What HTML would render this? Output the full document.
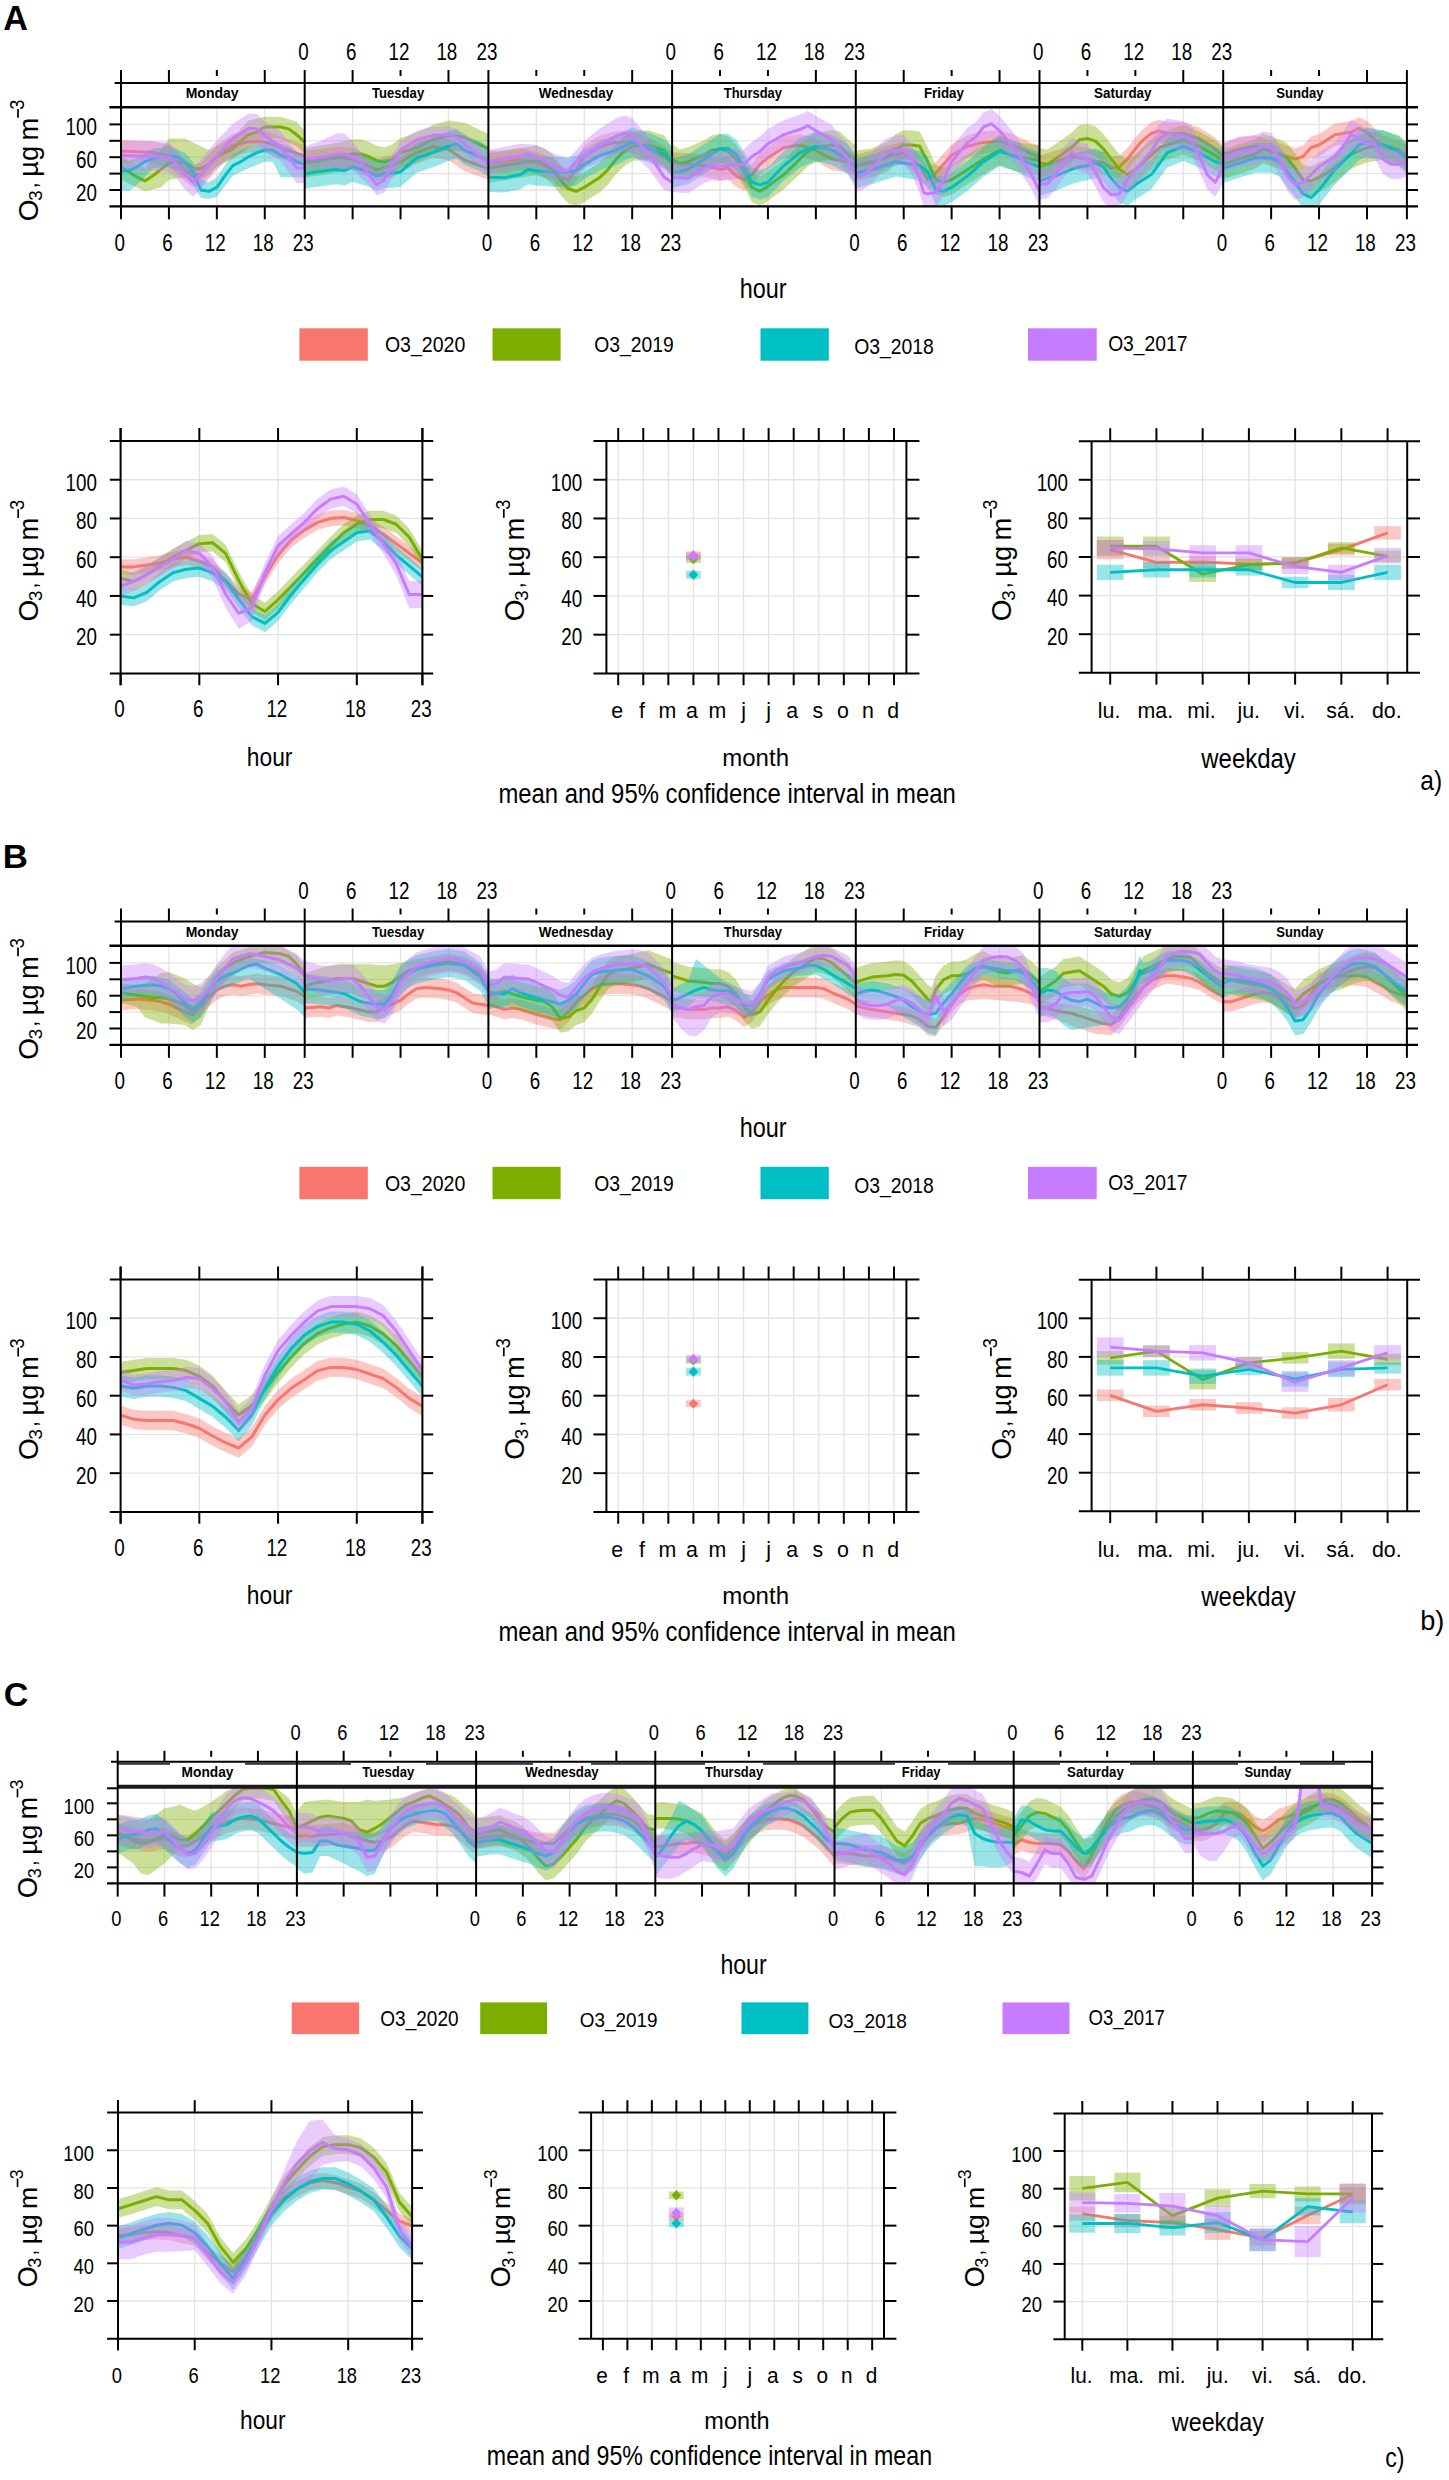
<!DOCTYPE html><html><head><meta charset="utf-8"><style>html,body{margin:0;padding:0;background:#fff;}svg{display:block;}text{font-family:"Liberation Sans",sans-serif;}</style></head><body>
<svg width="1449" height="2480" viewBox="0 0 1449 2480">
<rect width="1449" height="2480" fill="#fff"/>
<text transform="translate(3.15,30.00) scale(0.9786,1)" font-size="34.93" font-weight="bold" fill="#000" >A</text>
<text transform="translate(2.74,867.60) scale(1.0518,1)" font-size="33.04" font-weight="bold" fill="#000" >B</text>
<text transform="translate(3.64,1706.40) scale(1.0499,1)" font-size="32.43" font-weight="bold" fill="#000" >C</text>
<g transform="translate(0,0)"><line x1="168.92" y1="108.00" x2="168.92" y2="206.40" stroke="#e3e3e3" stroke-width="1.3"/><line x1="216.84" y1="108.00" x2="216.84" y2="206.40" stroke="#e3e3e3" stroke-width="1.3"/><line x1="264.77" y1="108.00" x2="264.77" y2="206.40" stroke="#e3e3e3" stroke-width="1.3"/><line x1="352.62" y1="108.00" x2="352.62" y2="206.40" stroke="#e3e3e3" stroke-width="1.3"/><line x1="400.54" y1="108.00" x2="400.54" y2="206.40" stroke="#e3e3e3" stroke-width="1.3"/><line x1="448.47" y1="108.00" x2="448.47" y2="206.40" stroke="#e3e3e3" stroke-width="1.3"/><line x1="536.32" y1="108.00" x2="536.32" y2="206.40" stroke="#e3e3e3" stroke-width="1.3"/><line x1="584.24" y1="108.00" x2="584.24" y2="206.40" stroke="#e3e3e3" stroke-width="1.3"/><line x1="632.17" y1="108.00" x2="632.17" y2="206.40" stroke="#e3e3e3" stroke-width="1.3"/><line x1="720.02" y1="108.00" x2="720.02" y2="206.40" stroke="#e3e3e3" stroke-width="1.3"/><line x1="767.94" y1="108.00" x2="767.94" y2="206.40" stroke="#e3e3e3" stroke-width="1.3"/><line x1="815.87" y1="108.00" x2="815.87" y2="206.40" stroke="#e3e3e3" stroke-width="1.3"/><line x1="903.72" y1="108.00" x2="903.72" y2="206.40" stroke="#e3e3e3" stroke-width="1.3"/><line x1="951.64" y1="108.00" x2="951.64" y2="206.40" stroke="#e3e3e3" stroke-width="1.3"/><line x1="999.57" y1="108.00" x2="999.57" y2="206.40" stroke="#e3e3e3" stroke-width="1.3"/><line x1="1087.42" y1="108.00" x2="1087.42" y2="206.40" stroke="#e3e3e3" stroke-width="1.3"/><line x1="1135.34" y1="108.00" x2="1135.34" y2="206.40" stroke="#e3e3e3" stroke-width="1.3"/><line x1="1183.27" y1="108.00" x2="1183.27" y2="206.40" stroke="#e3e3e3" stroke-width="1.3"/><line x1="1271.12" y1="108.00" x2="1271.12" y2="206.40" stroke="#e3e3e3" stroke-width="1.3"/><line x1="1319.04" y1="108.00" x2="1319.04" y2="206.40" stroke="#e3e3e3" stroke-width="1.3"/><line x1="1366.97" y1="108.00" x2="1366.97" y2="206.40" stroke="#e3e3e3" stroke-width="1.3"/><line x1="121.00" y1="190.00" x2="1406.90" y2="190.00" stroke="#e3e3e3" stroke-width="1.3"/><line x1="121.00" y1="173.60" x2="1406.90" y2="173.60" stroke="#e3e3e3" stroke-width="1.3"/><line x1="121.00" y1="157.20" x2="1406.90" y2="157.20" stroke="#e3e3e3" stroke-width="1.3"/><line x1="121.00" y1="140.80" x2="1406.90" y2="140.80" stroke="#e3e3e3" stroke-width="1.3"/><line x1="121.00" y1="124.40" x2="1406.90" y2="124.40" stroke="#e3e3e3" stroke-width="1.3"/><svg x="121.0" y="108.0" width="1285.8999999999999" height="98.4" viewBox="121.0 108.0 1285.8999999999999 98.4" overflow="hidden"><path d="M121.00,139.80 L136.97,140.57 L152.95,141.47 L168.92,144.81 L184.90,158.96 L192.88,164.75 L200.87,163.08 L208.86,154.72 L216.84,144.81 L232.82,134.01 L248.79,130.66 L264.77,130.66 L280.74,136.45 L296.71,142.24 L304.70,144.81 L304.70,167.00 L296.71,164.43 L280.74,158.64 L264.77,152.85 L248.79,152.85 L232.82,156.20 L216.84,167.00 L208.86,176.91 L200.87,185.27 L192.88,186.94 L184.90,181.15 L168.92,167.00 L152.95,163.66 L136.97,162.76 L121.00,161.98 Z" fill="#F8766D" fill-opacity="0.4" stroke="none"/><path d="M121.00,150.89 L136.97,151.66 L152.95,152.56 L168.92,155.91 L184.90,170.06 L192.88,175.84 L200.87,174.17 L208.86,165.81 L216.84,155.91 L232.82,145.10 L248.79,141.76 L264.77,141.76 L280.74,147.55 L296.71,153.33 L304.70,155.91" fill="none" stroke="#F8766D" stroke-width="3.0" stroke-linejoin="round"/><path d="M304.70,150.60 L320.67,148.93 L336.65,146.49 L352.62,148.03 L368.60,154.72 L376.58,158.96 L384.57,156.39 L392.56,154.72 L400.54,150.60 L416.52,141.47 L432.49,135.68 L448.47,138.12 L464.44,148.93 L480.41,154.72 L488.40,157.29 L488.40,179.48 L480.41,176.91 L464.44,171.12 L448.47,160.31 L432.49,157.87 L416.52,163.66 L400.54,172.79 L392.56,176.91 L384.57,178.58 L376.58,181.15 L368.60,176.91 L352.62,170.22 L336.65,168.67 L320.67,171.12 L304.70,172.79 Z" fill="#F8766D" fill-opacity="0.4" stroke="none"/><path d="M304.70,161.70 L320.67,160.02 L336.65,157.58 L352.62,159.12 L368.60,165.81 L376.58,170.06 L384.57,167.48 L392.56,165.81 L400.54,161.70 L416.52,152.56 L432.49,146.77 L448.47,149.22 L464.44,160.02 L480.41,165.81 L488.40,168.38" fill="none" stroke="#F8766D" stroke-width="3.0" stroke-linejoin="round"/><path d="M488.40,150.60 L504.37,150.60 L520.35,148.03 L536.32,151.89 L552.30,158.32 L560.28,166.04 L568.27,168.61 L576.26,158.32 L584.24,145.46 L600.22,135.17 L616.19,131.31 L632.17,130.66 L648.14,137.74 L664.11,145.46 L672.10,151.89 L672.10,174.08 L664.11,167.64 L648.14,159.93 L632.17,152.85 L616.19,153.50 L600.22,157.35 L584.24,167.64 L576.26,180.51 L568.27,190.80 L560.28,188.22 L552.30,180.51 L536.32,174.08 L520.35,170.22 L504.37,172.79 L488.40,172.79 Z" fill="#F8766D" fill-opacity="0.4" stroke="none"/><path d="M488.40,161.70 L504.37,161.70 L520.35,159.12 L536.32,162.98 L552.30,169.41 L560.28,177.13 L568.27,179.70 L576.26,169.41 L584.24,156.55 L600.22,146.26 L616.19,142.40 L632.17,141.76 L648.14,148.83 L664.11,156.55 L672.10,162.98" fill="none" stroke="#F8766D" stroke-width="3.0" stroke-linejoin="round"/><path d="M672.10,151.89 L688.07,153.17 L704.05,154.46 L720.02,158.32 L728.01,157.03 L736.00,164.75 L743.98,168.61 L751.97,163.46 L759.96,153.17 L767.94,146.74 L783.92,136.45 L799.89,133.88 L815.87,139.02 L831.84,148.03 L847.81,150.60 L855.80,154.46 L855.80,176.65 L847.81,172.79 L831.84,170.22 L815.87,161.21 L799.89,156.07 L783.92,158.64 L767.94,168.93 L759.96,175.36 L751.97,185.65 L743.98,190.80 L736.00,186.94 L728.01,179.22 L720.02,180.51 L704.05,176.65 L688.07,175.36 L672.10,174.08 Z" fill="#F8766D" fill-opacity="0.4" stroke="none"/><path d="M672.10,162.98 L688.07,164.27 L704.05,165.55 L720.02,169.41 L728.01,168.13 L736.00,175.84 L743.98,179.70 L751.97,174.56 L759.96,164.27 L767.94,157.84 L783.92,147.55 L799.89,144.97 L815.87,150.12 L831.84,159.12 L847.81,161.70 L855.80,165.55" fill="none" stroke="#F8766D" stroke-width="3.0" stroke-linejoin="round"/><path d="M855.80,154.46 L871.77,150.60 L887.75,145.46 L903.72,141.60 L919.70,154.46 L927.68,168.61 L935.67,162.18 L943.66,153.17 L951.64,144.17 L967.62,135.17 L983.59,131.31 L999.57,130.02 L1015.54,135.17 L1031.51,142.88 L1039.50,145.46 L1039.50,167.64 L1031.51,165.07 L1015.54,157.35 L999.57,152.21 L983.59,153.50 L967.62,157.35 L951.64,166.36 L943.66,175.36 L935.67,184.37 L927.68,190.80 L919.70,176.65 L903.72,163.79 L887.75,167.64 L871.77,172.79 L855.80,176.65 Z" fill="#F8766D" fill-opacity="0.4" stroke="none"/><path d="M855.80,165.55 L871.77,161.70 L887.75,156.55 L903.72,152.69 L919.70,165.55 L927.68,179.70 L935.67,173.27 L943.66,164.27 L951.64,155.26 L967.62,146.26 L983.59,142.40 L999.57,141.12 L1015.54,146.26 L1031.51,153.98 L1039.50,156.55" fill="none" stroke="#F8766D" stroke-width="3.0" stroke-linejoin="round"/><path d="M1039.50,155.75 L1055.47,150.60 L1071.45,145.46 L1087.42,148.03 L1103.40,151.89 L1111.38,157.03 L1119.37,155.75 L1127.36,148.03 L1135.34,137.74 L1143.33,128.73 L1151.32,122.30 L1159.30,119.73 L1167.29,122.30 L1183.27,122.30 L1199.24,127.45 L1215.21,137.74 L1223.20,145.46 L1223.20,167.64 L1215.21,159.93 L1199.24,149.64 L1183.27,144.49 L1167.29,144.49 L1159.30,141.92 L1151.32,144.49 L1143.33,150.92 L1135.34,159.93 L1127.36,170.22 L1119.37,177.93 L1111.38,179.22 L1103.40,174.08 L1087.42,170.22 L1071.45,167.64 L1055.47,172.79 L1039.50,177.93 Z" fill="#F8766D" fill-opacity="0.4" stroke="none"/><path d="M1039.50,166.84 L1055.47,161.70 L1071.45,156.55 L1087.42,159.12 L1103.40,162.98 L1111.38,168.13 L1119.37,166.84 L1127.36,159.12 L1135.34,148.83 L1143.33,139.83 L1151.32,133.40 L1159.30,130.82 L1167.29,133.40 L1183.27,133.40 L1199.24,138.54 L1215.21,148.83 L1223.20,156.55" fill="none" stroke="#F8766D" stroke-width="3.0" stroke-linejoin="round"/><path d="M1223.20,142.88 L1239.17,137.74 L1255.15,135.17 L1271.12,140.31 L1287.10,145.46 L1295.08,148.03 L1303.07,145.46 L1311.06,136.45 L1319.04,133.88 L1335.02,123.59 L1350.99,121.02 L1358.98,117.16 L1366.97,121.02 L1374.95,128.73 L1382.94,135.17 L1398.91,140.31 L1406.90,144.17 L1406.90,166.36 L1398.91,162.50 L1382.94,157.35 L1374.95,150.92 L1366.97,143.21 L1358.98,139.35 L1350.99,143.21 L1335.02,145.78 L1319.04,156.07 L1311.06,158.64 L1303.07,167.64 L1295.08,170.22 L1287.10,167.64 L1271.12,162.50 L1255.15,157.35 L1239.17,159.93 L1223.20,165.07 Z" fill="#F8766D" fill-opacity="0.4" stroke="none"/><path d="M1223.20,153.98 L1239.17,148.83 L1255.15,146.26 L1271.12,151.41 L1287.10,156.55 L1295.08,159.12 L1303.07,156.55 L1311.06,147.55 L1319.04,144.97 L1335.02,134.68 L1350.99,132.11 L1358.98,128.25 L1366.97,132.11 L1374.95,139.83 L1382.94,146.26 L1398.91,151.41 L1406.90,155.26" fill="none" stroke="#F8766D" stroke-width="3.0" stroke-linejoin="round"/><path d="M121.00,156.55 L128.99,160.41 L136.97,164.27 L144.96,168.13 L152.95,159.12 L160.93,150.12 L168.92,138.54 L176.91,138.54 L184.90,138.54 L192.88,142.40 L200.87,146.26 L208.86,150.12 L216.84,146.26 L232.82,137.26 L240.80,128.90 L248.79,120.53 L256.78,118.61 L264.77,116.68 L280.74,116.68 L288.73,119.25 L296.71,121.82 L304.70,130.82 L304.70,153.98 L296.71,146.26 L288.73,142.40 L280.74,138.54 L264.77,138.54 L256.78,143.04 L248.79,147.55 L240.80,153.33 L232.82,159.12 L216.84,166.84 L208.86,174.56 L200.87,179.70 L192.88,178.42 L184.90,177.13 L176.91,178.42 L168.92,179.70 L160.93,187.42 L152.95,189.35 L144.96,191.28 L136.97,187.42 L128.99,183.56 L121.00,179.70 Z" fill="#7CAE00" fill-opacity="0.4" stroke="none"/><path d="M121.00,166.84 L128.99,171.99 L136.97,177.13 L144.96,180.99 L152.95,175.84 L160.93,169.41 L168.92,162.98 L176.91,161.70 L184.90,162.98 L192.88,168.13 L200.87,168.77 L208.86,164.27 L216.84,156.55 L232.82,148.83 L240.80,141.12 L248.79,134.68 L256.78,132.11 L264.77,126.97 L280.74,126.97 L288.73,128.90 L296.71,134.68 L304.70,142.40" fill="none" stroke="#7CAE00" stroke-width="3.0" stroke-linejoin="round"/><path d="M304.70,148.19 L320.67,145.62 L336.65,143.04 L352.62,139.19 L360.61,139.19 L368.60,141.76 L376.58,145.62 L384.57,147.55 L392.56,144.33 L400.54,137.90 L416.52,132.75 L432.49,125.04 L448.47,120.53 L464.44,122.46 L480.41,130.18 L488.40,134.04 L488.40,163.62 L480.41,159.77 L464.44,152.05 L448.47,150.12 L432.49,154.62 L416.52,162.34 L400.54,167.48 L392.56,173.92 L384.57,177.13 L376.58,175.20 L368.60,171.34 L360.61,168.77 L352.62,168.77 L336.65,172.63 L320.67,175.20 L304.70,177.77 Z" fill="#7CAE00" fill-opacity="0.4" stroke="none"/><path d="M304.70,162.98 L320.67,160.41 L336.65,157.84 L352.62,153.98 L360.61,153.98 L368.60,156.55 L376.58,160.41 L384.57,162.34 L392.56,159.12 L400.54,152.69 L416.52,147.55 L432.49,139.83 L448.47,135.33 L464.44,137.26 L480.41,144.97 L488.40,148.83" fill="none" stroke="#7CAE00" stroke-width="3.0" stroke-linejoin="round"/><path d="M488.40,153.33 L504.37,150.76 L520.35,148.19 L536.32,145.62 L544.31,148.19 L552.30,154.62 L560.28,164.91 L568.27,173.92 L576.26,176.49 L584.24,172.63 L592.23,167.48 L600.22,162.34 L608.20,154.62 L616.19,144.33 L624.18,136.61 L632.17,131.47 L648.14,130.18 L664.11,135.33 L672.10,146.90 L672.10,176.49 L664.11,164.91 L648.14,159.77 L632.17,161.05 L624.18,166.20 L616.19,173.92 L608.20,184.21 L600.22,191.92 L592.23,197.07 L584.24,202.21 L576.26,206.07 L568.27,203.50 L560.28,194.50 L552.30,184.21 L544.31,177.77 L536.32,175.20 L520.35,177.77 L504.37,180.35 L488.40,182.92 Z" fill="#7CAE00" fill-opacity="0.4" stroke="none"/><path d="M488.40,168.13 L504.37,165.55 L520.35,162.98 L536.32,160.41 L544.31,162.98 L552.30,169.41 L560.28,179.70 L568.27,188.71 L576.26,191.28 L584.24,187.42 L592.23,182.28 L600.22,177.13 L608.20,169.41 L616.19,159.12 L624.18,151.41 L632.17,146.26 L648.14,144.97 L664.11,150.12 L672.10,161.70" fill="none" stroke="#7CAE00" stroke-width="3.0" stroke-linejoin="round"/><path d="M672.10,144.33 L680.09,149.48 L688.07,146.90 L704.05,140.47 L712.03,135.33 L720.02,134.04 L728.01,136.61 L736.00,144.33 L743.98,157.19 L751.97,172.63 L759.96,176.49 L767.94,171.34 L783.92,159.77 L799.89,144.33 L807.88,136.61 L815.87,132.75 L823.85,131.47 L831.84,130.18 L839.83,131.47 L847.81,139.19 L855.80,145.62 L855.80,175.20 L847.81,168.77 L839.83,161.05 L831.84,159.77 L823.85,161.05 L815.87,162.34 L807.88,166.20 L799.89,173.92 L783.92,189.35 L767.94,200.93 L759.96,206.07 L751.97,202.21 L743.98,186.78 L736.00,173.92 L728.01,166.20 L720.02,163.62 L712.03,164.91 L704.05,170.06 L688.07,176.49 L680.09,179.06 L672.10,173.92 Z" fill="#7CAE00" fill-opacity="0.4" stroke="none"/><path d="M672.10,159.12 L680.09,164.27 L688.07,161.70 L704.05,155.26 L712.03,150.12 L720.02,148.83 L728.01,151.41 L736.00,159.12 L743.98,171.99 L751.97,187.42 L759.96,191.28 L767.94,186.13 L783.92,174.56 L799.89,159.12 L807.88,151.41 L815.87,147.55 L823.85,146.26 L831.84,144.97 L839.83,146.26 L847.81,153.98 L855.80,160.41" fill="none" stroke="#7CAE00" stroke-width="3.0" stroke-linejoin="round"/><path d="M855.80,150.76 L871.77,148.19 L887.75,141.76 L895.73,134.04 L903.72,130.18 L911.71,130.18 L919.70,131.47 L927.68,146.90 L935.67,164.91 L943.66,167.48 L951.64,164.91 L967.62,154.62 L983.59,144.33 L999.57,135.33 L1015.54,141.76 L1031.51,144.33 L1039.50,145.62 L1039.50,175.20 L1031.51,173.92 L1015.54,171.34 L999.57,164.91 L983.59,173.92 L967.62,184.21 L951.64,194.50 L943.66,197.07 L935.67,194.50 L927.68,176.49 L919.70,161.05 L911.71,159.77 L903.72,159.77 L895.73,163.62 L887.75,171.34 L871.77,177.77 L855.80,180.35 Z" fill="#7CAE00" fill-opacity="0.4" stroke="none"/><path d="M855.80,165.55 L871.77,162.98 L887.75,156.55 L895.73,148.83 L903.72,144.97 L911.71,144.97 L919.70,146.26 L927.68,161.70 L935.67,179.70 L943.66,182.28 L951.64,179.70 L967.62,169.41 L983.59,159.12 L999.57,150.12 L1015.54,156.55 L1031.51,159.12 L1039.50,160.41" fill="none" stroke="#7CAE00" stroke-width="3.0" stroke-linejoin="round"/><path d="M1039.50,148.19 L1047.49,149.48 L1055.47,144.33 L1071.45,132.75 L1079.43,125.04 L1087.42,123.75 L1095.41,126.32 L1103.40,134.04 L1111.38,144.33 L1119.37,154.62 L1127.36,159.77 L1135.34,154.62 L1151.32,140.47 L1159.30,132.75 L1167.29,130.18 L1183.27,125.04 L1199.24,131.47 L1215.21,140.47 L1223.20,146.90 L1223.20,176.49 L1215.21,170.06 L1199.24,161.05 L1183.27,154.62 L1167.29,159.77 L1159.30,162.34 L1151.32,170.06 L1135.34,184.21 L1127.36,189.35 L1119.37,184.21 L1111.38,173.92 L1103.40,163.62 L1095.41,155.91 L1087.42,153.33 L1079.43,154.62 L1071.45,162.34 L1055.47,173.92 L1047.49,179.06 L1039.50,177.77 Z" fill="#7CAE00" fill-opacity="0.4" stroke="none"/><path d="M1039.50,162.98 L1047.49,164.27 L1055.47,159.12 L1071.45,147.55 L1079.43,139.83 L1087.42,138.54 L1095.41,141.12 L1103.40,148.83 L1111.38,159.12 L1119.37,169.41 L1127.36,174.56 L1135.34,169.41 L1151.32,155.26 L1159.30,147.55 L1167.29,144.97 L1183.27,139.83 L1199.24,146.26 L1215.21,155.26 L1223.20,161.70" fill="none" stroke="#7CAE00" stroke-width="3.0" stroke-linejoin="round"/><path d="M1223.20,149.48 L1239.17,144.33 L1255.15,139.19 L1263.13,134.04 L1271.12,136.61 L1279.11,139.19 L1287.10,143.04 L1295.08,153.33 L1303.07,164.91 L1311.06,166.20 L1319.04,162.34 L1327.03,158.48 L1335.02,152.05 L1350.99,139.19 L1366.97,132.75 L1382.94,130.18 L1398.91,135.33 L1406.90,141.76 L1406.90,171.34 L1398.91,164.91 L1382.94,159.77 L1366.97,162.34 L1350.99,168.77 L1335.02,181.63 L1327.03,188.06 L1319.04,191.92 L1311.06,195.78 L1303.07,194.50 L1295.08,182.92 L1287.10,172.63 L1279.11,168.77 L1271.12,166.20 L1263.13,163.62 L1255.15,168.77 L1239.17,173.92 L1223.20,179.06 Z" fill="#7CAE00" fill-opacity="0.4" stroke="none"/><path d="M1223.20,164.27 L1239.17,159.12 L1255.15,153.98 L1263.13,148.83 L1271.12,151.41 L1279.11,153.98 L1287.10,157.84 L1295.08,168.13 L1303.07,179.70 L1311.06,180.99 L1319.04,177.13 L1327.03,173.27 L1335.02,166.84 L1350.99,153.98 L1366.97,147.55 L1382.94,144.97 L1398.91,150.12 L1406.90,156.55" fill="none" stroke="#7CAE00" stroke-width="3.0" stroke-linejoin="round"/><path d="M121.00,159.12 L128.99,161.70 L136.97,157.84 L144.96,153.33 L152.95,148.83 L160.93,147.55 L168.92,146.26 L176.91,149.48 L184.90,152.69 L192.88,161.70 L200.87,179.70 L208.86,182.28 L216.84,177.13 L224.83,165.55 L232.82,153.98 L240.80,150.12 L248.79,146.26 L256.78,143.69 L264.77,141.12 L272.75,141.12 L280.74,143.69 L288.73,146.26 L296.71,151.41 L304.70,155.26 L304.70,177.13 L296.71,177.13 L288.73,177.13 L280.74,177.13 L272.75,161.70 L264.77,161.70 L256.78,164.91 L248.79,168.13 L240.80,171.99 L232.82,175.84 L224.83,186.13 L216.84,196.42 L208.86,199.00 L200.87,197.71 L192.88,184.85 L184.90,174.56 L176.91,170.70 L168.92,166.84 L160.93,167.48 L152.95,168.13 L144.96,176.49 L136.97,184.85 L128.99,191.28 L121.00,189.99 Z" fill="#00BFC4" fill-opacity="0.4" stroke="none"/><path d="M121.00,170.70 L128.99,170.70 L136.97,166.84 L144.96,161.70 L152.95,158.48 L160.93,156.55 L168.92,156.55 L176.91,156.55 L184.90,162.98 L192.88,171.99 L200.87,189.99 L208.86,191.28 L216.84,187.42 L224.83,175.84 L232.82,165.55 L240.80,161.70 L248.79,156.55 L256.78,152.69 L264.77,150.12 L272.75,150.12 L280.74,155.26 L288.73,157.84 L296.71,161.70 L304.70,164.27" fill="none" stroke="#00BFC4" stroke-width="3.0" stroke-linejoin="round"/><path d="M304.70,159.12 L320.67,156.55 L336.65,154.62 L344.63,155.91 L352.62,152.05 L368.60,157.19 L376.58,161.05 L384.57,158.48 L392.56,158.48 L400.54,157.19 L416.52,143.04 L432.49,137.90 L448.47,131.47 L456.45,128.90 L464.44,135.33 L480.41,141.76 L488.40,146.90 L488.40,176.49 L480.41,171.34 L464.44,164.91 L456.45,158.48 L448.47,161.05 L432.49,167.48 L416.52,172.63 L400.54,186.78 L392.56,188.06 L384.57,188.06 L376.58,190.64 L368.60,186.78 L352.62,181.63 L344.63,185.49 L336.65,184.21 L320.67,186.13 L304.70,188.71 Z" fill="#00BFC4" fill-opacity="0.4" stroke="none"/><path d="M304.70,173.92 L320.67,171.34 L336.65,169.41 L344.63,170.70 L352.62,166.84 L368.60,171.99 L376.58,175.84 L384.57,173.27 L392.56,173.27 L400.54,171.99 L416.52,157.84 L432.49,152.69 L448.47,146.26 L456.45,143.69 L464.44,150.12 L480.41,156.55 L488.40,161.70" fill="none" stroke="#00BFC4" stroke-width="3.0" stroke-linejoin="round"/><path d="M488.40,162.34 L504.37,162.98 L520.35,159.77 L528.33,154.62 L536.32,155.91 L552.30,157.19 L568.27,157.19 L576.26,155.91 L584.24,149.48 L600.22,140.47 L616.19,135.33 L632.17,127.61 L648.14,132.75 L664.11,139.19 L672.10,146.90 L672.10,176.49 L664.11,168.77 L648.14,162.34 L632.17,157.19 L616.19,164.91 L600.22,170.06 L584.24,179.06 L576.26,185.49 L568.27,186.78 L552.30,186.78 L536.32,185.49 L528.33,184.21 L520.35,189.35 L504.37,192.57 L488.40,191.92 Z" fill="#00BFC4" fill-opacity="0.4" stroke="none"/><path d="M488.40,177.13 L504.37,177.77 L520.35,174.56 L528.33,169.41 L536.32,170.70 L552.30,171.99 L568.27,171.99 L576.26,170.70 L584.24,164.27 L600.22,155.26 L616.19,150.12 L632.17,142.40 L648.14,147.55 L664.11,153.98 L672.10,161.70" fill="none" stroke="#00BFC4" stroke-width="3.0" stroke-linejoin="round"/><path d="M672.10,158.48 L688.07,154.62 L704.05,144.33 L720.02,134.04 L728.01,134.04 L736.00,139.19 L743.98,152.05 L751.97,167.48 L759.96,170.06 L767.94,167.48 L783.92,150.76 L799.89,137.90 L815.87,131.47 L831.84,135.33 L847.81,144.33 L855.80,154.62 L855.80,184.21 L847.81,173.92 L831.84,164.91 L815.87,161.05 L799.89,167.48 L783.92,180.35 L767.94,197.07 L759.96,199.64 L751.97,197.07 L743.98,181.63 L736.00,168.77 L728.01,163.62 L720.02,163.62 L704.05,173.92 L688.07,184.21 L672.10,188.06 Z" fill="#00BFC4" fill-opacity="0.4" stroke="none"/><path d="M672.10,173.27 L688.07,169.41 L704.05,159.12 L720.02,148.83 L728.01,148.83 L736.00,153.98 L743.98,166.84 L751.97,182.28 L759.96,184.85 L767.94,182.28 L783.92,165.55 L799.89,152.69 L815.87,146.26 L831.84,150.12 L847.81,159.12 L855.80,169.41" fill="none" stroke="#00BFC4" stroke-width="3.0" stroke-linejoin="round"/><path d="M855.80,158.48 L871.77,154.62 L887.75,149.48 L895.73,146.90 L903.72,148.19 L911.71,149.48 L919.70,150.76 L927.68,157.19 L935.67,175.20 L943.66,176.49 L951.64,172.63 L967.62,161.05 L983.59,146.90 L999.57,136.61 L1015.54,141.76 L1031.51,149.48 L1039.50,152.05 L1039.50,181.63 L1031.51,179.06 L1015.54,171.34 L999.57,166.20 L983.59,176.49 L967.62,190.64 L951.64,202.21 L943.66,206.07 L935.67,204.79 L927.68,186.78 L919.70,180.35 L911.71,179.06 L903.72,177.77 L895.73,176.49 L887.75,179.06 L871.77,184.21 L855.80,188.06 Z" fill="#00BFC4" fill-opacity="0.4" stroke="none"/><path d="M855.80,173.27 L871.77,169.41 L887.75,164.27 L895.73,161.70 L903.72,162.98 L911.71,164.27 L919.70,165.55 L927.68,171.99 L935.67,189.99 L943.66,191.28 L951.64,187.42 L967.62,175.84 L983.59,161.70 L999.57,151.41 L1015.54,156.55 L1031.51,164.27 L1039.50,166.84" fill="none" stroke="#00BFC4" stroke-width="3.0" stroke-linejoin="round"/><path d="M1039.50,166.20 L1055.47,161.05 L1071.45,154.62 L1079.43,152.05 L1087.42,150.76 L1095.41,148.19 L1103.40,152.05 L1111.38,163.62 L1119.37,172.63 L1127.36,176.49 L1135.34,170.06 L1151.32,159.77 L1167.29,137.90 L1183.27,131.47 L1199.24,137.90 L1215.21,146.90 L1223.20,149.48 L1223.20,179.06 L1215.21,176.49 L1199.24,167.48 L1183.27,161.05 L1167.29,167.48 L1151.32,189.35 L1135.34,199.64 L1127.36,206.07 L1119.37,202.21 L1111.38,193.21 L1103.40,181.63 L1095.41,177.77 L1087.42,180.35 L1079.43,181.63 L1071.45,184.21 L1055.47,190.64 L1039.50,195.78 Z" fill="#00BFC4" fill-opacity="0.4" stroke="none"/><path d="M1039.50,180.99 L1055.47,175.84 L1071.45,169.41 L1079.43,166.84 L1087.42,165.55 L1095.41,162.98 L1103.40,166.84 L1111.38,178.42 L1119.37,187.42 L1127.36,191.28 L1135.34,184.85 L1151.32,174.56 L1167.29,152.69 L1183.27,146.26 L1199.24,152.69 L1215.21,161.70 L1223.20,164.27" fill="none" stroke="#00BFC4" stroke-width="3.0" stroke-linejoin="round"/><path d="M1223.20,153.33 L1239.17,148.19 L1255.15,143.04 L1271.12,143.04 L1279.11,146.90 L1287.10,157.19 L1295.08,167.48 L1303.07,179.06 L1311.06,182.92 L1319.04,175.20 L1335.02,154.62 L1350.99,139.19 L1358.98,130.18 L1366.97,127.61 L1382.94,130.18 L1398.91,136.61 L1406.90,144.33 L1406.90,173.92 L1398.91,166.20 L1382.94,159.77 L1366.97,157.19 L1358.98,159.77 L1350.99,168.77 L1335.02,184.21 L1319.04,204.79 L1311.06,212.50 L1303.07,208.64 L1295.08,197.07 L1287.10,186.78 L1279.11,176.49 L1271.12,172.63 L1255.15,172.63 L1239.17,177.77 L1223.20,182.92 Z" fill="#00BFC4" fill-opacity="0.4" stroke="none"/><path d="M1223.20,168.13 L1239.17,162.98 L1255.15,157.84 L1271.12,157.84 L1279.11,161.70 L1287.10,171.99 L1295.08,182.28 L1303.07,193.85 L1311.06,197.71 L1319.04,189.99 L1335.02,169.41 L1350.99,153.98 L1358.98,144.97 L1366.97,142.40 L1382.94,144.97 L1398.91,151.41 L1406.90,159.12" fill="none" stroke="#00BFC4" stroke-width="3.0" stroke-linejoin="round"/><path d="M121.00,140.47 L136.97,141.12 L152.95,141.12 L168.92,142.40 L176.91,149.48 L184.90,159.77 L192.88,167.48 L200.87,159.77 L208.86,149.48 L216.84,140.47 L232.82,123.75 L248.79,113.46 L256.78,114.10 L264.77,121.18 L280.74,131.47 L296.71,153.33 L304.70,153.33 L304.70,182.92 L296.71,182.92 L280.74,161.05 L264.77,150.76 L256.78,143.69 L248.79,143.04 L232.82,153.33 L216.84,170.06 L208.86,179.06 L200.87,189.35 L192.88,197.07 L184.90,189.35 L176.91,179.06 L168.92,171.99 L152.95,170.70 L136.97,170.70 L121.00,170.06 Z" fill="#C77CFF" fill-opacity="0.4" stroke="none"/><path d="M121.00,155.26 L136.97,155.91 L152.95,155.91 L168.92,157.19 L176.91,164.27 L184.90,174.56 L192.88,182.28 L200.87,174.56 L208.86,164.27 L216.84,155.26 L232.82,138.54 L248.79,128.25 L256.78,128.90 L264.77,135.97 L280.74,146.26 L296.71,168.13 L304.70,168.13" fill="none" stroke="#C77CFF" stroke-width="3.0" stroke-linejoin="round"/><path d="M304.70,146.26 L320.67,141.12 L336.65,133.40 L344.63,133.40 L352.62,141.12 L360.61,152.05 L368.60,162.98 L376.58,171.99 L384.57,166.84 L392.56,153.98 L400.54,141.12 L416.52,130.82 L432.49,126.97 L448.47,125.68 L456.45,129.54 L464.44,133.40 L480.41,146.26 L488.40,152.69 L488.40,174.56 L480.41,166.84 L464.44,153.98 L456.45,149.48 L448.47,144.97 L432.49,144.97 L416.52,150.12 L400.54,161.70 L392.56,177.13 L384.57,192.57 L376.58,195.14 L368.60,184.85 L360.61,177.13 L352.62,169.41 L344.63,169.41 L336.65,168.13 L320.67,166.84 L304.70,168.13 Z" fill="#C77CFF" fill-opacity="0.4" stroke="none"/><path d="M304.70,159.12 L320.67,157.19 L336.65,154.62 L344.63,153.98 L352.62,156.55 L360.61,161.70 L368.60,174.56 L376.58,184.85 L384.57,179.70 L392.56,162.98 L400.54,150.12 L416.52,139.83 L432.49,135.33 L448.47,134.68 L456.45,137.26 L464.44,143.69 L480.41,156.55 L488.40,164.27" fill="none" stroke="#C77CFF" stroke-width="3.0" stroke-linejoin="round"/><path d="M488.40,150.12 L504.37,146.90 L520.35,143.69 L528.33,144.33 L536.32,144.97 L552.30,152.69 L560.28,155.91 L568.27,159.12 L576.26,150.12 L584.24,141.12 L600.22,128.25 L616.19,117.96 L624.18,115.39 L632.17,117.96 L648.14,137.26 L664.11,161.70 L672.10,168.13 L672.10,192.57 L664.11,189.99 L648.14,168.13 L632.17,153.98 L624.18,151.41 L616.19,153.98 L600.22,161.70 L584.24,168.13 L576.26,175.20 L568.27,182.28 L560.28,180.35 L552.30,178.42 L536.32,166.84 L528.33,166.84 L520.35,166.84 L504.37,170.70 L488.40,174.56 Z" fill="#C77CFF" fill-opacity="0.4" stroke="none"/><path d="M488.40,161.70 L504.37,158.48 L520.35,155.91 L528.33,153.33 L536.32,156.55 L552.30,165.55 L560.28,170.70 L568.27,170.70 L576.26,161.70 L584.24,155.26 L600.22,144.97 L616.19,135.97 L624.18,133.40 L632.17,135.97 L648.14,152.69 L664.11,177.13 L672.10,182.28" fill="none" stroke="#C77CFF" stroke-width="3.0" stroke-linejoin="round"/><path d="M672.10,162.34 L688.07,163.62 L704.05,153.33 L712.03,150.76 L720.02,151.41 L736.00,149.48 L743.98,149.48 L751.97,141.76 L759.96,136.61 L767.94,128.90 L783.92,119.89 L799.89,114.75 L807.88,110.89 L815.87,116.03 L831.84,125.04 L847.81,144.33 L855.80,159.77 L855.80,189.35 L847.81,173.92 L831.84,154.62 L815.87,145.62 L807.88,140.47 L799.89,144.33 L783.92,149.48 L767.94,158.48 L759.96,166.20 L751.97,171.34 L743.98,179.06 L736.00,179.06 L720.02,180.99 L712.03,180.35 L704.05,182.92 L688.07,193.21 L672.10,191.92 Z" fill="#C77CFF" fill-opacity="0.4" stroke="none"/><path d="M672.10,177.13 L688.07,178.42 L704.05,168.13 L712.03,165.55 L720.02,166.20 L736.00,164.27 L743.98,164.27 L751.97,156.55 L759.96,151.41 L767.94,143.69 L783.92,134.68 L799.89,129.54 L807.88,125.68 L815.87,130.82 L831.84,139.83 L847.81,159.12 L855.80,174.56" fill="none" stroke="#C77CFF" stroke-width="3.0" stroke-linejoin="round"/><path d="M855.80,162.34 L863.79,159.77 L871.77,153.33 L879.76,144.33 L887.75,137.90 L895.73,135.33 L903.72,135.33 L911.71,144.33 L919.70,163.62 L923.69,177.77 L927.68,179.06 L935.67,177.77 L943.66,164.91 L951.64,146.90 L967.62,127.61 L975.60,122.46 L983.59,112.17 L991.58,108.96 L999.57,116.03 L1015.54,135.33 L1031.51,159.77 L1039.50,176.49 L1039.50,206.07 L1031.51,189.35 L1015.54,164.91 L999.57,145.62 L991.58,138.54 L983.59,141.76 L975.60,152.05 L967.62,157.19 L951.64,176.49 L943.66,194.50 L935.67,207.36 L927.68,208.64 L923.69,207.36 L919.70,193.21 L911.71,173.92 L903.72,164.91 L895.73,164.91 L887.75,167.48 L879.76,173.92 L871.77,182.92 L863.79,189.35 L855.80,191.92 Z" fill="#C77CFF" fill-opacity="0.4" stroke="none"/><path d="M855.80,177.13 L863.79,174.56 L871.77,168.13 L879.76,159.12 L887.75,152.69 L895.73,150.12 L903.72,150.12 L911.71,159.12 L919.70,178.42 L923.69,192.57 L927.68,193.85 L935.67,192.57 L943.66,179.70 L951.64,161.70 L967.62,142.40 L975.60,137.26 L983.59,126.97 L991.58,123.75 L999.57,130.82 L1015.54,150.12 L1031.51,174.56 L1039.50,191.28" fill="none" stroke="#C77CFF" stroke-width="3.0" stroke-linejoin="round"/><path d="M1039.50,170.06 L1047.49,168.77 L1055.47,159.77 L1063.46,148.19 L1071.45,137.90 L1079.43,141.76 L1087.42,144.33 L1095.41,157.19 L1103.40,172.63 L1111.38,180.35 L1119.37,179.06 L1127.36,164.91 L1135.34,154.62 L1151.32,136.61 L1159.30,123.75 L1167.29,118.61 L1183.27,121.18 L1191.25,125.04 L1199.24,141.76 L1207.23,159.77 L1215.21,167.48 L1223.20,153.33 L1223.20,182.92 L1215.21,197.07 L1207.23,189.35 L1199.24,171.34 L1191.25,154.62 L1183.27,150.76 L1167.29,148.19 L1159.30,153.33 L1151.32,166.20 L1135.34,184.21 L1127.36,194.50 L1119.37,208.64 L1111.38,209.93 L1103.40,202.21 L1095.41,186.78 L1087.42,173.92 L1079.43,171.34 L1071.45,167.48 L1063.46,177.77 L1055.47,189.35 L1047.49,198.35 L1039.50,199.64 Z" fill="#C77CFF" fill-opacity="0.4" stroke="none"/><path d="M1039.50,184.85 L1047.49,183.56 L1055.47,174.56 L1063.46,162.98 L1071.45,152.69 L1079.43,156.55 L1087.42,159.12 L1095.41,171.99 L1103.40,187.42 L1111.38,195.14 L1119.37,193.85 L1127.36,179.70 L1135.34,169.41 L1151.32,151.41 L1159.30,138.54 L1167.29,133.40 L1183.27,135.97 L1191.25,139.83 L1199.24,156.55 L1207.23,174.56 L1215.21,182.28 L1223.20,168.13" fill="none" stroke="#C77CFF" stroke-width="3.0" stroke-linejoin="round"/><path d="M1223.20,143.04 L1239.17,136.61 L1255.15,135.33 L1263.13,131.47 L1271.12,132.75 L1279.11,144.33 L1287.10,161.05 L1295.08,170.06 L1303.07,167.48 L1311.06,159.77 L1319.04,152.05 L1335.02,141.76 L1343.00,131.47 L1350.99,119.89 L1358.98,123.75 L1366.97,128.90 L1374.95,128.90 L1382.94,144.33 L1390.93,149.48 L1398.91,149.48 L1406.90,146.90 L1406.90,176.49 L1398.91,179.06 L1390.93,179.06 L1382.94,173.92 L1374.95,158.48 L1366.97,158.48 L1358.98,153.33 L1350.99,149.48 L1343.00,161.05 L1335.02,171.34 L1319.04,181.63 L1311.06,189.35 L1303.07,197.07 L1295.08,199.64 L1287.10,190.64 L1279.11,173.92 L1271.12,162.34 L1263.13,161.05 L1255.15,164.91 L1239.17,166.20 L1223.20,172.63 Z" fill="#C77CFF" fill-opacity="0.4" stroke="none"/><path d="M1223.20,157.84 L1239.17,151.41 L1255.15,150.12 L1263.13,146.26 L1271.12,147.55 L1279.11,159.12 L1287.10,175.84 L1295.08,184.85 L1303.07,182.28 L1311.06,174.56 L1319.04,166.84 L1335.02,156.55 L1343.00,146.26 L1350.99,134.68 L1358.98,138.54 L1366.97,143.69 L1374.95,143.69 L1382.94,159.12 L1390.93,164.27 L1398.91,164.27 L1406.90,161.70" fill="none" stroke="#C77CFF" stroke-width="3.0" stroke-linejoin="round"/></svg><text transform="translate(185.69,98.30) scale(0.9765,1)" font-size="14.34" font-weight="bold" fill="#000" >Monday</text><text transform="translate(372.07,98.30) scale(0.9125,1)" font-size="14.34" font-weight="bold" fill="#000" >Tuesday</text><text transform="translate(538.80,98.30) scale(0.9383,1)" font-size="14.34" font-weight="bold" fill="#000" >Wednesday</text><text transform="translate(723.77,98.30) scale(0.9015,1)" font-size="14.34" font-weight="bold" fill="#000" >Thursday</text><text transform="translate(923.93,98.30) scale(0.9303,1)" font-size="14.34" font-weight="bold" fill="#000" >Friday</text><text transform="translate(1094.10,98.30) scale(0.9361,1)" font-size="14.34" font-weight="bold" fill="#000" >Saturday</text><text transform="translate(1276.31,98.30) scale(0.9126,1)" font-size="14.34" font-weight="bold" fill="#000" >Sunday</text><line x1="114.60" y1="83.00" x2="1406.90" y2="83.00" stroke="#000" stroke-width="2.2"/><line x1="109.40" y1="107.30" x2="1418.00" y2="107.30" stroke="#000" stroke-width="2.6"/><line x1="109.40" y1="206.40" x2="1418.00" y2="206.40" stroke="#000" stroke-width="2.2"/><line x1="109.40" y1="190.00" x2="121.00" y2="190.00" stroke="#000" stroke-width="2.0"/><line x1="1406.90" y1="190.00" x2="1418.00" y2="190.00" stroke="#000" stroke-width="2.0"/><line x1="109.40" y1="173.60" x2="121.00" y2="173.60" stroke="#000" stroke-width="2.0"/><line x1="1406.90" y1="173.60" x2="1418.00" y2="173.60" stroke="#000" stroke-width="2.0"/><line x1="109.40" y1="157.20" x2="121.00" y2="157.20" stroke="#000" stroke-width="2.0"/><line x1="1406.90" y1="157.20" x2="1418.00" y2="157.20" stroke="#000" stroke-width="2.0"/><line x1="109.40" y1="140.80" x2="121.00" y2="140.80" stroke="#000" stroke-width="2.0"/><line x1="1406.90" y1="140.80" x2="1418.00" y2="140.80" stroke="#000" stroke-width="2.0"/><line x1="109.40" y1="124.40" x2="121.00" y2="124.40" stroke="#000" stroke-width="2.0"/><line x1="1406.90" y1="124.40" x2="1418.00" y2="124.40" stroke="#000" stroke-width="2.0"/><line x1="121.00" y1="70.00" x2="121.00" y2="219.30" stroke="#000" stroke-width="2.0"/><line x1="304.70" y1="70.00" x2="304.70" y2="219.30" stroke="#000" stroke-width="2.0"/><line x1="488.40" y1="70.00" x2="488.40" y2="219.30" stroke="#000" stroke-width="2.0"/><line x1="672.10" y1="70.00" x2="672.10" y2="219.30" stroke="#000" stroke-width="2.0"/><line x1="855.80" y1="70.00" x2="855.80" y2="219.30" stroke="#000" stroke-width="2.0"/><line x1="1039.50" y1="70.00" x2="1039.50" y2="219.30" stroke="#000" stroke-width="2.0"/><line x1="1223.20" y1="70.00" x2="1223.20" y2="219.30" stroke="#000" stroke-width="2.0"/><line x1="1406.90" y1="70.00" x2="1406.90" y2="219.30" stroke="#000" stroke-width="2.0"/><line x1="168.92" y1="70.00" x2="168.92" y2="83.00" stroke="#000" stroke-width="2.0"/><line x1="168.92" y1="206.40" x2="168.92" y2="219.30" stroke="#000" stroke-width="2.0"/><line x1="216.84" y1="70.00" x2="216.84" y2="76.00" stroke="#000" stroke-width="2.0"/><line x1="216.84" y1="206.40" x2="216.84" y2="219.30" stroke="#000" stroke-width="2.0"/><line x1="264.77" y1="70.00" x2="264.77" y2="83.00" stroke="#000" stroke-width="2.0"/><line x1="264.77" y1="206.40" x2="264.77" y2="219.30" stroke="#000" stroke-width="2.0"/><line x1="352.62" y1="70.00" x2="352.62" y2="83.00" stroke="#000" stroke-width="2.0"/><line x1="352.62" y1="206.40" x2="352.62" y2="219.30" stroke="#000" stroke-width="2.0"/><line x1="400.54" y1="70.00" x2="400.54" y2="76.00" stroke="#000" stroke-width="2.0"/><line x1="400.54" y1="206.40" x2="400.54" y2="219.30" stroke="#000" stroke-width="2.0"/><line x1="448.47" y1="70.00" x2="448.47" y2="83.00" stroke="#000" stroke-width="2.0"/><line x1="448.47" y1="206.40" x2="448.47" y2="219.30" stroke="#000" stroke-width="2.0"/><line x1="536.32" y1="70.00" x2="536.32" y2="76.00" stroke="#000" stroke-width="2.0"/><line x1="536.32" y1="206.40" x2="536.32" y2="219.30" stroke="#000" stroke-width="2.0"/><line x1="584.24" y1="70.00" x2="584.24" y2="76.00" stroke="#000" stroke-width="2.0"/><line x1="584.24" y1="206.40" x2="584.24" y2="219.30" stroke="#000" stroke-width="2.0"/><line x1="632.17" y1="70.00" x2="632.17" y2="83.00" stroke="#000" stroke-width="2.0"/><line x1="632.17" y1="206.40" x2="632.17" y2="219.30" stroke="#000" stroke-width="2.0"/><line x1="720.02" y1="70.00" x2="720.02" y2="76.00" stroke="#000" stroke-width="2.0"/><line x1="720.02" y1="206.40" x2="720.02" y2="219.30" stroke="#000" stroke-width="2.0"/><line x1="767.94" y1="70.00" x2="767.94" y2="76.00" stroke="#000" stroke-width="2.0"/><line x1="767.94" y1="206.40" x2="767.94" y2="219.30" stroke="#000" stroke-width="2.0"/><line x1="815.87" y1="70.00" x2="815.87" y2="83.00" stroke="#000" stroke-width="2.0"/><line x1="815.87" y1="206.40" x2="815.87" y2="219.30" stroke="#000" stroke-width="2.0"/><line x1="903.72" y1="70.00" x2="903.72" y2="83.00" stroke="#000" stroke-width="2.0"/><line x1="903.72" y1="206.40" x2="903.72" y2="219.30" stroke="#000" stroke-width="2.0"/><line x1="951.64" y1="70.00" x2="951.64" y2="76.00" stroke="#000" stroke-width="2.0"/><line x1="951.64" y1="206.40" x2="951.64" y2="219.30" stroke="#000" stroke-width="2.0"/><line x1="999.57" y1="70.00" x2="999.57" y2="83.00" stroke="#000" stroke-width="2.0"/><line x1="999.57" y1="206.40" x2="999.57" y2="219.30" stroke="#000" stroke-width="2.0"/><line x1="1087.42" y1="70.00" x2="1087.42" y2="76.00" stroke="#000" stroke-width="2.0"/><line x1="1087.42" y1="206.40" x2="1087.42" y2="219.30" stroke="#000" stroke-width="2.0"/><line x1="1135.34" y1="70.00" x2="1135.34" y2="76.00" stroke="#000" stroke-width="2.0"/><line x1="1135.34" y1="206.40" x2="1135.34" y2="219.30" stroke="#000" stroke-width="2.0"/><line x1="1183.27" y1="70.00" x2="1183.27" y2="83.00" stroke="#000" stroke-width="2.0"/><line x1="1183.27" y1="206.40" x2="1183.27" y2="219.30" stroke="#000" stroke-width="2.0"/><line x1="1271.12" y1="70.00" x2="1271.12" y2="76.00" stroke="#000" stroke-width="2.0"/><line x1="1271.12" y1="206.40" x2="1271.12" y2="219.30" stroke="#000" stroke-width="2.0"/><line x1="1319.04" y1="70.00" x2="1319.04" y2="76.00" stroke="#000" stroke-width="2.0"/><line x1="1319.04" y1="206.40" x2="1319.04" y2="219.30" stroke="#000" stroke-width="2.0"/><line x1="1366.97" y1="70.00" x2="1366.97" y2="83.00" stroke="#000" stroke-width="2.0"/><line x1="1366.97" y1="206.40" x2="1366.97" y2="219.30" stroke="#000" stroke-width="2.0"/><text transform="translate(298.14,60.40) scale(0.8000,1)" font-size="23.50" font-weight="normal" fill="#000">0</text><text transform="translate(346.01,60.40) scale(0.8000,1)" font-size="23.50" font-weight="normal" fill="#000">6</text><text transform="translate(388.57,60.40) scale(0.8000,1)" font-size="23.50" font-weight="normal" fill="#000">12</text><text transform="translate(436.40,60.40) scale(0.8000,1)" font-size="23.50" font-weight="normal" fill="#000">18</text><text transform="translate(476.57,60.40) scale(0.8000,1)" font-size="23.50" font-weight="normal" fill="#000">23</text><text transform="translate(665.54,60.40) scale(0.8000,1)" font-size="23.50" font-weight="normal" fill="#000">0</text><text transform="translate(713.41,60.40) scale(0.8000,1)" font-size="23.50" font-weight="normal" fill="#000">6</text><text transform="translate(755.97,60.40) scale(0.8000,1)" font-size="23.50" font-weight="normal" fill="#000">12</text><text transform="translate(803.80,60.40) scale(0.8000,1)" font-size="23.50" font-weight="normal" fill="#000">18</text><text transform="translate(843.97,60.40) scale(0.8000,1)" font-size="23.50" font-weight="normal" fill="#000">23</text><text transform="translate(1032.94,60.40) scale(0.8000,1)" font-size="23.50" font-weight="normal" fill="#000">0</text><text transform="translate(1080.81,60.40) scale(0.8000,1)" font-size="23.50" font-weight="normal" fill="#000">6</text><text transform="translate(1123.37,60.40) scale(0.8000,1)" font-size="23.50" font-weight="normal" fill="#000">12</text><text transform="translate(1171.20,60.40) scale(0.8000,1)" font-size="23.50" font-weight="normal" fill="#000">18</text><text transform="translate(1211.37,60.40) scale(0.8000,1)" font-size="23.50" font-weight="normal" fill="#000">23</text><text transform="translate(114.44,250.70) scale(0.8000,1)" font-size="23.50" font-weight="normal" fill="#000">0</text><text transform="translate(162.31,250.70) scale(0.8000,1)" font-size="23.50" font-weight="normal" fill="#000">6</text><text transform="translate(204.87,250.70) scale(0.8000,1)" font-size="23.50" font-weight="normal" fill="#000">12</text><text transform="translate(252.70,250.70) scale(0.8000,1)" font-size="23.50" font-weight="normal" fill="#000">18</text><text transform="translate(292.87,250.70) scale(0.8000,1)" font-size="23.50" font-weight="normal" fill="#000">23</text><text transform="translate(481.84,250.70) scale(0.8000,1)" font-size="23.50" font-weight="normal" fill="#000">0</text><text transform="translate(529.71,250.70) scale(0.8000,1)" font-size="23.50" font-weight="normal" fill="#000">6</text><text transform="translate(572.27,250.70) scale(0.8000,1)" font-size="23.50" font-weight="normal" fill="#000">12</text><text transform="translate(620.10,250.70) scale(0.8000,1)" font-size="23.50" font-weight="normal" fill="#000">18</text><text transform="translate(660.27,250.70) scale(0.8000,1)" font-size="23.50" font-weight="normal" fill="#000">23</text><text transform="translate(849.24,250.70) scale(0.8000,1)" font-size="23.50" font-weight="normal" fill="#000">0</text><text transform="translate(897.11,250.70) scale(0.8000,1)" font-size="23.50" font-weight="normal" fill="#000">6</text><text transform="translate(939.67,250.70) scale(0.8000,1)" font-size="23.50" font-weight="normal" fill="#000">12</text><text transform="translate(987.50,250.70) scale(0.8000,1)" font-size="23.50" font-weight="normal" fill="#000">18</text><text transform="translate(1027.67,250.70) scale(0.8000,1)" font-size="23.50" font-weight="normal" fill="#000">23</text><text transform="translate(1216.64,250.70) scale(0.8000,1)" font-size="23.50" font-weight="normal" fill="#000">0</text><text transform="translate(1264.51,250.70) scale(0.8000,1)" font-size="23.50" font-weight="normal" fill="#000">6</text><text transform="translate(1307.07,250.70) scale(0.8000,1)" font-size="23.50" font-weight="normal" fill="#000">12</text><text transform="translate(1354.90,250.70) scale(0.8000,1)" font-size="23.50" font-weight="normal" fill="#000">18</text><text transform="translate(1395.07,250.70) scale(0.8000,1)" font-size="23.50" font-weight="normal" fill="#000">23</text><text transform="translate(75.99,200.80) scale(0.8000,1)" font-size="23.50" font-weight="normal" fill="#000">20</text><text transform="translate(75.99,168.00) scale(0.8000,1)" font-size="23.50" font-weight="normal" fill="#000">60</text><text transform="translate(65.56,135.20) scale(0.8000,1)" font-size="23.50" font-weight="normal" fill="#000">100</text><g transform="translate(37.70,220.00) rotate(-90) scale(1.0000)"><text transform="translate(-1.26,0.00) scale(1.0062,1)" font-size="27.86" font-weight="normal" fill="#000" >O</text><text transform="translate(19.15,4.50) scale(0.9788,1)" font-size="19.14" font-weight="normal" fill="#000" >3</text><text transform="translate(31.71,-0.64) scale(0.8973,1)" font-size="23.40" font-weight="normal" fill="#000">,</text><text transform="translate(43.29,0.00) scale(1.0049,1)" font-size="27.10" font-weight="normal" fill="#000" >µg</text><text transform="translate(79.62,0.00) scale(0.9988,1)" font-size="27.41" font-weight="normal" fill="#000" >m</text><line x1="102.2" y1="-19.7" x2="111.0" y2="-19.7" stroke="#000" stroke-width="1.7"/><text transform="translate(110.27,-13.60) scale(0.9358,1)" font-size="19.57" font-weight="normal" fill="#000" >3</text></g><text transform="translate(739.76,298.00) scale(0.8629,1)" font-size="27.17" font-weight="normal" fill="#000" >hour</text><rect x="299.40" y="328.30" width="68.40" height="32.40" fill="#F8766D"/><text transform="translate(384.92,352.00) scale(0.8544,1)" font-size="22.86" font-weight="normal" fill="#000" >O3_2020</text><rect x="492.50" y="328.30" width="68.10" height="32.40" fill="#7CAE00"/><text transform="translate(594.13,352.00) scale(0.8457,1)" font-size="22.86" font-weight="normal" fill="#000" >O3_2019</text><rect x="760.50" y="328.30" width="68.30" height="32.40" fill="#00BFC4"/><text transform="translate(854.13,354.00) scale(0.8468,1)" font-size="22.86" font-weight="normal" fill="#000" >O3_2018</text><rect x="1028.00" y="328.30" width="68.70" height="32.40" fill="#C77CFF"/><text transform="translate(1108.13,351.40) scale(0.9057,1)" font-size="21.29" font-weight="normal" fill="#000" >O3_2017</text><line x1="199.33" y1="441.00" x2="199.33" y2="673.40" stroke="#e3e3e3" stroke-width="1.3"/><line x1="278.06" y1="441.00" x2="278.06" y2="673.40" stroke="#e3e3e3" stroke-width="1.3"/><line x1="356.79" y1="441.00" x2="356.79" y2="673.40" stroke="#e3e3e3" stroke-width="1.3"/><line x1="120.60" y1="634.67" x2="422.40" y2="634.67" stroke="#e3e3e3" stroke-width="1.3"/><line x1="120.60" y1="595.93" x2="422.40" y2="595.93" stroke="#e3e3e3" stroke-width="1.3"/><line x1="120.60" y1="557.20" x2="422.40" y2="557.20" stroke="#e3e3e3" stroke-width="1.3"/><line x1="120.60" y1="518.47" x2="422.40" y2="518.47" stroke="#e3e3e3" stroke-width="1.3"/><line x1="120.60" y1="479.73" x2="422.40" y2="479.73" stroke="#e3e3e3" stroke-width="1.3"/><svg x="120.6" y="441.0" width="301.79999999999995" height="232.39999999999998" viewBox="120.6 441.0 301.79999999999995 232.39999999999998" overflow="hidden"><path d="M120.60,559.14 L133.72,559.14 L146.84,557.20 L159.97,555.26 L173.09,551.39 L186.21,549.45 L199.33,553.33 L212.45,559.14 L225.57,572.69 L238.70,586.25 L251.82,592.06 L264.94,568.82 L278.06,547.52 L291.18,532.02 L304.30,522.34 L317.43,514.59 L330.55,510.72 L343.67,509.75 L356.79,512.66 L369.91,518.47 L383.03,526.21 L396.16,535.90 L409.28,545.58 L422.40,555.26 L422.40,570.76 L409.28,561.07 L396.16,551.39 L383.03,541.71 L369.91,533.96 L356.79,528.15 L343.67,525.25 L330.55,526.21 L317.43,530.09 L304.30,537.83 L291.18,547.52 L278.06,563.01 L264.94,584.31 L251.82,607.55 L238.70,601.74 L225.57,588.19 L212.45,574.63 L199.33,568.82 L186.21,564.95 L173.09,566.88 L159.97,570.76 L146.84,572.69 L133.72,574.63 L120.60,574.63 Z" fill="#F8766D" fill-opacity="0.4" stroke="none"/><path d="M120.60,566.88 L133.72,566.88 L146.84,564.95 L159.97,563.01 L173.09,559.14 L186.21,557.20 L199.33,561.07 L212.45,566.88 L225.57,580.44 L238.70,594.00 L251.82,599.81 L264.94,576.57 L278.06,555.26 L291.18,539.77 L304.30,530.09 L317.43,522.34 L330.55,518.47 L343.67,517.50 L356.79,520.40 L369.91,526.21 L383.03,533.96 L396.16,543.64 L409.28,553.33 L422.40,563.01" fill="none" stroke="#F8766D" stroke-width="3.0" stroke-linejoin="round"/><path d="M120.60,569.79 L133.72,572.69 L146.84,565.91 L159.97,557.20 L173.09,548.49 L186.21,541.71 L199.33,534.93 L212.45,533.96 L225.57,544.61 L238.70,571.73 L251.82,594.97 L264.94,602.71 L278.06,591.09 L291.18,577.53 L304.30,563.98 L317.43,550.42 L330.55,536.87 L343.67,524.08 L356.79,515.17 L369.91,510.72 L383.03,510.72 L396.16,515.56 L409.28,528.54 L422.40,550.42 L422.40,567.85 L409.28,545.97 L396.16,532.99 L383.03,528.15 L369.91,528.15 L356.79,532.60 L343.67,541.51 L330.55,554.29 L317.43,567.85 L304.30,581.41 L291.18,594.97 L278.06,608.52 L264.94,620.14 L251.82,612.39 L238.70,589.15 L225.57,562.04 L212.45,551.39 L199.33,552.36 L186.21,559.14 L173.09,565.91 L159.97,574.63 L146.84,583.35 L133.72,590.12 L120.60,587.22 Z" fill="#7CAE00" fill-opacity="0.4" stroke="none"/><path d="M120.60,578.50 L133.72,581.41 L146.84,574.63 L159.97,565.91 L173.09,557.20 L186.21,550.42 L199.33,543.64 L212.45,542.67 L225.57,553.33 L238.70,580.44 L251.82,603.68 L264.94,611.43 L278.06,599.81 L291.18,586.25 L304.30,572.69 L317.43,559.14 L330.55,545.58 L343.67,532.80 L356.79,523.89 L369.91,519.43 L383.03,519.43 L396.16,524.28 L409.28,537.25 L422.40,559.14" fill="none" stroke="#7CAE00" stroke-width="3.0" stroke-linejoin="round"/><path d="M120.60,587.22 L133.72,589.15 L146.84,583.73 L159.97,572.69 L173.09,563.98 L186.21,560.49 L199.33,559.33 L212.45,563.98 L225.57,572.69 L238.70,590.32 L251.82,607.94 L264.94,614.72 L278.06,603.68 L291.18,586.06 L304.30,570.56 L317.43,555.07 L330.55,541.71 L343.67,532.99 L356.79,524.08 L369.91,521.95 L383.03,532.99 L396.16,546.16 L409.28,557.20 L422.40,568.24 L422.40,585.67 L409.28,574.63 L396.16,563.59 L383.03,550.42 L369.91,539.38 L356.79,541.51 L343.67,550.42 L330.55,559.14 L317.43,572.50 L304.30,587.99 L291.18,603.49 L278.06,621.11 L264.94,632.15 L251.82,625.37 L238.70,607.75 L225.57,590.12 L212.45,581.41 L199.33,576.76 L186.21,577.92 L173.09,581.41 L159.97,590.12 L146.84,601.16 L133.72,606.59 L120.60,604.65 Z" fill="#00BFC4" fill-opacity="0.4" stroke="none"/><path d="M120.60,595.93 L133.72,597.87 L146.84,592.45 L159.97,581.41 L173.09,572.69 L186.21,569.21 L199.33,568.05 L212.45,572.69 L225.57,581.41 L238.70,599.03 L251.82,616.66 L264.94,623.43 L278.06,612.39 L291.18,594.77 L304.30,579.28 L317.43,563.78 L330.55,550.42 L343.67,541.71 L356.79,532.80 L369.91,530.67 L383.03,541.71 L396.16,554.88 L409.28,565.91 L422.40,576.95" fill="none" stroke="#00BFC4" stroke-width="3.0" stroke-linejoin="round"/><path d="M120.60,576.57 L133.72,571.73 L146.84,564.95 L159.97,557.20 L173.09,549.45 L186.21,540.74 L199.33,543.64 L212.45,555.26 L225.57,580.44 L238.70,597.87 L251.82,594.00 L264.94,563.01 L278.06,535.90 L291.18,524.28 L304.30,512.66 L317.43,499.10 L330.55,489.42 L343.67,486.51 L356.79,494.26 L369.91,514.59 L383.03,533.96 L396.16,551.97 L409.28,581.02 L422.40,581.02 L422.40,608.13 L409.28,608.13 L396.16,575.21 L383.03,553.33 L369.91,533.96 L356.79,513.62 L343.67,505.88 L330.55,508.78 L317.43,518.47 L304.30,532.02 L291.18,543.64 L278.06,555.26 L264.94,582.38 L251.82,621.11 L238.70,628.86 L225.57,607.55 L212.45,578.50 L199.33,563.01 L186.21,560.11 L173.09,568.82 L159.97,576.57 L146.84,584.31 L133.72,591.09 L120.60,595.93 Z" fill="#C77CFF" fill-opacity="0.4" stroke="none"/><path d="M120.60,586.25 L133.72,581.41 L146.84,574.63 L159.97,566.88 L173.09,559.14 L186.21,550.42 L199.33,553.33 L212.45,566.88 L225.57,594.00 L238.70,613.36 L251.82,607.55 L264.94,572.69 L278.06,545.58 L291.18,533.96 L304.30,522.34 L317.43,508.78 L330.55,499.10 L343.67,496.19 L356.79,503.94 L369.91,524.28 L383.03,543.64 L396.16,563.59 L409.28,594.58 L422.40,594.58" fill="none" stroke="#C77CFF" stroke-width="3.0" stroke-linejoin="round"/></svg><line x1="109.80" y1="441.00" x2="433.20" y2="441.00" stroke="#000" stroke-width="2.0"/><line x1="109.80" y1="673.40" x2="433.20" y2="673.40" stroke="#000" stroke-width="2.0"/><line x1="120.60" y1="428.00" x2="120.60" y2="685.20" stroke="#000" stroke-width="2.0"/><line x1="422.40" y1="428.00" x2="422.40" y2="685.20" stroke="#000" stroke-width="2.0"/><line x1="120.60" y1="428.00" x2="120.60" y2="441.00" stroke="#000" stroke-width="2.0"/><line x1="120.60" y1="673.40" x2="120.60" y2="685.20" stroke="#000" stroke-width="2.0"/><line x1="199.33" y1="428.00" x2="199.33" y2="441.00" stroke="#000" stroke-width="2.0"/><line x1="199.33" y1="673.40" x2="199.33" y2="685.20" stroke="#000" stroke-width="2.0"/><line x1="278.06" y1="428.00" x2="278.06" y2="441.00" stroke="#000" stroke-width="2.0"/><line x1="278.06" y1="673.40" x2="278.06" y2="685.20" stroke="#000" stroke-width="2.0"/><line x1="356.79" y1="428.00" x2="356.79" y2="441.00" stroke="#000" stroke-width="2.0"/><line x1="356.79" y1="673.40" x2="356.79" y2="685.20" stroke="#000" stroke-width="2.0"/><line x1="422.40" y1="428.00" x2="422.40" y2="441.00" stroke="#000" stroke-width="2.0"/><line x1="422.40" y1="673.40" x2="422.40" y2="685.20" stroke="#000" stroke-width="2.0"/><line x1="109.80" y1="634.67" x2="120.60" y2="634.67" stroke="#000" stroke-width="2.0"/><line x1="422.40" y1="634.67" x2="433.20" y2="634.67" stroke="#000" stroke-width="2.0"/><line x1="109.80" y1="595.93" x2="120.60" y2="595.93" stroke="#000" stroke-width="2.0"/><line x1="422.40" y1="595.93" x2="433.20" y2="595.93" stroke="#000" stroke-width="2.0"/><line x1="109.80" y1="557.20" x2="120.60" y2="557.20" stroke="#000" stroke-width="2.0"/><line x1="422.40" y1="557.20" x2="433.20" y2="557.20" stroke="#000" stroke-width="2.0"/><line x1="109.80" y1="518.47" x2="120.60" y2="518.47" stroke="#000" stroke-width="2.0"/><line x1="422.40" y1="518.47" x2="433.20" y2="518.47" stroke="#000" stroke-width="2.0"/><line x1="109.80" y1="479.73" x2="120.60" y2="479.73" stroke="#000" stroke-width="2.0"/><line x1="422.40" y1="479.73" x2="433.20" y2="479.73" stroke="#000" stroke-width="2.0"/><text transform="translate(114.34,717.00) scale(0.8000,1)" font-size="23.50" font-weight="normal" fill="#000">0</text><text transform="translate(193.02,717.00) scale(0.8000,1)" font-size="23.50" font-weight="normal" fill="#000">6</text><text transform="translate(266.39,717.00) scale(0.8000,1)" font-size="23.50" font-weight="normal" fill="#000">12</text><text transform="translate(345.03,717.00) scale(0.8000,1)" font-size="23.50" font-weight="normal" fill="#000">18</text><text transform="translate(410.87,717.00) scale(0.8000,1)" font-size="23.50" font-weight="normal" fill="#000">23</text><text transform="translate(75.99,645.47) scale(0.8000,1)" font-size="23.50" font-weight="normal" fill="#000">20</text><text transform="translate(75.99,606.73) scale(0.8000,1)" font-size="23.50" font-weight="normal" fill="#000">40</text><text transform="translate(75.99,568.00) scale(0.8000,1)" font-size="23.50" font-weight="normal" fill="#000">60</text><text transform="translate(75.99,529.27) scale(0.8000,1)" font-size="23.50" font-weight="normal" fill="#000">80</text><text transform="translate(65.56,490.53) scale(0.8000,1)" font-size="23.50" font-weight="normal" fill="#000">100</text><g transform="translate(37.90,620.20) rotate(-90) scale(1.0000)"><text transform="translate(-1.26,0.00) scale(1.0062,1)" font-size="27.86" font-weight="normal" fill="#000" >O</text><text transform="translate(19.15,4.50) scale(0.9788,1)" font-size="19.14" font-weight="normal" fill="#000" >3</text><text transform="translate(31.71,-0.64) scale(0.8973,1)" font-size="23.40" font-weight="normal" fill="#000">,</text><text transform="translate(43.29,0.00) scale(1.0049,1)" font-size="27.10" font-weight="normal" fill="#000" >µg</text><text transform="translate(79.62,0.00) scale(0.9988,1)" font-size="27.41" font-weight="normal" fill="#000" >m</text><line x1="102.2" y1="-19.7" x2="111.0" y2="-19.7" stroke="#000" stroke-width="1.7"/><text transform="translate(110.27,-13.60) scale(0.9358,1)" font-size="19.57" font-weight="normal" fill="#000" >3</text></g><text transform="translate(246.81,765.60) scale(0.8874,1)" font-size="25.66" font-weight="normal" fill="#000" >hour</text><line x1="618.20" y1="441.00" x2="618.20" y2="673.40" stroke="#e3e3e3" stroke-width="1.3"/><line x1="643.27" y1="441.00" x2="643.27" y2="673.40" stroke="#e3e3e3" stroke-width="1.3"/><line x1="668.34" y1="441.00" x2="668.34" y2="673.40" stroke="#e3e3e3" stroke-width="1.3"/><line x1="693.41" y1="441.00" x2="693.41" y2="673.40" stroke="#e3e3e3" stroke-width="1.3"/><line x1="718.48" y1="441.00" x2="718.48" y2="673.40" stroke="#e3e3e3" stroke-width="1.3"/><line x1="743.55" y1="441.00" x2="743.55" y2="673.40" stroke="#e3e3e3" stroke-width="1.3"/><line x1="768.62" y1="441.00" x2="768.62" y2="673.40" stroke="#e3e3e3" stroke-width="1.3"/><line x1="793.69" y1="441.00" x2="793.69" y2="673.40" stroke="#e3e3e3" stroke-width="1.3"/><line x1="818.76" y1="441.00" x2="818.76" y2="673.40" stroke="#e3e3e3" stroke-width="1.3"/><line x1="843.83" y1="441.00" x2="843.83" y2="673.40" stroke="#e3e3e3" stroke-width="1.3"/><line x1="868.90" y1="441.00" x2="868.90" y2="673.40" stroke="#e3e3e3" stroke-width="1.3"/><line x1="893.97" y1="441.00" x2="893.97" y2="673.40" stroke="#e3e3e3" stroke-width="1.3"/><line x1="606.40" y1="634.67" x2="906.40" y2="634.67" stroke="#e3e3e3" stroke-width="1.3"/><line x1="606.40" y1="595.93" x2="906.40" y2="595.93" stroke="#e3e3e3" stroke-width="1.3"/><line x1="606.40" y1="557.20" x2="906.40" y2="557.20" stroke="#e3e3e3" stroke-width="1.3"/><line x1="606.40" y1="518.47" x2="906.40" y2="518.47" stroke="#e3e3e3" stroke-width="1.3"/><line x1="606.40" y1="479.73" x2="906.40" y2="479.73" stroke="#e3e3e3" stroke-width="1.3"/><rect x="686.01" y="551.39" width="14.8" height="7.75" fill="#F8766D" fill-opacity="0.4"/><path d="M693.41,550.06 L698.21,555.26 L693.41,560.46 L688.61,555.26 Z" fill="#F8766D"/><rect x="686.01" y="555.26" width="14.8" height="7.75" fill="#7CAE00" fill-opacity="0.4"/><path d="M693.41,553.94 L698.21,559.14 L693.41,564.34 L688.61,559.14 Z" fill="#7CAE00"/><rect x="686.01" y="570.95" width="14.8" height="7.75" fill="#00BFC4" fill-opacity="0.4"/><path d="M693.41,569.62 L698.21,574.82 L693.41,580.02 L688.61,574.82 Z" fill="#00BFC4"/><rect x="686.01" y="552.55" width="14.8" height="7.75" fill="#C77CFF" fill-opacity="0.4"/><path d="M693.41,551.23 L698.21,556.43 L693.41,561.63 L688.61,556.43 Z" fill="#C77CFF"/><line x1="593.40" y1="441.00" x2="919.40" y2="441.00" stroke="#000" stroke-width="2.0"/><line x1="593.40" y1="673.40" x2="919.40" y2="673.40" stroke="#000" stroke-width="2.0"/><line x1="606.40" y1="441.00" x2="606.40" y2="673.40" stroke="#000" stroke-width="2.0"/><line x1="906.40" y1="441.00" x2="906.40" y2="673.40" stroke="#000" stroke-width="2.0"/><line x1="618.20" y1="428.00" x2="618.20" y2="441.00" stroke="#000" stroke-width="2.0"/><line x1="618.20" y1="673.40" x2="618.20" y2="685.20" stroke="#000" stroke-width="2.0"/><line x1="643.27" y1="428.00" x2="643.27" y2="441.00" stroke="#000" stroke-width="2.0"/><line x1="643.27" y1="673.40" x2="643.27" y2="685.20" stroke="#000" stroke-width="2.0"/><line x1="668.34" y1="428.00" x2="668.34" y2="441.00" stroke="#000" stroke-width="2.0"/><line x1="668.34" y1="673.40" x2="668.34" y2="685.20" stroke="#000" stroke-width="2.0"/><line x1="693.41" y1="428.00" x2="693.41" y2="441.00" stroke="#000" stroke-width="2.0"/><line x1="693.41" y1="673.40" x2="693.41" y2="685.20" stroke="#000" stroke-width="2.0"/><line x1="718.48" y1="428.00" x2="718.48" y2="441.00" stroke="#000" stroke-width="2.0"/><line x1="718.48" y1="673.40" x2="718.48" y2="685.20" stroke="#000" stroke-width="2.0"/><line x1="743.55" y1="428.00" x2="743.55" y2="441.00" stroke="#000" stroke-width="2.0"/><line x1="743.55" y1="673.40" x2="743.55" y2="685.20" stroke="#000" stroke-width="2.0"/><line x1="768.62" y1="428.00" x2="768.62" y2="441.00" stroke="#000" stroke-width="2.0"/><line x1="768.62" y1="673.40" x2="768.62" y2="685.20" stroke="#000" stroke-width="2.0"/><line x1="793.69" y1="428.00" x2="793.69" y2="441.00" stroke="#000" stroke-width="2.0"/><line x1="793.69" y1="673.40" x2="793.69" y2="685.20" stroke="#000" stroke-width="2.0"/><line x1="818.76" y1="428.00" x2="818.76" y2="441.00" stroke="#000" stroke-width="2.0"/><line x1="818.76" y1="673.40" x2="818.76" y2="685.20" stroke="#000" stroke-width="2.0"/><line x1="843.83" y1="428.00" x2="843.83" y2="441.00" stroke="#000" stroke-width="2.0"/><line x1="843.83" y1="673.40" x2="843.83" y2="685.20" stroke="#000" stroke-width="2.0"/><line x1="868.90" y1="428.00" x2="868.90" y2="441.00" stroke="#000" stroke-width="2.0"/><line x1="868.90" y1="673.40" x2="868.90" y2="685.20" stroke="#000" stroke-width="2.0"/><line x1="893.97" y1="428.00" x2="893.97" y2="441.00" stroke="#000" stroke-width="2.0"/><line x1="893.97" y1="673.40" x2="893.97" y2="685.20" stroke="#000" stroke-width="2.0"/><line x1="593.40" y1="634.67" x2="606.40" y2="634.67" stroke="#000" stroke-width="2.0"/><line x1="906.40" y1="634.67" x2="919.40" y2="634.67" stroke="#000" stroke-width="2.0"/><line x1="593.40" y1="595.93" x2="606.40" y2="595.93" stroke="#000" stroke-width="2.0"/><line x1="906.40" y1="595.93" x2="919.40" y2="595.93" stroke="#000" stroke-width="2.0"/><line x1="593.40" y1="557.20" x2="606.40" y2="557.20" stroke="#000" stroke-width="2.0"/><line x1="906.40" y1="557.20" x2="919.40" y2="557.20" stroke="#000" stroke-width="2.0"/><line x1="593.40" y1="518.47" x2="606.40" y2="518.47" stroke="#000" stroke-width="2.0"/><line x1="906.40" y1="518.47" x2="919.40" y2="518.47" stroke="#000" stroke-width="2.0"/><line x1="593.40" y1="479.73" x2="606.40" y2="479.73" stroke="#000" stroke-width="2.0"/><line x1="906.40" y1="479.73" x2="919.40" y2="479.73" stroke="#000" stroke-width="2.0"/><text transform="translate(611.32,718.00) scale(0.9300,1)" font-size="23.00" font-weight="normal" fill="#000">e</text><text transform="translate(639.11,718.00) scale(0.9300,1)" font-size="23.00" font-weight="normal" fill="#000">f</text><text transform="translate(658.41,718.00) scale(0.9300,1)" font-size="23.00" font-weight="normal" fill="#000">m</text><text transform="translate(686.05,718.00) scale(0.9300,1)" font-size="23.00" font-weight="normal" fill="#000">a</text><text transform="translate(708.55,718.00) scale(0.9300,1)" font-size="23.00" font-weight="normal" fill="#000">m</text><text transform="translate(741.16,718.00) scale(0.9300,1)" font-size="23.00" font-weight="normal" fill="#000">j</text><text transform="translate(766.23,718.00) scale(0.9300,1)" font-size="23.00" font-weight="normal" fill="#000">j</text><text transform="translate(786.33,718.00) scale(0.9300,1)" font-size="23.00" font-weight="normal" fill="#000">a</text><text transform="translate(812.47,718.00) scale(0.9300,1)" font-size="23.00" font-weight="normal" fill="#000">s</text><text transform="translate(836.89,718.00) scale(0.9300,1)" font-size="23.00" font-weight="normal" fill="#000">o</text><text transform="translate(861.96,718.00) scale(0.9300,1)" font-size="23.00" font-weight="normal" fill="#000">n</text><text transform="translate(887.30,718.00) scale(0.9300,1)" font-size="23.00" font-weight="normal" fill="#000">d</text><text transform="translate(561.29,645.47) scale(0.8000,1)" font-size="23.50" font-weight="normal" fill="#000">20</text><text transform="translate(561.29,606.73) scale(0.8000,1)" font-size="23.50" font-weight="normal" fill="#000">40</text><text transform="translate(561.29,568.00) scale(0.8000,1)" font-size="23.50" font-weight="normal" fill="#000">60</text><text transform="translate(561.29,529.27) scale(0.8000,1)" font-size="23.50" font-weight="normal" fill="#000">80</text><text transform="translate(550.86,490.53) scale(0.8000,1)" font-size="23.50" font-weight="normal" fill="#000">100</text><g transform="translate(523.50,620.00) rotate(-90) scale(1.0000)"><text transform="translate(-1.26,0.00) scale(1.0062,1)" font-size="27.86" font-weight="normal" fill="#000" >O</text><text transform="translate(19.15,4.50) scale(0.9788,1)" font-size="19.14" font-weight="normal" fill="#000" >3</text><text transform="translate(31.71,-0.64) scale(0.8973,1)" font-size="23.40" font-weight="normal" fill="#000">,</text><text transform="translate(43.29,0.00) scale(1.0049,1)" font-size="27.10" font-weight="normal" fill="#000" >µg</text><text transform="translate(79.62,0.00) scale(0.9988,1)" font-size="27.41" font-weight="normal" fill="#000" >m</text><line x1="102.2" y1="-19.7" x2="111.0" y2="-19.7" stroke="#000" stroke-width="1.7"/><text transform="translate(110.27,-13.60) scale(0.9358,1)" font-size="19.57" font-weight="normal" fill="#000" >3</text></g><text transform="translate(722.24,765.60) scale(1.0191,1)" font-size="23.59" font-weight="normal" fill="#000" >month</text><line x1="1110.20" y1="441.20" x2="1110.20" y2="672.80" stroke="#e3e3e3" stroke-width="1.3"/><line x1="1156.43" y1="441.20" x2="1156.43" y2="672.80" stroke="#e3e3e3" stroke-width="1.3"/><line x1="1202.66" y1="441.20" x2="1202.66" y2="672.80" stroke="#e3e3e3" stroke-width="1.3"/><line x1="1248.89" y1="441.20" x2="1248.89" y2="672.80" stroke="#e3e3e3" stroke-width="1.3"/><line x1="1295.12" y1="441.20" x2="1295.12" y2="672.80" stroke="#e3e3e3" stroke-width="1.3"/><line x1="1341.35" y1="441.20" x2="1341.35" y2="672.80" stroke="#e3e3e3" stroke-width="1.3"/><line x1="1387.58" y1="441.20" x2="1387.58" y2="672.80" stroke="#e3e3e3" stroke-width="1.3"/><line x1="1091.60" y1="634.20" x2="1407.20" y2="634.20" stroke="#e3e3e3" stroke-width="1.3"/><line x1="1091.60" y1="595.60" x2="1407.20" y2="595.60" stroke="#e3e3e3" stroke-width="1.3"/><line x1="1091.60" y1="557.00" x2="1407.20" y2="557.00" stroke="#e3e3e3" stroke-width="1.3"/><line x1="1091.60" y1="518.40" x2="1407.20" y2="518.40" stroke="#e3e3e3" stroke-width="1.3"/><line x1="1091.60" y1="479.80" x2="1407.20" y2="479.80" stroke="#e3e3e3" stroke-width="1.3"/><svg x="1091.6" y="441.2" width="315.60000000000014" height="231.59999999999997" viewBox="1091.6 441.2 315.60000000000014 231.59999999999997" overflow="hidden"><rect x="1096.79" y="540.02" width="26.81" height="19.30" fill="#F8766D" fill-opacity="0.4"/><rect x="1143.02" y="556.61" width="26.81" height="11.58" fill="#F8766D" fill-opacity="0.4"/><rect x="1189.25" y="556.23" width="26.81" height="11.58" fill="#F8766D" fill-opacity="0.4"/><rect x="1235.48" y="558.35" width="26.81" height="11.58" fill="#F8766D" fill-opacity="0.4"/><rect x="1281.71" y="557.19" width="26.81" height="11.58" fill="#F8766D" fill-opacity="0.4"/><rect x="1327.94" y="543.88" width="26.81" height="11.58" fill="#F8766D" fill-opacity="0.4"/><rect x="1374.17" y="526.12" width="26.81" height="13.51" fill="#F8766D" fill-opacity="0.4"/><path d="M1110.20,549.67 L1156.43,562.40 L1202.66,562.02 L1248.89,564.14 L1295.12,562.98 L1341.35,549.67 L1387.58,532.88" fill="none" stroke="#F8766D" stroke-width="2.8" stroke-linejoin="round"/><rect x="1096.79" y="536.54" width="26.81" height="19.30" fill="#7CAE00" fill-opacity="0.4"/><rect x="1143.02" y="536.54" width="26.81" height="19.30" fill="#7CAE00" fill-opacity="0.4"/><rect x="1189.25" y="566.46" width="26.81" height="15.44" fill="#7CAE00" fill-opacity="0.4"/><rect x="1235.48" y="558.93" width="26.81" height="11.58" fill="#7CAE00" fill-opacity="0.4"/><rect x="1281.71" y="557.19" width="26.81" height="11.58" fill="#7CAE00" fill-opacity="0.4"/><rect x="1327.94" y="542.14" width="26.81" height="11.58" fill="#7CAE00" fill-opacity="0.4"/><rect x="1374.17" y="550.63" width="26.81" height="11.58" fill="#7CAE00" fill-opacity="0.4"/><path d="M1110.20,546.19 L1156.43,546.19 L1202.66,574.18 L1248.89,564.72 L1295.12,562.98 L1341.35,547.93 L1387.58,556.42" fill="none" stroke="#7CAE00" stroke-width="2.8" stroke-linejoin="round"/><rect x="1096.79" y="564.72" width="26.81" height="15.44" fill="#00BFC4" fill-opacity="0.4"/><rect x="1143.02" y="562.02" width="26.81" height="15.44" fill="#00BFC4" fill-opacity="0.4"/><rect x="1189.25" y="562.02" width="26.81" height="15.44" fill="#00BFC4" fill-opacity="0.4"/><rect x="1235.48" y="563.95" width="26.81" height="11.58" fill="#00BFC4" fill-opacity="0.4"/><rect x="1281.71" y="576.69" width="26.81" height="11.58" fill="#00BFC4" fill-opacity="0.4"/><rect x="1327.94" y="574.76" width="26.81" height="15.44" fill="#00BFC4" fill-opacity="0.4"/><rect x="1374.17" y="564.72" width="26.81" height="15.44" fill="#00BFC4" fill-opacity="0.4"/><path d="M1110.20,572.44 L1156.43,569.74 L1202.66,569.74 L1248.89,569.74 L1295.12,582.48 L1341.35,582.48 L1387.58,572.44" fill="none" stroke="#00BFC4" stroke-width="2.8" stroke-linejoin="round"/><rect x="1096.79" y="540.21" width="26.81" height="15.44" fill="#C77CFF" fill-opacity="0.4"/><rect x="1143.02" y="541.17" width="26.81" height="15.44" fill="#C77CFF" fill-opacity="0.4"/><rect x="1189.25" y="545.23" width="26.81" height="15.44" fill="#C77CFF" fill-opacity="0.4"/><rect x="1235.48" y="545.23" width="26.81" height="15.44" fill="#C77CFF" fill-opacity="0.4"/><rect x="1281.71" y="558.74" width="26.81" height="15.44" fill="#C77CFF" fill-opacity="0.4"/><rect x="1327.94" y="564.72" width="26.81" height="15.44" fill="#C77CFF" fill-opacity="0.4"/><rect x="1374.17" y="547.93" width="26.81" height="15.44" fill="#C77CFF" fill-opacity="0.4"/><path d="M1110.20,547.93 L1156.43,548.89 L1202.66,552.95 L1248.89,552.95 L1295.12,566.46 L1341.35,572.44 L1387.58,555.65" fill="none" stroke="#C77CFF" stroke-width="2.8" stroke-linejoin="round"/></svg><line x1="1078.80" y1="441.20" x2="1420.00" y2="441.20" stroke="#000" stroke-width="2.0"/><line x1="1078.80" y1="672.80" x2="1420.00" y2="672.80" stroke="#000" stroke-width="2.0"/><line x1="1091.60" y1="441.20" x2="1091.60" y2="672.80" stroke="#000" stroke-width="2.0"/><line x1="1407.20" y1="441.20" x2="1407.20" y2="672.80" stroke="#000" stroke-width="2.0"/><line x1="1110.20" y1="428.20" x2="1110.20" y2="441.20" stroke="#000" stroke-width="2.0"/><line x1="1110.20" y1="672.80" x2="1110.20" y2="684.60" stroke="#000" stroke-width="2.0"/><line x1="1156.43" y1="428.20" x2="1156.43" y2="441.20" stroke="#000" stroke-width="2.0"/><line x1="1156.43" y1="672.80" x2="1156.43" y2="684.60" stroke="#000" stroke-width="2.0"/><line x1="1202.66" y1="428.20" x2="1202.66" y2="441.20" stroke="#000" stroke-width="2.0"/><line x1="1202.66" y1="672.80" x2="1202.66" y2="684.60" stroke="#000" stroke-width="2.0"/><line x1="1248.89" y1="428.20" x2="1248.89" y2="441.20" stroke="#000" stroke-width="2.0"/><line x1="1248.89" y1="672.80" x2="1248.89" y2="684.60" stroke="#000" stroke-width="2.0"/><line x1="1295.12" y1="428.20" x2="1295.12" y2="441.20" stroke="#000" stroke-width="2.0"/><line x1="1295.12" y1="672.80" x2="1295.12" y2="684.60" stroke="#000" stroke-width="2.0"/><line x1="1341.35" y1="428.20" x2="1341.35" y2="441.20" stroke="#000" stroke-width="2.0"/><line x1="1341.35" y1="672.80" x2="1341.35" y2="684.60" stroke="#000" stroke-width="2.0"/><line x1="1387.58" y1="428.20" x2="1387.58" y2="441.20" stroke="#000" stroke-width="2.0"/><line x1="1387.58" y1="672.80" x2="1387.58" y2="684.60" stroke="#000" stroke-width="2.0"/><line x1="1078.80" y1="634.20" x2="1091.60" y2="634.20" stroke="#000" stroke-width="2.0"/><line x1="1407.20" y1="634.20" x2="1420.00" y2="634.20" stroke="#000" stroke-width="2.0"/><line x1="1078.80" y1="595.60" x2="1091.60" y2="595.60" stroke="#000" stroke-width="2.0"/><line x1="1407.20" y1="595.60" x2="1420.00" y2="595.60" stroke="#000" stroke-width="2.0"/><line x1="1078.80" y1="557.00" x2="1091.60" y2="557.00" stroke="#000" stroke-width="2.0"/><line x1="1407.20" y1="557.00" x2="1420.00" y2="557.00" stroke="#000" stroke-width="2.0"/><line x1="1078.80" y1="518.40" x2="1091.60" y2="518.40" stroke="#000" stroke-width="2.0"/><line x1="1407.20" y1="518.40" x2="1420.00" y2="518.40" stroke="#000" stroke-width="2.0"/><line x1="1078.80" y1="479.80" x2="1091.60" y2="479.80" stroke="#000" stroke-width="2.0"/><line x1="1407.20" y1="479.80" x2="1420.00" y2="479.80" stroke="#000" stroke-width="2.0"/><text transform="translate(1097.78,718.00) scale(0.9300,1)" font-size="23.00" font-weight="normal" fill="#000">lu.</text><text transform="translate(1137.49,718.00) scale(0.9300,1)" font-size="23.00" font-weight="normal" fill="#000">ma.</text><text transform="translate(1187.30,718.00) scale(0.9300,1)" font-size="23.00" font-weight="normal" fill="#000">mi.</text><text transform="translate(1237.44,718.00) scale(0.9300,1)" font-size="23.00" font-weight="normal" fill="#000">ju.</text><text transform="translate(1283.99,718.00) scale(0.9300,1)" font-size="23.00" font-weight="normal" fill="#000">vi.</text><text transform="translate(1326.37,718.00) scale(0.9300,1)" font-size="23.00" font-weight="normal" fill="#000">sá.</text><text transform="translate(1371.90,718.00) scale(0.9300,1)" font-size="23.00" font-weight="normal" fill="#000">do.</text><text transform="translate(1047.09,645.00) scale(0.8000,1)" font-size="23.50" font-weight="normal" fill="#000">20</text><text transform="translate(1047.09,606.40) scale(0.8000,1)" font-size="23.50" font-weight="normal" fill="#000">40</text><text transform="translate(1047.09,567.80) scale(0.8000,1)" font-size="23.50" font-weight="normal" fill="#000">60</text><text transform="translate(1047.09,529.20) scale(0.8000,1)" font-size="23.50" font-weight="normal" fill="#000">80</text><text transform="translate(1036.66,490.60) scale(0.8000,1)" font-size="23.50" font-weight="normal" fill="#000">100</text><g transform="translate(1010.60,620.00) rotate(-90) scale(1.0000)"><text transform="translate(-1.26,0.00) scale(1.0062,1)" font-size="27.86" font-weight="normal" fill="#000" >O</text><text transform="translate(19.15,4.50) scale(0.9788,1)" font-size="19.14" font-weight="normal" fill="#000" >3</text><text transform="translate(31.71,-0.64) scale(0.8973,1)" font-size="23.40" font-weight="normal" fill="#000">,</text><text transform="translate(43.29,0.00) scale(1.0049,1)" font-size="27.10" font-weight="normal" fill="#000" >µg</text><text transform="translate(79.62,0.00) scale(0.9988,1)" font-size="27.41" font-weight="normal" fill="#000" >m</text><line x1="102.2" y1="-19.7" x2="111.0" y2="-19.7" stroke="#000" stroke-width="1.7"/><text transform="translate(110.27,-13.60) scale(0.9358,1)" font-size="19.57" font-weight="normal" fill="#000" >3</text></g><text transform="translate(1201.30,767.70) scale(0.8597,1)" font-size="27.86" font-weight="normal" fill="#000" >weekday</text><text transform="translate(498.45,802.80) scale(0.8736,1)" font-size="27.31" font-weight="normal" fill="#000" >mean and 95% confidence interval in mean</text></g>
<g transform="translate(0,838.5)"><line x1="168.92" y1="108.00" x2="168.92" y2="206.40" stroke="#e3e3e3" stroke-width="1.3"/><line x1="216.84" y1="108.00" x2="216.84" y2="206.40" stroke="#e3e3e3" stroke-width="1.3"/><line x1="264.77" y1="108.00" x2="264.77" y2="206.40" stroke="#e3e3e3" stroke-width="1.3"/><line x1="352.62" y1="108.00" x2="352.62" y2="206.40" stroke="#e3e3e3" stroke-width="1.3"/><line x1="400.54" y1="108.00" x2="400.54" y2="206.40" stroke="#e3e3e3" stroke-width="1.3"/><line x1="448.47" y1="108.00" x2="448.47" y2="206.40" stroke="#e3e3e3" stroke-width="1.3"/><line x1="536.32" y1="108.00" x2="536.32" y2="206.40" stroke="#e3e3e3" stroke-width="1.3"/><line x1="584.24" y1="108.00" x2="584.24" y2="206.40" stroke="#e3e3e3" stroke-width="1.3"/><line x1="632.17" y1="108.00" x2="632.17" y2="206.40" stroke="#e3e3e3" stroke-width="1.3"/><line x1="720.02" y1="108.00" x2="720.02" y2="206.40" stroke="#e3e3e3" stroke-width="1.3"/><line x1="767.94" y1="108.00" x2="767.94" y2="206.40" stroke="#e3e3e3" stroke-width="1.3"/><line x1="815.87" y1="108.00" x2="815.87" y2="206.40" stroke="#e3e3e3" stroke-width="1.3"/><line x1="903.72" y1="108.00" x2="903.72" y2="206.40" stroke="#e3e3e3" stroke-width="1.3"/><line x1="951.64" y1="108.00" x2="951.64" y2="206.40" stroke="#e3e3e3" stroke-width="1.3"/><line x1="999.57" y1="108.00" x2="999.57" y2="206.40" stroke="#e3e3e3" stroke-width="1.3"/><line x1="1087.42" y1="108.00" x2="1087.42" y2="206.40" stroke="#e3e3e3" stroke-width="1.3"/><line x1="1135.34" y1="108.00" x2="1135.34" y2="206.40" stroke="#e3e3e3" stroke-width="1.3"/><line x1="1183.27" y1="108.00" x2="1183.27" y2="206.40" stroke="#e3e3e3" stroke-width="1.3"/><line x1="1271.12" y1="108.00" x2="1271.12" y2="206.40" stroke="#e3e3e3" stroke-width="1.3"/><line x1="1319.04" y1="108.00" x2="1319.04" y2="206.40" stroke="#e3e3e3" stroke-width="1.3"/><line x1="1366.97" y1="108.00" x2="1366.97" y2="206.40" stroke="#e3e3e3" stroke-width="1.3"/><line x1="121.00" y1="190.00" x2="1406.90" y2="190.00" stroke="#e3e3e3" stroke-width="1.3"/><line x1="121.00" y1="173.60" x2="1406.90" y2="173.60" stroke="#e3e3e3" stroke-width="1.3"/><line x1="121.00" y1="157.20" x2="1406.90" y2="157.20" stroke="#e3e3e3" stroke-width="1.3"/><line x1="121.00" y1="140.80" x2="1406.90" y2="140.80" stroke="#e3e3e3" stroke-width="1.3"/><line x1="121.00" y1="124.40" x2="1406.90" y2="124.40" stroke="#e3e3e3" stroke-width="1.3"/><svg x="121.0" y="108.0" width="1285.8999999999999" height="98.4" viewBox="121.0 108.0 1285.8999999999999 98.4" overflow="hidden"><path d="M121.00,151.90 L136.97,150.61 L152.95,151.90 L160.93,153.19 L168.92,155.78 L176.91,159.65 L184.90,163.53 L192.88,166.11 L200.87,158.36 L208.86,148.03 L216.84,141.57 L224.83,137.70 L232.82,136.41 L240.80,137.70 L248.79,136.41 L256.78,135.12 L264.77,136.41 L280.74,137.70 L296.71,142.86 L304.70,148.03 L304.70,167.92 L296.71,162.75 L280.74,157.59 L264.77,156.29 L256.78,155.00 L248.79,156.29 L240.80,157.59 L232.82,156.29 L224.83,157.59 L216.84,161.46 L208.86,167.92 L200.87,178.25 L192.88,185.99 L184.90,183.41 L176.91,179.54 L168.92,175.66 L160.93,173.08 L152.95,171.79 L136.97,170.50 L121.00,171.79 Z" fill="#F8766D" fill-opacity="0.4" stroke="none"/><path d="M121.00,161.85 L136.97,160.56 L152.95,161.85 L160.93,163.14 L168.92,165.72 L176.91,169.59 L184.90,173.47 L192.88,176.05 L200.87,168.30 L208.86,157.97 L216.84,151.52 L224.83,147.64 L232.82,146.35 L240.80,147.64 L248.79,146.35 L256.78,145.06 L264.77,146.35 L280.74,147.64 L296.71,152.81 L304.70,157.97" fill="none" stroke="#F8766D" stroke-width="3.0" stroke-linejoin="round"/><path d="M304.70,159.65 L320.67,158.36 L328.66,159.65 L336.65,157.07 L344.63,158.36 L352.62,159.65 L368.60,163.53 L376.58,163.53 L384.57,158.36 L392.56,155.78 L400.54,151.90 L408.53,145.45 L416.52,140.28 L424.50,138.99 L432.49,139.64 L440.48,140.28 L448.47,141.57 L456.45,144.16 L464.44,149.32 L472.43,154.49 L480.41,155.78 L488.40,157.07 L488.40,176.96 L480.41,175.66 L472.43,174.37 L464.44,169.21 L456.45,164.04 L448.47,161.46 L440.48,160.17 L432.49,159.52 L424.50,158.88 L416.52,160.17 L408.53,165.33 L400.54,171.79 L392.56,175.66 L384.57,178.25 L376.58,183.41 L368.60,183.41 L352.62,179.54 L344.63,178.25 L336.65,176.96 L328.66,179.54 L320.67,178.25 L304.70,179.54 Z" fill="#F8766D" fill-opacity="0.4" stroke="none"/><path d="M304.70,169.59 L320.67,168.30 L328.66,169.59 L336.65,167.01 L344.63,168.30 L352.62,169.59 L368.60,173.47 L376.58,173.47 L384.57,168.30 L392.56,165.72 L400.54,161.85 L408.53,155.39 L416.52,150.22 L424.50,148.93 L432.49,149.58 L440.48,150.22 L448.47,151.52 L456.45,154.10 L464.44,159.26 L472.43,164.43 L480.41,165.72 L488.40,167.01" fill="none" stroke="#F8766D" stroke-width="3.0" stroke-linejoin="round"/><path d="M488.40,155.78 L504.37,160.94 L512.36,159.65 L520.35,160.94 L536.32,166.11 L552.30,169.98 L560.28,171.27 L568.27,163.53 L576.26,153.19 L584.24,146.74 L592.23,140.28 L600.22,136.41 L616.19,135.12 L632.17,136.41 L640.15,137.70 L648.14,140.28 L664.11,148.03 L672.10,153.19 L672.10,173.08 L664.11,167.92 L648.14,160.17 L640.15,157.59 L632.17,156.29 L616.19,155.00 L600.22,156.29 L592.23,160.17 L584.24,166.62 L576.26,173.08 L568.27,183.41 L560.28,191.16 L552.30,189.87 L536.32,185.99 L520.35,180.83 L512.36,179.54 L504.37,180.83 L488.40,175.66 Z" fill="#F8766D" fill-opacity="0.4" stroke="none"/><path d="M488.40,165.72 L504.37,170.89 L512.36,169.59 L520.35,170.89 L536.32,176.05 L552.30,179.93 L560.28,181.22 L568.27,173.47 L576.26,163.14 L584.24,156.68 L592.23,150.22 L600.22,146.35 L616.19,145.06 L632.17,146.35 L640.15,147.64 L648.14,150.22 L664.11,157.97 L672.10,163.14" fill="none" stroke="#F8766D" stroke-width="3.0" stroke-linejoin="round"/><path d="M672.10,158.36 L688.07,160.94 L696.06,160.94 L704.05,160.94 L712.03,159.65 L720.02,159.65 L728.01,158.36 L736.00,162.23 L743.98,168.69 L751.97,163.53 L759.96,153.19 L767.94,146.74 L775.93,141.57 L783.92,138.99 L799.89,138.99 L815.87,138.99 L823.85,140.28 L831.84,144.16 L847.81,150.61 L855.80,155.78 L855.80,175.66 L847.81,170.50 L831.84,164.04 L823.85,160.17 L815.87,158.88 L799.89,158.88 L783.92,158.88 L775.93,161.46 L767.94,166.62 L759.96,173.08 L751.97,183.41 L743.98,188.58 L736.00,182.12 L728.01,178.25 L720.02,179.54 L712.03,179.54 L704.05,180.83 L696.06,180.83 L688.07,180.83 L672.10,178.25 Z" fill="#F8766D" fill-opacity="0.4" stroke="none"/><path d="M672.10,168.30 L688.07,170.89 L696.06,170.89 L704.05,170.89 L712.03,169.59 L720.02,169.59 L728.01,168.30 L736.00,172.18 L743.98,178.63 L751.97,173.47 L759.96,163.14 L767.94,156.68 L775.93,151.52 L783.92,148.93 L799.89,148.93 L815.87,148.93 L823.85,150.22 L831.84,154.10 L847.81,160.56 L855.80,165.72" fill="none" stroke="#F8766D" stroke-width="3.0" stroke-linejoin="round"/><path d="M855.80,160.56 L863.79,161.85 L871.77,163.14 L879.76,164.43 L887.75,165.72 L895.73,167.01 L903.72,168.30 L911.71,170.89 L919.70,173.47 L927.68,178.63 L935.67,179.93 L943.66,170.89 L951.64,157.97 L959.63,147.64 L967.62,141.19 L975.60,139.25 L983.59,137.31 L991.58,137.96 L999.57,138.60 L1007.55,139.25 L1015.54,139.89 L1023.53,142.48 L1031.51,145.06 L1039.50,150.22 L1039.50,170.89 L1031.51,165.72 L1023.53,164.43 L1015.54,163.14 L1007.55,162.49 L999.57,161.85 L991.58,161.20 L983.59,160.56 L975.60,161.20 L967.62,161.85 L959.63,165.72 L951.64,173.47 L943.66,186.38 L935.67,198.00 L927.68,196.71 L919.70,188.96 L911.71,186.38 L903.72,183.80 L895.73,182.51 L887.75,181.22 L879.76,179.93 L871.77,178.63 L863.79,177.34 L855.80,176.05 Z" fill="#F8766D" fill-opacity="0.4" stroke="none"/><path d="M855.80,167.01 L863.79,169.59 L871.77,170.89 L879.76,172.18 L887.75,173.47 L895.73,174.76 L903.72,176.05 L911.71,177.34 L919.70,181.22 L927.68,187.67 L935.67,188.96 L943.66,178.63 L951.64,165.72 L959.63,155.39 L967.62,150.22 L975.60,147.64 L983.59,146.35 L991.58,147.64 L999.57,147.64 L1007.55,147.64 L1015.54,148.93 L1023.53,151.52 L1031.51,155.39 L1039.50,160.56" fill="none" stroke="#F8766D" stroke-width="3.0" stroke-linejoin="round"/><path d="M1039.50,161.85 L1047.49,163.14 L1055.47,164.43 L1063.46,165.72 L1071.45,167.01 L1079.43,168.30 L1087.42,170.24 L1095.41,172.18 L1103.40,174.11 L1111.38,176.05 L1119.37,168.30 L1127.36,158.62 L1135.34,148.93 L1143.33,141.83 L1151.32,134.73 L1159.30,132.15 L1167.29,129.56 L1175.28,130.21 L1183.27,130.85 L1191.25,133.44 L1199.24,136.02 L1207.23,141.19 L1215.21,146.35 L1223.20,150.22 L1223.20,165.72 L1215.21,161.85 L1207.23,156.68 L1199.24,151.52 L1191.25,149.58 L1183.27,147.64 L1175.28,146.35 L1167.29,145.06 L1159.30,148.29 L1151.32,151.52 L1143.33,159.26 L1135.34,167.01 L1127.36,177.99 L1119.37,188.96 L1111.38,196.71 L1103.40,196.07 L1095.41,195.42 L1087.42,192.84 L1079.43,190.26 L1071.45,187.03 L1063.46,183.80 L1055.47,181.22 L1047.49,178.63 L1039.50,176.05 Z" fill="#F8766D" fill-opacity="0.4" stroke="none"/><path d="M1039.50,168.30 L1047.49,169.59 L1055.47,172.18 L1063.46,173.47 L1071.45,174.76 L1079.43,177.34 L1087.42,179.93 L1095.41,182.51 L1103.40,185.09 L1111.38,186.38 L1119.37,178.63 L1127.36,165.72 L1135.34,157.97 L1143.33,148.93 L1151.32,142.48 L1159.30,138.60 L1167.29,137.31 L1175.28,137.31 L1183.27,138.60 L1191.25,139.89 L1199.24,143.77 L1207.23,148.93 L1215.21,154.10 L1223.20,157.97" fill="none" stroke="#F8766D" stroke-width="3.0" stroke-linejoin="round"/><path d="M1223.20,153.19 L1231.19,153.19 L1239.17,150.61 L1247.16,148.03 L1255.15,145.45 L1263.13,144.16 L1271.12,145.45 L1279.11,149.32 L1287.10,155.78 L1295.08,159.65 L1303.07,157.07 L1311.06,145.45 L1319.04,135.12 L1327.03,131.24 L1335.02,128.66 L1343.00,128.01 L1350.99,127.37 L1358.98,127.37 L1366.97,128.66 L1374.95,133.82 L1382.94,137.70 L1390.93,142.86 L1398.91,145.45 L1406.90,148.03 L1406.90,167.92 L1398.91,165.33 L1390.93,162.75 L1382.94,157.59 L1374.95,153.71 L1366.97,148.55 L1358.98,147.25 L1350.99,147.25 L1343.00,147.90 L1335.02,148.55 L1327.03,151.13 L1319.04,155.00 L1311.06,165.33 L1303.07,176.96 L1295.08,179.54 L1287.10,175.66 L1279.11,169.21 L1271.12,165.33 L1263.13,164.04 L1255.15,165.33 L1247.16,167.92 L1239.17,170.50 L1231.19,173.08 L1223.20,173.08 Z" fill="#F8766D" fill-opacity="0.4" stroke="none"/><path d="M1223.20,163.14 L1231.19,163.14 L1239.17,160.56 L1247.16,157.97 L1255.15,155.39 L1263.13,154.10 L1271.12,155.39 L1279.11,159.26 L1287.10,165.72 L1295.08,169.59 L1303.07,167.01 L1311.06,155.39 L1319.04,145.06 L1327.03,141.19 L1335.02,138.60 L1343.00,137.96 L1350.99,137.31 L1358.98,137.31 L1366.97,138.60 L1374.95,143.77 L1382.94,147.64 L1390.93,152.81 L1398.91,155.39 L1406.90,157.97" fill="none" stroke="#F8766D" stroke-width="3.0" stroke-linejoin="round"/><path d="M121.00,145.06 L136.97,146.35 L144.96,145.06 L152.95,139.89 L160.93,134.73 L168.92,133.44 L176.91,136.67 L184.90,139.89 L192.88,145.06 L200.87,148.93 L208.86,138.60 L216.84,128.27 L224.83,121.17 L232.82,114.07 L248.79,108.90 L264.77,106.32 L280.74,107.61 L288.73,112.13 L296.71,116.65 L304.70,126.98 L304.70,147.64 L296.71,136.02 L288.73,130.85 L280.74,125.69 L264.77,124.40 L248.79,128.27 L232.82,136.02 L224.83,143.12 L216.84,150.22 L208.86,168.30 L200.87,186.38 L192.88,191.55 L184.90,186.38 L176.91,185.74 L168.92,185.09 L160.93,185.09 L152.95,181.86 L144.96,178.63 L136.97,168.30 L121.00,164.43 Z" fill="#7CAE00" fill-opacity="0.4" stroke="none"/><path d="M121.00,154.10 L136.97,156.68 L144.96,157.97 L152.95,159.26 L160.93,159.26 L168.92,160.56 L176.91,163.14 L184.90,167.01 L192.88,173.47 L200.87,168.30 L208.86,152.81 L216.84,138.60 L224.83,129.56 L232.82,124.40 L248.79,117.94 L264.77,114.07 L280.74,115.36 L288.73,117.94 L296.71,125.69 L304.70,136.02" fill="none" stroke="#7CAE00" stroke-width="3.0" stroke-linejoin="round"/><path d="M304.70,134.73 L312.69,132.15 L320.67,129.56 L336.65,125.69 L352.62,125.69 L360.61,125.69 L368.60,125.69 L376.58,126.33 L384.57,126.98 L392.56,125.69 L400.54,124.40 L408.53,122.46 L416.52,120.52 L432.49,117.94 L448.47,115.36 L464.44,117.94 L480.41,126.98 L488.40,136.02 L488.40,154.10 L480.41,145.06 L464.44,134.73 L448.47,132.15 L432.49,134.73 L416.52,139.89 L408.53,145.70 L400.54,151.52 L392.56,160.56 L384.57,165.72 L376.58,163.78 L368.60,161.85 L360.61,158.62 L352.62,155.39 L336.65,155.39 L320.67,157.97 L312.69,159.26 L304.70,160.56 Z" fill="#7CAE00" fill-opacity="0.4" stroke="none"/><path d="M304.70,147.64 L312.69,145.06 L320.67,143.77 L336.65,139.89 L352.62,139.89 L360.61,142.48 L368.60,145.06 L376.58,147.64 L384.57,147.64 L392.56,143.77 L400.54,137.31 L408.53,132.15 L416.52,129.56 L432.49,125.69 L448.47,123.11 L464.44,125.69 L480.41,136.02 L488.40,145.06" fill="none" stroke="#7CAE00" stroke-width="3.0" stroke-linejoin="round"/><path d="M488.40,142.48 L504.37,138.60 L512.36,141.19 L520.35,143.77 L536.32,147.64 L544.31,148.93 L552.30,154.10 L560.28,165.72 L568.27,164.43 L576.26,157.97 L584.24,155.39 L592.23,146.35 L600.22,133.44 L608.20,121.82 L616.19,117.94 L632.17,115.36 L648.14,111.48 L664.11,117.94 L672.10,120.52 L672.10,148.93 L664.11,146.35 L648.14,139.89 L632.17,143.77 L616.19,146.35 L608.20,150.22 L600.22,161.85 L592.23,174.76 L584.24,183.80 L576.26,186.38 L568.27,192.84 L560.28,194.13 L552.30,182.51 L544.31,177.34 L536.32,176.05 L520.35,172.18 L512.36,169.59 L504.37,167.01 L488.40,170.89 Z" fill="#7CAE00" fill-opacity="0.4" stroke="none"/><path d="M488.40,156.68 L504.37,152.81 L512.36,155.39 L520.35,157.97 L536.32,161.85 L544.31,163.14 L552.30,168.30 L560.28,179.93 L568.27,178.63 L576.26,172.18 L584.24,169.59 L592.23,160.56 L600.22,147.64 L608.20,136.02 L616.19,132.15 L632.17,129.56 L648.14,125.69 L664.11,132.15 L672.10,134.73" fill="none" stroke="#7CAE00" stroke-width="3.0" stroke-linejoin="round"/><path d="M672.10,123.11 L680.09,125.69 L688.07,128.27 L704.05,129.56 L712.03,130.85 L720.02,130.85 L728.01,133.44 L736.00,141.19 L743.98,154.10 L751.97,161.85 L759.96,159.26 L767.94,147.64 L775.93,137.31 L783.92,128.27 L791.90,120.52 L799.89,115.36 L815.87,105.03 L823.85,106.32 L831.84,110.19 L847.81,123.11 L855.80,130.85 L855.80,159.26 L847.81,151.52 L831.84,138.60 L823.85,134.73 L815.87,133.44 L799.89,143.77 L791.90,148.93 L783.92,156.68 L775.93,165.72 L767.94,176.05 L759.96,187.67 L751.97,190.26 L743.98,182.51 L736.00,169.59 L728.01,161.85 L720.02,159.26 L712.03,159.26 L704.05,157.97 L688.07,156.68 L680.09,154.10 L672.10,151.52 Z" fill="#7CAE00" fill-opacity="0.4" stroke="none"/><path d="M672.10,137.31 L680.09,139.89 L688.07,142.48 L704.05,143.77 L712.03,145.06 L720.02,145.06 L728.01,147.64 L736.00,155.39 L743.98,168.30 L751.97,176.05 L759.96,173.47 L767.94,161.85 L775.93,151.52 L783.92,142.48 L791.90,134.73 L799.89,129.56 L815.87,119.23 L823.85,120.52 L831.84,124.40 L847.81,137.31 L855.80,145.06" fill="none" stroke="#7CAE00" stroke-width="3.0" stroke-linejoin="round"/><path d="M855.80,129.56 L863.79,126.98 L871.77,124.40 L887.75,123.11 L895.73,121.82 L903.72,122.46 L911.71,128.27 L919.70,137.31 L927.68,146.35 L931.68,148.93 L935.67,137.31 L943.66,126.98 L951.64,123.11 L959.63,123.11 L967.62,120.52 L975.60,115.36 L983.59,112.78 L991.58,116.65 L999.57,119.23 L1007.55,120.52 L1015.54,117.94 L1023.53,116.65 L1031.51,123.11 L1039.50,130.85 L1039.50,159.26 L1031.51,151.52 L1023.53,145.06 L1015.54,146.35 L1007.55,148.93 L999.57,147.64 L991.58,145.06 L983.59,141.19 L975.60,143.77 L967.62,148.93 L959.63,151.52 L951.64,151.52 L943.66,155.39 L935.67,165.72 L931.68,177.34 L927.68,174.76 L919.70,165.72 L911.71,156.68 L903.72,150.87 L895.73,150.22 L887.75,151.52 L871.77,152.81 L863.79,155.39 L855.80,157.97 Z" fill="#7CAE00" fill-opacity="0.4" stroke="none"/><path d="M855.80,143.77 L863.79,141.19 L871.77,138.60 L887.75,137.31 L895.73,136.02 L903.72,136.67 L911.71,142.48 L919.70,151.52 L927.68,160.56 L931.68,163.14 L935.67,151.52 L943.66,141.19 L951.64,137.31 L959.63,137.31 L967.62,134.73 L975.60,129.56 L983.59,126.98 L991.58,130.85 L999.57,133.44 L1007.55,134.73 L1015.54,132.15 L1023.53,130.85 L1031.51,137.31 L1039.50,145.06" fill="none" stroke="#7CAE00" stroke-width="3.0" stroke-linejoin="round"/><path d="M1039.50,138.60 L1047.49,133.44 L1055.47,128.27 L1063.46,120.52 L1071.45,119.23 L1079.43,117.94 L1087.42,123.11 L1095.41,128.27 L1103.40,133.44 L1111.38,141.19 L1119.37,143.77 L1127.36,139.89 L1135.34,128.27 L1143.33,117.94 L1151.32,114.07 L1159.30,110.19 L1167.29,106.32 L1175.28,103.74 L1183.27,103.74 L1191.25,105.03 L1199.24,112.78 L1207.23,120.52 L1215.21,125.69 L1223.20,130.85 L1223.20,159.26 L1215.21,154.10 L1207.23,148.93 L1199.24,141.19 L1191.25,133.44 L1183.27,132.15 L1175.28,132.15 L1167.29,134.73 L1159.30,138.60 L1151.32,142.48 L1143.33,146.35 L1135.34,156.68 L1127.36,168.30 L1119.37,172.18 L1111.38,169.59 L1103.40,161.85 L1095.41,156.68 L1087.42,151.52 L1079.43,146.35 L1071.45,147.64 L1063.46,148.93 L1055.47,156.68 L1047.49,161.85 L1039.50,167.01 Z" fill="#7CAE00" fill-opacity="0.4" stroke="none"/><path d="M1039.50,152.81 L1047.49,147.64 L1055.47,142.48 L1063.46,134.73 L1071.45,133.44 L1079.43,132.15 L1087.42,137.31 L1095.41,142.48 L1103.40,147.64 L1111.38,155.39 L1119.37,157.97 L1127.36,154.10 L1135.34,142.48 L1143.33,132.15 L1151.32,128.27 L1159.30,124.40 L1167.29,120.52 L1175.28,117.94 L1183.27,117.94 L1191.25,119.23 L1199.24,126.98 L1207.23,134.73 L1215.21,139.89 L1223.20,145.06" fill="none" stroke="#7CAE00" stroke-width="3.0" stroke-linejoin="round"/><path d="M1223.20,125.69 L1231.19,126.98 L1239.17,129.56 L1247.16,130.85 L1255.15,132.15 L1263.13,133.44 L1271.12,136.02 L1279.11,141.19 L1287.10,146.35 L1295.08,150.22 L1303.07,141.19 L1311.06,136.02 L1319.04,130.85 L1327.03,126.98 L1335.02,124.40 L1343.00,121.82 L1350.99,117.94 L1358.98,115.36 L1366.97,114.07 L1374.95,115.36 L1382.94,120.52 L1390.93,128.27 L1398.91,136.02 L1406.90,143.77 L1406.90,172.18 L1398.91,164.43 L1390.93,156.68 L1382.94,148.93 L1374.95,143.77 L1366.97,142.48 L1358.98,143.77 L1350.99,146.35 L1343.00,150.22 L1335.02,152.81 L1327.03,155.39 L1319.04,159.26 L1311.06,164.43 L1303.07,169.59 L1295.08,178.63 L1287.10,174.76 L1279.11,169.59 L1271.12,164.43 L1263.13,161.85 L1255.15,160.56 L1247.16,159.26 L1239.17,157.97 L1231.19,155.39 L1223.20,154.10 Z" fill="#7CAE00" fill-opacity="0.4" stroke="none"/><path d="M1223.20,139.89 L1231.19,141.19 L1239.17,143.77 L1247.16,145.06 L1255.15,146.35 L1263.13,147.64 L1271.12,150.22 L1279.11,155.39 L1287.10,160.56 L1295.08,164.43 L1303.07,155.39 L1311.06,150.22 L1319.04,145.06 L1327.03,141.19 L1335.02,138.60 L1343.00,136.02 L1350.99,132.15 L1358.98,129.56 L1366.97,128.27 L1374.95,129.56 L1382.94,134.73 L1390.93,142.48 L1398.91,150.22 L1406.90,157.97" fill="none" stroke="#7CAE00" stroke-width="3.0" stroke-linejoin="round"/><path d="M121.00,141.19 L136.97,138.60 L152.95,137.31 L160.93,139.25 L168.92,141.19 L176.91,147.64 L184.90,154.10 L192.88,160.56 L200.87,154.10 L208.86,142.48 L216.84,132.15 L224.83,128.27 L232.82,124.40 L248.79,119.23 L256.78,120.52 L264.77,121.82 L280.74,126.98 L296.71,136.02 L304.70,143.77 L304.70,178.63 L296.71,170.89 L280.74,160.56 L264.77,150.22 L256.78,145.06 L248.79,139.89 L232.82,146.35 L224.83,149.58 L216.84,152.81 L208.86,163.14 L200.87,178.63 L192.88,183.80 L184.90,178.63 L176.91,170.24 L168.92,161.85 L160.93,159.91 L152.95,157.97 L136.97,157.97 L121.00,160.56 Z" fill="#00BFC4" fill-opacity="0.4" stroke="none"/><path d="M121.00,150.22 L136.97,147.64 L152.95,146.35 L160.93,147.64 L168.92,150.22 L176.91,155.39 L184.90,164.43 L192.88,170.89 L200.87,164.43 L208.86,151.52 L216.84,142.48 L224.83,137.31 L232.82,134.73 L248.79,126.98 L256.78,125.69 L264.77,129.56 L280.74,136.02 L296.71,145.06 L304.70,154.10" fill="none" stroke="#00BFC4" stroke-width="3.0" stroke-linejoin="round"/><path d="M304.70,136.02 L320.67,137.31 L336.65,139.89 L344.63,141.19 L352.62,145.06 L360.61,148.93 L368.60,150.22 L376.58,151.52 L384.57,151.52 L392.56,141.19 L400.54,126.98 L408.53,120.52 L416.52,116.65 L432.49,112.78 L448.47,110.19 L464.44,112.78 L480.41,124.40 L488.40,138.60 L488.40,167.01 L480.41,152.81 L464.44,141.19 L448.47,138.60 L432.49,141.19 L416.52,145.06 L408.53,148.93 L400.54,155.39 L392.56,169.59 L384.57,179.93 L376.58,179.93 L368.60,178.63 L360.61,177.34 L352.62,173.47 L344.63,169.59 L336.65,168.30 L320.67,165.72 L304.70,164.43 Z" fill="#00BFC4" fill-opacity="0.4" stroke="none"/><path d="M304.70,150.22 L320.67,151.52 L336.65,154.10 L344.63,155.39 L352.62,159.26 L360.61,163.14 L368.60,164.43 L376.58,165.72 L384.57,165.72 L392.56,155.39 L400.54,141.19 L408.53,134.73 L416.52,130.85 L432.49,126.98 L448.47,124.40 L464.44,126.98 L480.41,138.60 L488.40,152.81" fill="none" stroke="#00BFC4" stroke-width="3.0" stroke-linejoin="round"/><path d="M488.40,139.89 L504.37,141.19 L512.36,136.02 L520.35,139.89 L536.32,145.06 L552.30,148.93 L560.28,151.52 L568.27,147.64 L576.26,141.19 L584.24,130.85 L592.23,121.82 L600.22,119.23 L616.19,117.30 L632.17,116.65 L648.14,123.11 L664.11,133.44 L672.10,146.35 L672.10,174.76 L664.11,161.85 L648.14,151.52 L632.17,145.06 L616.19,145.70 L600.22,147.64 L592.23,150.22 L584.24,159.26 L576.26,169.59 L568.27,176.05 L560.28,179.93 L552.30,177.34 L536.32,173.47 L520.35,168.30 L512.36,164.43 L504.37,169.59 L488.40,168.30 Z" fill="#00BFC4" fill-opacity="0.4" stroke="none"/><path d="M488.40,154.10 L504.37,155.39 L512.36,150.22 L520.35,154.10 L536.32,159.26 L552.30,163.14 L560.28,165.72 L568.27,161.85 L576.26,155.39 L584.24,145.06 L592.23,136.02 L600.22,133.44 L616.19,131.50 L632.17,130.85 L648.14,137.31 L664.11,147.64 L672.10,160.56" fill="none" stroke="#00BFC4" stroke-width="3.0" stroke-linejoin="round"/><path d="M672.10,150.22 L680.09,146.35 L688.07,142.48 L696.06,120.52 L704.05,126.98 L712.03,133.44 L720.02,139.89 L728.01,143.77 L736.00,147.64 L743.98,155.39 L751.97,156.68 L759.96,145.06 L767.94,132.15 L775.93,128.27 L783.92,124.40 L799.89,121.82 L807.88,121.17 L815.87,120.52 L823.85,123.75 L831.84,126.98 L847.81,134.73 L855.80,139.89 L855.80,160.56 L847.81,155.39 L831.84,145.06 L823.85,140.54 L815.87,136.02 L807.88,136.67 L799.89,137.31 L783.92,139.89 L775.93,145.06 L767.94,150.22 L759.96,165.72 L751.97,178.63 L743.98,176.05 L736.00,168.30 L728.01,166.37 L720.02,164.43 L712.03,162.49 L704.05,160.56 L696.06,160.56 L688.07,168.30 L680.09,170.89 L672.10,173.47 Z" fill="#00BFC4" fill-opacity="0.4" stroke="none"/><path d="M672.10,161.85 L680.09,159.26 L688.07,155.39 L696.06,151.52 L704.05,148.93 L712.03,151.52 L720.02,152.16 L728.01,152.16 L736.00,157.97 L743.98,165.72 L751.97,167.01 L759.96,155.39 L767.94,141.19 L775.93,136.02 L783.92,132.15 L799.89,129.56 L807.88,126.98 L815.87,126.98 L823.85,130.85 L831.84,136.02 L847.81,145.06 L855.80,150.22" fill="none" stroke="#00BFC4" stroke-width="3.0" stroke-linejoin="round"/><path d="M855.80,145.06 L863.79,143.77 L871.77,142.48 L879.76,143.77 L887.75,145.06 L895.73,147.64 L903.72,150.22 L911.71,154.10 L919.70,157.97 L927.68,161.85 L935.67,160.56 L943.66,151.52 L951.64,143.77 L959.63,135.37 L967.62,126.98 L975.60,123.75 L983.59,120.52 L991.58,121.82 L999.57,123.11 L1007.55,123.75 L1015.54,124.40 L1023.53,128.92 L1031.51,133.44 L1039.50,141.19 L1039.50,161.85 L1031.51,151.52 L1023.53,146.35 L1015.54,141.19 L1007.55,140.54 L999.57,139.89 L991.58,138.60 L983.59,137.31 L975.60,141.19 L967.62,145.06 L959.63,156.04 L951.64,167.01 L943.66,178.63 L935.67,196.71 L927.68,194.13 L919.70,187.67 L911.71,183.15 L903.72,178.63 L895.73,172.82 L887.75,167.01 L879.76,165.07 L871.77,163.14 L863.79,165.07 L855.80,167.01 Z" fill="#00BFC4" fill-opacity="0.4" stroke="none"/><path d="M855.80,155.39 L863.79,152.81 L871.77,151.52 L879.76,152.81 L887.75,155.39 L895.73,157.97 L903.72,161.85 L911.71,168.30 L919.70,172.18 L927.68,176.05 L935.67,174.76 L943.66,164.43 L951.64,155.39 L959.63,145.06 L967.62,136.02 L975.60,129.56 L983.59,128.27 L991.58,129.56 L999.57,130.85 L1007.55,132.15 L1015.54,132.15 L1023.53,134.73 L1031.51,142.48 L1039.50,151.52" fill="none" stroke="#00BFC4" stroke-width="3.0" stroke-linejoin="round"/><path d="M1039.50,129.56 L1047.49,129.56 L1055.47,132.15 L1063.46,139.89 L1071.45,145.06 L1079.43,145.06 L1087.42,145.06 L1095.41,148.93 L1103.40,152.81 L1111.38,155.39 L1119.37,155.39 L1127.36,147.64 L1135.34,133.44 L1139.34,116.65 L1143.33,124.40 L1151.32,121.82 L1159.30,117.30 L1167.29,112.78 L1175.28,112.78 L1183.27,112.78 L1191.25,117.30 L1199.24,121.82 L1207.23,127.63 L1215.21,133.44 L1223.20,138.60 L1223.20,160.56 L1215.21,154.10 L1207.23,147.64 L1199.24,141.19 L1191.25,136.67 L1183.27,132.15 L1175.28,132.15 L1167.29,132.15 L1159.30,137.31 L1151.32,142.48 L1143.33,145.06 L1139.34,145.06 L1135.34,160.56 L1127.36,173.47 L1119.37,183.80 L1111.38,186.38 L1103.40,186.38 L1095.41,187.67 L1087.42,188.96 L1079.43,190.26 L1071.45,191.55 L1063.46,186.38 L1055.47,178.63 L1047.49,176.05 L1039.50,178.63 Z" fill="#00BFC4" fill-opacity="0.4" stroke="none"/><path d="M1039.50,155.39 L1047.49,151.52 L1055.47,152.81 L1063.46,157.97 L1071.45,161.85 L1079.43,163.14 L1087.42,160.56 L1095.41,164.43 L1103.40,168.30 L1111.38,169.59 L1119.37,168.30 L1127.36,160.56 L1135.34,146.35 L1139.34,132.15 L1143.33,134.73 L1151.32,132.15 L1159.30,126.98 L1167.29,121.82 L1175.28,121.82 L1183.27,121.82 L1191.25,124.40 L1199.24,130.85 L1207.23,137.31 L1215.21,143.77 L1223.20,148.93" fill="none" stroke="#00BFC4" stroke-width="3.0" stroke-linejoin="round"/><path d="M1223.20,130.85 L1231.19,126.98 L1239.17,126.98 L1247.16,128.27 L1255.15,129.56 L1263.13,132.15 L1271.12,136.02 L1279.11,143.77 L1287.10,154.10 L1295.08,168.30 L1303.07,167.01 L1311.06,155.39 L1319.04,141.19 L1327.03,130.85 L1335.02,123.11 L1343.00,116.65 L1350.99,111.48 L1358.98,110.19 L1366.97,111.48 L1374.95,114.07 L1382.94,120.52 L1390.93,126.98 L1398.91,133.44 L1406.90,138.60 L1406.90,167.01 L1398.91,161.85 L1390.93,155.39 L1382.94,148.93 L1374.95,142.48 L1366.97,139.89 L1358.98,138.60 L1350.99,139.89 L1343.00,145.06 L1335.02,151.52 L1327.03,159.26 L1319.04,169.59 L1311.06,183.80 L1303.07,195.42 L1295.08,196.71 L1287.10,182.51 L1279.11,172.18 L1271.12,164.43 L1263.13,160.56 L1255.15,157.97 L1247.16,156.68 L1239.17,155.39 L1231.19,155.39 L1223.20,159.26 Z" fill="#00BFC4" fill-opacity="0.4" stroke="none"/><path d="M1223.20,145.06 L1231.19,141.19 L1239.17,141.19 L1247.16,142.48 L1255.15,143.77 L1263.13,146.35 L1271.12,150.22 L1279.11,157.97 L1287.10,168.30 L1295.08,182.51 L1303.07,181.22 L1311.06,169.59 L1319.04,155.39 L1327.03,145.06 L1335.02,137.31 L1343.00,130.85 L1350.99,125.69 L1358.98,124.40 L1366.97,125.69 L1374.95,128.27 L1382.94,134.73 L1390.93,141.19 L1398.91,147.64 L1406.90,152.81" fill="none" stroke="#00BFC4" stroke-width="3.0" stroke-linejoin="round"/><path d="M121.00,126.98 L136.97,125.69 L144.96,124.40 L152.95,125.69 L160.93,129.56 L168.92,134.73 L176.91,139.89 L184.90,146.35 L192.88,147.64 L200.87,145.06 L208.86,137.31 L216.84,125.69 L224.83,115.36 L232.82,106.32 L248.79,101.15 L256.78,101.80 L264.77,103.74 L280.74,107.61 L296.71,115.36 L304.70,123.11 L304.70,151.52 L296.71,143.77 L280.74,136.02 L264.77,132.15 L256.78,130.21 L248.79,129.56 L232.82,134.73 L224.83,143.77 L216.84,154.10 L208.86,165.72 L200.87,173.47 L192.88,176.05 L184.90,174.76 L176.91,168.30 L168.92,163.14 L160.93,157.97 L152.95,154.10 L144.96,152.81 L136.97,154.10 L121.00,155.39 Z" fill="#C77CFF" fill-opacity="0.4" stroke="none"/><path d="M121.00,141.19 L136.97,139.89 L144.96,138.60 L152.95,139.89 L160.93,143.77 L168.92,148.93 L176.91,154.10 L184.90,160.56 L192.88,161.85 L200.87,159.26 L208.86,151.52 L216.84,139.89 L224.83,129.56 L232.82,120.52 L248.79,115.36 L256.78,116.00 L264.77,117.94 L280.74,121.82 L296.71,129.56 L304.70,137.31" fill="none" stroke="#C77CFF" stroke-width="3.0" stroke-linejoin="round"/><path d="M304.70,122.46 L320.67,126.98 L336.65,126.98 L344.63,125.69 L352.62,126.33 L360.61,133.44 L368.60,143.77 L376.58,154.10 L384.57,156.68 L392.56,146.35 L400.54,129.56 L408.53,120.52 L416.52,114.07 L432.49,108.90 L448.47,105.67 L456.45,106.32 L464.44,108.90 L480.41,117.94 L488.40,132.15 L488.40,160.56 L480.41,146.35 L464.44,137.31 L456.45,134.73 L448.47,134.08 L432.49,137.31 L416.52,142.48 L408.53,148.93 L400.54,157.97 L392.56,174.76 L384.57,185.09 L376.58,182.51 L368.60,172.18 L360.61,161.85 L352.62,154.74 L344.63,154.10 L336.65,155.39 L320.67,155.39 L304.70,150.87 Z" fill="#C77CFF" fill-opacity="0.4" stroke="none"/><path d="M304.70,136.67 L320.67,141.19 L336.65,141.19 L344.63,139.89 L352.62,140.54 L360.61,147.64 L368.60,157.97 L376.58,168.30 L384.57,170.89 L392.56,160.56 L400.54,143.77 L408.53,134.73 L416.52,128.27 L432.49,123.11 L448.47,119.88 L456.45,120.52 L464.44,123.11 L480.41,132.15 L488.40,146.35" fill="none" stroke="#C77CFF" stroke-width="3.0" stroke-linejoin="round"/><path d="M488.40,133.44 L496.39,130.85 L504.37,124.40 L520.35,125.69 L528.33,126.33 L536.32,129.56 L552.30,137.31 L560.28,142.48 L568.27,144.41 L576.26,134.73 L584.24,125.69 L592.23,119.23 L600.22,116.00 L616.19,112.13 L632.17,110.84 L640.15,111.48 L648.14,114.07 L664.11,129.56 L672.10,143.77 L672.10,172.18 L664.11,157.97 L648.14,142.48 L640.15,139.89 L632.17,139.25 L616.19,140.54 L600.22,144.41 L592.23,147.64 L584.24,154.10 L576.26,163.14 L568.27,172.82 L560.28,170.89 L552.30,165.72 L536.32,157.97 L528.33,154.74 L520.35,154.10 L504.37,152.81 L496.39,159.26 L488.40,161.85 Z" fill="#C77CFF" fill-opacity="0.4" stroke="none"/><path d="M488.40,147.64 L496.39,145.06 L504.37,138.60 L520.35,139.89 L528.33,140.54 L536.32,143.77 L552.30,151.52 L560.28,156.68 L568.27,158.62 L576.26,148.93 L584.24,139.89 L592.23,133.44 L600.22,130.21 L616.19,126.33 L632.17,125.04 L640.15,125.69 L648.14,128.27 L664.11,143.77 L672.10,157.97" fill="none" stroke="#C77CFF" stroke-width="3.0" stroke-linejoin="round"/><path d="M672.10,148.93 L680.09,152.81 L688.07,155.39 L696.06,155.39 L704.05,154.10 L712.03,145.06 L720.02,142.48 L728.01,145.70 L736.00,148.93 L743.98,150.87 L751.97,152.81 L759.96,143.77 L767.94,126.98 L775.93,122.46 L783.92,117.94 L799.89,114.07 L807.88,111.48 L815.87,108.90 L823.85,107.61 L831.84,108.90 L847.81,116.65 L855.80,126.98 L855.80,150.22 L847.81,138.60 L831.84,128.27 L823.85,126.98 L815.87,128.27 L807.88,131.50 L799.89,134.73 L783.92,139.89 L775.93,145.06 L767.94,150.22 L759.96,168.30 L751.97,178.63 L743.98,177.34 L736.00,176.05 L728.01,174.76 L720.02,173.47 L712.03,178.63 L704.05,191.55 L696.06,198.00 L688.07,196.71 L680.09,188.96 L672.10,178.63 Z" fill="#C77CFF" fill-opacity="0.4" stroke="none"/><path d="M672.10,165.72 L680.09,169.59 L688.07,170.89 L696.06,168.30 L704.05,167.01 L712.03,157.97 L720.02,155.39 L728.01,155.39 L736.00,160.56 L743.98,164.43 L751.97,165.72 L759.96,156.68 L767.94,138.60 L775.93,132.15 L783.92,128.27 L799.89,124.40 L807.88,120.52 L815.87,117.94 L823.85,116.65 L831.84,117.94 L847.81,126.98 L855.80,138.60" fill="none" stroke="#C77CFF" stroke-width="3.0" stroke-linejoin="round"/><path d="M855.80,146.35 L863.79,151.52 L871.77,152.81 L879.76,152.81 L887.75,151.52 L895.73,147.64 L903.72,146.35 L911.71,150.22 L919.70,156.68 L927.68,163.14 L931.68,154.10 L935.67,143.77 L939.66,151.52 L943.66,159.26 L951.64,152.81 L959.63,141.19 L967.62,129.56 L975.60,117.94 L983.59,107.61 L991.58,105.03 L999.57,103.74 L1007.55,104.38 L1015.54,107.61 L1023.53,115.36 L1031.51,134.73 L1039.50,150.22 L1039.50,178.63 L1031.51,163.14 L1023.53,143.77 L1015.54,136.02 L1007.55,132.79 L999.57,132.15 L991.58,133.44 L983.59,136.02 L975.60,146.35 L967.62,157.97 L959.63,169.59 L951.64,181.22 L943.66,187.67 L939.66,179.93 L935.67,172.18 L931.68,182.51 L927.68,191.55 L919.70,185.09 L911.71,178.63 L903.72,174.76 L895.73,176.05 L887.75,179.93 L879.76,181.22 L871.77,181.22 L863.79,179.93 L855.80,174.76 Z" fill="#C77CFF" fill-opacity="0.4" stroke="none"/><path d="M855.80,160.56 L863.79,165.72 L871.77,167.01 L879.76,167.01 L887.75,165.72 L895.73,161.85 L903.72,160.56 L911.71,164.43 L919.70,170.89 L927.68,177.34 L931.68,168.30 L935.67,157.97 L939.66,165.72 L943.66,173.47 L951.64,167.01 L959.63,155.39 L967.62,143.77 L975.60,132.15 L983.59,121.82 L991.58,119.23 L999.57,117.94 L1007.55,118.59 L1015.54,121.82 L1023.53,129.56 L1031.51,148.93 L1039.50,164.43" fill="none" stroke="#C77CFF" stroke-width="3.0" stroke-linejoin="round"/><path d="M1039.50,155.39 L1047.49,155.39 L1055.47,151.52 L1063.46,141.19 L1071.45,139.89 L1079.43,139.89 L1087.42,138.60 L1095.41,143.77 L1103.40,154.10 L1111.38,164.43 L1119.37,167.01 L1127.36,156.68 L1135.34,146.35 L1143.33,134.73 L1151.32,125.69 L1159.30,115.36 L1167.29,103.74 L1175.28,99.86 L1183.27,98.57 L1191.25,99.22 L1199.24,101.15 L1207.23,110.19 L1215.21,117.94 L1223.20,121.82 L1223.20,150.22 L1215.21,146.35 L1207.23,138.60 L1199.24,129.56 L1191.25,127.63 L1183.27,126.98 L1175.28,128.27 L1167.29,132.15 L1159.30,143.77 L1151.32,154.10 L1143.33,163.14 L1135.34,174.76 L1127.36,185.09 L1119.37,195.42 L1111.38,192.84 L1103.40,182.51 L1095.41,172.18 L1087.42,167.01 L1079.43,168.30 L1071.45,168.30 L1063.46,169.59 L1055.47,179.93 L1047.49,183.80 L1039.50,183.80 Z" fill="#C77CFF" fill-opacity="0.4" stroke="none"/><path d="M1039.50,169.59 L1047.49,169.59 L1055.47,165.72 L1063.46,155.39 L1071.45,154.10 L1079.43,154.10 L1087.42,152.81 L1095.41,157.97 L1103.40,168.30 L1111.38,178.63 L1119.37,181.22 L1127.36,170.89 L1135.34,160.56 L1143.33,148.93 L1151.32,139.89 L1159.30,129.56 L1167.29,117.94 L1175.28,114.07 L1183.27,112.78 L1191.25,113.42 L1199.24,115.36 L1207.23,124.40 L1215.21,132.15 L1223.20,136.02" fill="none" stroke="#C77CFF" stroke-width="3.0" stroke-linejoin="round"/><path d="M1223.20,120.52 L1231.19,121.82 L1239.17,123.11 L1247.16,125.69 L1255.15,126.98 L1263.13,128.27 L1271.12,129.56 L1279.11,133.44 L1287.10,139.89 L1295.08,151.52 L1303.07,148.93 L1311.06,143.77 L1319.04,137.31 L1327.03,129.56 L1335.02,121.82 L1343.00,114.07 L1350.99,107.61 L1358.98,105.03 L1366.97,105.03 L1374.95,106.32 L1382.94,108.90 L1390.93,114.07 L1398.91,119.23 L1406.90,124.40 L1406.90,152.81 L1398.91,147.64 L1390.93,142.48 L1382.94,137.31 L1374.95,134.73 L1366.97,133.44 L1358.98,133.44 L1350.99,136.02 L1343.00,142.48 L1335.02,150.22 L1327.03,157.97 L1319.04,165.72 L1311.06,172.18 L1303.07,177.34 L1295.08,179.93 L1287.10,168.30 L1279.11,161.85 L1271.12,157.97 L1263.13,156.68 L1255.15,155.39 L1247.16,154.10 L1239.17,151.52 L1231.19,150.22 L1223.20,148.93 Z" fill="#C77CFF" fill-opacity="0.4" stroke="none"/><path d="M1223.20,134.73 L1231.19,136.02 L1239.17,137.31 L1247.16,139.89 L1255.15,141.19 L1263.13,142.48 L1271.12,143.77 L1279.11,147.64 L1287.10,154.10 L1295.08,165.72 L1303.07,163.14 L1311.06,157.97 L1319.04,151.52 L1327.03,143.77 L1335.02,136.02 L1343.00,128.27 L1350.99,121.82 L1358.98,119.23 L1366.97,119.23 L1374.95,120.52 L1382.94,123.11 L1390.93,128.27 L1398.91,133.44 L1406.90,138.60" fill="none" stroke="#C77CFF" stroke-width="3.0" stroke-linejoin="round"/></svg><text transform="translate(185.69,98.30) scale(0.9765,1)" font-size="14.34" font-weight="bold" fill="#000" >Monday</text><text transform="translate(372.07,98.30) scale(0.9125,1)" font-size="14.34" font-weight="bold" fill="#000" >Tuesday</text><text transform="translate(538.80,98.30) scale(0.9383,1)" font-size="14.34" font-weight="bold" fill="#000" >Wednesday</text><text transform="translate(723.77,98.30) scale(0.9015,1)" font-size="14.34" font-weight="bold" fill="#000" >Thursday</text><text transform="translate(923.93,98.30) scale(0.9303,1)" font-size="14.34" font-weight="bold" fill="#000" >Friday</text><text transform="translate(1094.10,98.30) scale(0.9361,1)" font-size="14.34" font-weight="bold" fill="#000" >Saturday</text><text transform="translate(1276.31,98.30) scale(0.9126,1)" font-size="14.34" font-weight="bold" fill="#000" >Sunday</text><line x1="114.60" y1="83.00" x2="1406.90" y2="83.00" stroke="#000" stroke-width="2.2"/><line x1="109.40" y1="107.30" x2="1418.00" y2="107.30" stroke="#000" stroke-width="2.6"/><line x1="109.40" y1="206.40" x2="1418.00" y2="206.40" stroke="#000" stroke-width="2.2"/><line x1="109.40" y1="190.00" x2="121.00" y2="190.00" stroke="#000" stroke-width="2.0"/><line x1="1406.90" y1="190.00" x2="1418.00" y2="190.00" stroke="#000" stroke-width="2.0"/><line x1="109.40" y1="173.60" x2="121.00" y2="173.60" stroke="#000" stroke-width="2.0"/><line x1="1406.90" y1="173.60" x2="1418.00" y2="173.60" stroke="#000" stroke-width="2.0"/><line x1="109.40" y1="157.20" x2="121.00" y2="157.20" stroke="#000" stroke-width="2.0"/><line x1="1406.90" y1="157.20" x2="1418.00" y2="157.20" stroke="#000" stroke-width="2.0"/><line x1="109.40" y1="140.80" x2="121.00" y2="140.80" stroke="#000" stroke-width="2.0"/><line x1="1406.90" y1="140.80" x2="1418.00" y2="140.80" stroke="#000" stroke-width="2.0"/><line x1="109.40" y1="124.40" x2="121.00" y2="124.40" stroke="#000" stroke-width="2.0"/><line x1="1406.90" y1="124.40" x2="1418.00" y2="124.40" stroke="#000" stroke-width="2.0"/><line x1="121.00" y1="70.00" x2="121.00" y2="219.30" stroke="#000" stroke-width="2.0"/><line x1="304.70" y1="70.00" x2="304.70" y2="219.30" stroke="#000" stroke-width="2.0"/><line x1="488.40" y1="70.00" x2="488.40" y2="219.30" stroke="#000" stroke-width="2.0"/><line x1="672.10" y1="70.00" x2="672.10" y2="219.30" stroke="#000" stroke-width="2.0"/><line x1="855.80" y1="70.00" x2="855.80" y2="219.30" stroke="#000" stroke-width="2.0"/><line x1="1039.50" y1="70.00" x2="1039.50" y2="219.30" stroke="#000" stroke-width="2.0"/><line x1="1223.20" y1="70.00" x2="1223.20" y2="219.30" stroke="#000" stroke-width="2.0"/><line x1="1406.90" y1="70.00" x2="1406.90" y2="219.30" stroke="#000" stroke-width="2.0"/><line x1="168.92" y1="70.00" x2="168.92" y2="83.00" stroke="#000" stroke-width="2.0"/><line x1="168.92" y1="206.40" x2="168.92" y2="219.30" stroke="#000" stroke-width="2.0"/><line x1="216.84" y1="70.00" x2="216.84" y2="76.00" stroke="#000" stroke-width="2.0"/><line x1="216.84" y1="206.40" x2="216.84" y2="219.30" stroke="#000" stroke-width="2.0"/><line x1="264.77" y1="70.00" x2="264.77" y2="83.00" stroke="#000" stroke-width="2.0"/><line x1="264.77" y1="206.40" x2="264.77" y2="219.30" stroke="#000" stroke-width="2.0"/><line x1="352.62" y1="70.00" x2="352.62" y2="83.00" stroke="#000" stroke-width="2.0"/><line x1="352.62" y1="206.40" x2="352.62" y2="219.30" stroke="#000" stroke-width="2.0"/><line x1="400.54" y1="70.00" x2="400.54" y2="76.00" stroke="#000" stroke-width="2.0"/><line x1="400.54" y1="206.40" x2="400.54" y2="219.30" stroke="#000" stroke-width="2.0"/><line x1="448.47" y1="70.00" x2="448.47" y2="83.00" stroke="#000" stroke-width="2.0"/><line x1="448.47" y1="206.40" x2="448.47" y2="219.30" stroke="#000" stroke-width="2.0"/><line x1="536.32" y1="70.00" x2="536.32" y2="76.00" stroke="#000" stroke-width="2.0"/><line x1="536.32" y1="206.40" x2="536.32" y2="219.30" stroke="#000" stroke-width="2.0"/><line x1="584.24" y1="70.00" x2="584.24" y2="76.00" stroke="#000" stroke-width="2.0"/><line x1="584.24" y1="206.40" x2="584.24" y2="219.30" stroke="#000" stroke-width="2.0"/><line x1="632.17" y1="70.00" x2="632.17" y2="83.00" stroke="#000" stroke-width="2.0"/><line x1="632.17" y1="206.40" x2="632.17" y2="219.30" stroke="#000" stroke-width="2.0"/><line x1="720.02" y1="70.00" x2="720.02" y2="76.00" stroke="#000" stroke-width="2.0"/><line x1="720.02" y1="206.40" x2="720.02" y2="219.30" stroke="#000" stroke-width="2.0"/><line x1="767.94" y1="70.00" x2="767.94" y2="76.00" stroke="#000" stroke-width="2.0"/><line x1="767.94" y1="206.40" x2="767.94" y2="219.30" stroke="#000" stroke-width="2.0"/><line x1="815.87" y1="70.00" x2="815.87" y2="83.00" stroke="#000" stroke-width="2.0"/><line x1="815.87" y1="206.40" x2="815.87" y2="219.30" stroke="#000" stroke-width="2.0"/><line x1="903.72" y1="70.00" x2="903.72" y2="83.00" stroke="#000" stroke-width="2.0"/><line x1="903.72" y1="206.40" x2="903.72" y2="219.30" stroke="#000" stroke-width="2.0"/><line x1="951.64" y1="70.00" x2="951.64" y2="76.00" stroke="#000" stroke-width="2.0"/><line x1="951.64" y1="206.40" x2="951.64" y2="219.30" stroke="#000" stroke-width="2.0"/><line x1="999.57" y1="70.00" x2="999.57" y2="83.00" stroke="#000" stroke-width="2.0"/><line x1="999.57" y1="206.40" x2="999.57" y2="219.30" stroke="#000" stroke-width="2.0"/><line x1="1087.42" y1="70.00" x2="1087.42" y2="76.00" stroke="#000" stroke-width="2.0"/><line x1="1087.42" y1="206.40" x2="1087.42" y2="219.30" stroke="#000" stroke-width="2.0"/><line x1="1135.34" y1="70.00" x2="1135.34" y2="76.00" stroke="#000" stroke-width="2.0"/><line x1="1135.34" y1="206.40" x2="1135.34" y2="219.30" stroke="#000" stroke-width="2.0"/><line x1="1183.27" y1="70.00" x2="1183.27" y2="83.00" stroke="#000" stroke-width="2.0"/><line x1="1183.27" y1="206.40" x2="1183.27" y2="219.30" stroke="#000" stroke-width="2.0"/><line x1="1271.12" y1="70.00" x2="1271.12" y2="76.00" stroke="#000" stroke-width="2.0"/><line x1="1271.12" y1="206.40" x2="1271.12" y2="219.30" stroke="#000" stroke-width="2.0"/><line x1="1319.04" y1="70.00" x2="1319.04" y2="76.00" stroke="#000" stroke-width="2.0"/><line x1="1319.04" y1="206.40" x2="1319.04" y2="219.30" stroke="#000" stroke-width="2.0"/><line x1="1366.97" y1="70.00" x2="1366.97" y2="83.00" stroke="#000" stroke-width="2.0"/><line x1="1366.97" y1="206.40" x2="1366.97" y2="219.30" stroke="#000" stroke-width="2.0"/><text transform="translate(298.14,60.40) scale(0.8000,1)" font-size="23.50" font-weight="normal" fill="#000">0</text><text transform="translate(346.01,60.40) scale(0.8000,1)" font-size="23.50" font-weight="normal" fill="#000">6</text><text transform="translate(388.57,60.40) scale(0.8000,1)" font-size="23.50" font-weight="normal" fill="#000">12</text><text transform="translate(436.40,60.40) scale(0.8000,1)" font-size="23.50" font-weight="normal" fill="#000">18</text><text transform="translate(476.57,60.40) scale(0.8000,1)" font-size="23.50" font-weight="normal" fill="#000">23</text><text transform="translate(665.54,60.40) scale(0.8000,1)" font-size="23.50" font-weight="normal" fill="#000">0</text><text transform="translate(713.41,60.40) scale(0.8000,1)" font-size="23.50" font-weight="normal" fill="#000">6</text><text transform="translate(755.97,60.40) scale(0.8000,1)" font-size="23.50" font-weight="normal" fill="#000">12</text><text transform="translate(803.80,60.40) scale(0.8000,1)" font-size="23.50" font-weight="normal" fill="#000">18</text><text transform="translate(843.97,60.40) scale(0.8000,1)" font-size="23.50" font-weight="normal" fill="#000">23</text><text transform="translate(1032.94,60.40) scale(0.8000,1)" font-size="23.50" font-weight="normal" fill="#000">0</text><text transform="translate(1080.81,60.40) scale(0.8000,1)" font-size="23.50" font-weight="normal" fill="#000">6</text><text transform="translate(1123.37,60.40) scale(0.8000,1)" font-size="23.50" font-weight="normal" fill="#000">12</text><text transform="translate(1171.20,60.40) scale(0.8000,1)" font-size="23.50" font-weight="normal" fill="#000">18</text><text transform="translate(1211.37,60.40) scale(0.8000,1)" font-size="23.50" font-weight="normal" fill="#000">23</text><text transform="translate(114.44,250.70) scale(0.8000,1)" font-size="23.50" font-weight="normal" fill="#000">0</text><text transform="translate(162.31,250.70) scale(0.8000,1)" font-size="23.50" font-weight="normal" fill="#000">6</text><text transform="translate(204.87,250.70) scale(0.8000,1)" font-size="23.50" font-weight="normal" fill="#000">12</text><text transform="translate(252.70,250.70) scale(0.8000,1)" font-size="23.50" font-weight="normal" fill="#000">18</text><text transform="translate(292.87,250.70) scale(0.8000,1)" font-size="23.50" font-weight="normal" fill="#000">23</text><text transform="translate(481.84,250.70) scale(0.8000,1)" font-size="23.50" font-weight="normal" fill="#000">0</text><text transform="translate(529.71,250.70) scale(0.8000,1)" font-size="23.50" font-weight="normal" fill="#000">6</text><text transform="translate(572.27,250.70) scale(0.8000,1)" font-size="23.50" font-weight="normal" fill="#000">12</text><text transform="translate(620.10,250.70) scale(0.8000,1)" font-size="23.50" font-weight="normal" fill="#000">18</text><text transform="translate(660.27,250.70) scale(0.8000,1)" font-size="23.50" font-weight="normal" fill="#000">23</text><text transform="translate(849.24,250.70) scale(0.8000,1)" font-size="23.50" font-weight="normal" fill="#000">0</text><text transform="translate(897.11,250.70) scale(0.8000,1)" font-size="23.50" font-weight="normal" fill="#000">6</text><text transform="translate(939.67,250.70) scale(0.8000,1)" font-size="23.50" font-weight="normal" fill="#000">12</text><text transform="translate(987.50,250.70) scale(0.8000,1)" font-size="23.50" font-weight="normal" fill="#000">18</text><text transform="translate(1027.67,250.70) scale(0.8000,1)" font-size="23.50" font-weight="normal" fill="#000">23</text><text transform="translate(1216.64,250.70) scale(0.8000,1)" font-size="23.50" font-weight="normal" fill="#000">0</text><text transform="translate(1264.51,250.70) scale(0.8000,1)" font-size="23.50" font-weight="normal" fill="#000">6</text><text transform="translate(1307.07,250.70) scale(0.8000,1)" font-size="23.50" font-weight="normal" fill="#000">12</text><text transform="translate(1354.90,250.70) scale(0.8000,1)" font-size="23.50" font-weight="normal" fill="#000">18</text><text transform="translate(1395.07,250.70) scale(0.8000,1)" font-size="23.50" font-weight="normal" fill="#000">23</text><text transform="translate(75.99,200.80) scale(0.8000,1)" font-size="23.50" font-weight="normal" fill="#000">20</text><text transform="translate(75.99,168.00) scale(0.8000,1)" font-size="23.50" font-weight="normal" fill="#000">60</text><text transform="translate(65.56,135.20) scale(0.8000,1)" font-size="23.50" font-weight="normal" fill="#000">100</text><g transform="translate(37.70,220.00) rotate(-90) scale(1.0000)"><text transform="translate(-1.26,0.00) scale(1.0062,1)" font-size="27.86" font-weight="normal" fill="#000" >O</text><text transform="translate(19.15,4.50) scale(0.9788,1)" font-size="19.14" font-weight="normal" fill="#000" >3</text><text transform="translate(31.71,-0.64) scale(0.8973,1)" font-size="23.40" font-weight="normal" fill="#000">,</text><text transform="translate(43.29,0.00) scale(1.0049,1)" font-size="27.10" font-weight="normal" fill="#000" >µg</text><text transform="translate(79.62,0.00) scale(0.9988,1)" font-size="27.41" font-weight="normal" fill="#000" >m</text><line x1="102.2" y1="-19.7" x2="111.0" y2="-19.7" stroke="#000" stroke-width="1.7"/><text transform="translate(110.27,-13.60) scale(0.9358,1)" font-size="19.57" font-weight="normal" fill="#000" >3</text></g><text transform="translate(739.76,298.00) scale(0.8629,1)" font-size="27.17" font-weight="normal" fill="#000" >hour</text><rect x="299.40" y="328.30" width="68.40" height="32.40" fill="#F8766D"/><text transform="translate(384.92,352.00) scale(0.8544,1)" font-size="22.86" font-weight="normal" fill="#000" >O3_2020</text><rect x="492.50" y="328.30" width="68.10" height="32.40" fill="#7CAE00"/><text transform="translate(594.13,352.00) scale(0.8457,1)" font-size="22.86" font-weight="normal" fill="#000" >O3_2019</text><rect x="760.50" y="328.30" width="68.30" height="32.40" fill="#00BFC4"/><text transform="translate(854.13,354.00) scale(0.8468,1)" font-size="22.86" font-weight="normal" fill="#000" >O3_2018</text><rect x="1028.00" y="328.30" width="68.70" height="32.40" fill="#C77CFF"/><text transform="translate(1108.13,351.40) scale(0.9057,1)" font-size="21.29" font-weight="normal" fill="#000" >O3_2017</text><line x1="199.33" y1="441.00" x2="199.33" y2="673.40" stroke="#e3e3e3" stroke-width="1.3"/><line x1="278.06" y1="441.00" x2="278.06" y2="673.40" stroke="#e3e3e3" stroke-width="1.3"/><line x1="356.79" y1="441.00" x2="356.79" y2="673.40" stroke="#e3e3e3" stroke-width="1.3"/><line x1="120.60" y1="634.67" x2="422.40" y2="634.67" stroke="#e3e3e3" stroke-width="1.3"/><line x1="120.60" y1="595.93" x2="422.40" y2="595.93" stroke="#e3e3e3" stroke-width="1.3"/><line x1="120.60" y1="557.20" x2="422.40" y2="557.20" stroke="#e3e3e3" stroke-width="1.3"/><line x1="120.60" y1="518.47" x2="422.40" y2="518.47" stroke="#e3e3e3" stroke-width="1.3"/><line x1="120.60" y1="479.73" x2="422.40" y2="479.73" stroke="#e3e3e3" stroke-width="1.3"/><svg x="120.6" y="441.0" width="301.79999999999995" height="232.39999999999998" viewBox="120.6 441.0 301.79999999999995 232.39999999999998" overflow="hidden"><path d="M120.60,566.88 L133.72,571.14 L146.84,572.31 L159.97,572.31 L173.09,572.31 L186.21,575.60 L199.33,580.05 L212.45,587.80 L225.57,594.38 L238.70,599.81 L251.82,588.77 L264.94,566.88 L278.06,551.39 L291.18,540.16 L304.30,531.44 L317.43,522.53 L330.55,519.24 L343.67,519.24 L356.79,521.37 L369.91,525.83 L383.03,530.28 L396.16,539.19 L409.28,550.23 L422.40,557.97 L422.40,577.34 L409.28,569.59 L396.16,558.56 L383.03,549.65 L369.91,545.19 L356.79,540.74 L343.67,538.61 L330.55,538.61 L317.43,541.90 L304.30,550.81 L291.18,559.52 L278.06,570.76 L264.94,586.25 L251.82,608.13 L238.70,619.17 L225.57,613.75 L212.45,607.17 L199.33,599.42 L186.21,594.97 L173.09,591.67 L159.97,591.67 L146.84,591.67 L133.72,590.51 L120.60,586.25 Z" fill="#F8766D" fill-opacity="0.4" stroke="none"/><path d="M120.60,576.57 L133.72,580.83 L146.84,581.99 L159.97,581.99 L173.09,581.99 L186.21,585.28 L199.33,589.74 L212.45,597.48 L225.57,604.07 L238.70,609.49 L251.82,598.45 L264.94,576.57 L278.06,561.07 L291.18,549.84 L304.30,541.13 L317.43,532.22 L330.55,528.92 L343.67,528.92 L356.79,531.06 L369.91,535.51 L383.03,539.96 L396.16,548.87 L409.28,559.91 L422.40,567.66" fill="none" stroke="#F8766D" stroke-width="3.0" stroke-linejoin="round"/><path d="M120.60,523.31 L133.72,521.37 L146.84,519.43 L159.97,519.43 L173.09,519.43 L186.21,521.37 L199.33,527.18 L212.45,536.87 L225.57,552.36 L238.70,565.91 L251.82,556.23 L264.94,540.74 L278.06,523.31 L291.18,507.81 L304.30,494.26 L317.43,484.58 L330.55,478.76 L343.67,474.89 L356.79,472.95 L369.91,476.83 L383.03,484.58 L396.16,496.19 L409.28,511.69 L422.40,527.18 L422.40,548.49 L409.28,532.99 L396.16,517.50 L383.03,505.88 L369.91,498.13 L356.79,494.26 L343.67,496.19 L330.55,500.07 L317.43,505.88 L304.30,515.56 L291.18,529.12 L278.06,544.61 L264.94,562.04 L251.82,577.53 L238.70,587.22 L225.57,573.66 L212.45,558.17 L199.33,548.49 L186.21,542.67 L173.09,540.74 L159.97,540.74 L146.84,540.74 L133.72,542.67 L120.60,544.61 Z" fill="#7CAE00" fill-opacity="0.4" stroke="none"/><path d="M120.60,533.96 L133.72,532.02 L146.84,530.09 L159.97,530.09 L173.09,530.09 L186.21,532.02 L199.33,537.83 L212.45,547.52 L225.57,563.01 L238.70,576.57 L251.82,566.88 L264.94,551.39 L278.06,533.96 L291.18,518.47 L304.30,504.91 L317.43,495.23 L330.55,489.42 L343.67,485.54 L356.79,483.61 L369.91,487.48 L383.03,495.23 L396.16,506.85 L409.28,522.34 L422.40,537.83" fill="none" stroke="#7CAE00" stroke-width="3.0" stroke-linejoin="round"/><path d="M120.60,536.87 L133.72,539.19 L146.84,536.87 L159.97,536.87 L173.09,538.22 L186.21,541.51 L199.33,549.26 L212.45,557.01 L225.57,567.85 L238.70,581.41 L251.82,565.91 L264.94,539.19 L278.06,517.50 L291.18,499.49 L304.30,486.12 L317.43,477.41 L330.55,472.95 L343.67,472.95 L356.79,475.09 L369.91,481.86 L383.03,492.90 L396.16,506.07 L409.28,521.57 L422.40,536.87 L422.40,558.17 L409.28,542.87 L396.16,527.38 L383.03,514.21 L369.91,503.17 L356.79,496.39 L343.67,494.26 L330.55,494.26 L317.43,498.71 L304.30,507.43 L291.18,520.79 L278.06,538.80 L264.94,560.49 L251.82,587.22 L238.70,602.71 L225.57,589.15 L212.45,578.31 L199.33,570.56 L186.21,562.82 L173.09,559.52 L159.97,558.17 L146.84,558.17 L133.72,560.49 L120.60,558.17 Z" fill="#00BFC4" fill-opacity="0.4" stroke="none"/><path d="M120.60,547.52 L133.72,549.84 L146.84,547.52 L159.97,547.52 L173.09,548.87 L186.21,552.16 L199.33,559.91 L212.45,567.66 L225.57,578.50 L238.70,592.06 L251.82,576.57 L264.94,549.84 L278.06,528.15 L291.18,510.14 L304.30,496.78 L317.43,488.06 L330.55,483.61 L343.67,483.61 L356.79,485.74 L369.91,492.52 L383.03,503.55 L396.16,516.72 L409.28,532.22 L422.40,547.52" fill="none" stroke="#00BFC4" stroke-width="3.0" stroke-linejoin="round"/><path d="M120.60,530.47 L133.72,535.90 L146.84,534.93 L159.97,532.60 L173.09,531.44 L186.21,528.15 L199.33,529.31 L212.45,539.19 L225.57,552.55 L238.70,572.50 L251.82,559.14 L264.94,526.02 L278.06,501.62 L291.18,486.12 L304.30,472.95 L317.43,461.92 L330.55,457.46 L343.67,457.46 L356.79,457.46 L369.91,459.59 L383.03,466.37 L396.16,481.86 L409.28,501.62 L422.40,521.57 L422.40,542.87 L409.28,522.92 L396.16,503.17 L383.03,487.67 L369.91,480.90 L356.79,478.76 L343.67,478.76 L330.55,478.76 L317.43,483.22 L304.30,494.26 L291.18,507.43 L278.06,522.92 L264.94,547.32 L251.82,580.44 L238.70,593.80 L225.57,573.86 L212.45,560.49 L199.33,550.62 L186.21,549.45 L173.09,552.75 L159.97,553.91 L146.84,556.23 L133.72,557.20 L120.60,551.78 Z" fill="#C77CFF" fill-opacity="0.4" stroke="none"/><path d="M120.60,541.13 L133.72,546.55 L146.84,545.58 L159.97,543.26 L173.09,542.09 L186.21,538.80 L199.33,539.96 L212.45,549.84 L225.57,563.20 L238.70,583.15 L251.82,569.79 L264.94,536.67 L278.06,512.27 L291.18,496.78 L304.30,483.61 L317.43,472.57 L330.55,468.11 L343.67,468.11 L356.79,468.11 L369.91,470.24 L383.03,477.02 L396.16,492.52 L409.28,512.27 L422.40,532.22" fill="none" stroke="#C77CFF" stroke-width="3.0" stroke-linejoin="round"/></svg><line x1="109.80" y1="441.00" x2="433.20" y2="441.00" stroke="#000" stroke-width="2.0"/><line x1="109.80" y1="673.40" x2="433.20" y2="673.40" stroke="#000" stroke-width="2.0"/><line x1="120.60" y1="428.00" x2="120.60" y2="685.20" stroke="#000" stroke-width="2.0"/><line x1="422.40" y1="428.00" x2="422.40" y2="685.20" stroke="#000" stroke-width="2.0"/><line x1="120.60" y1="428.00" x2="120.60" y2="441.00" stroke="#000" stroke-width="2.0"/><line x1="120.60" y1="673.40" x2="120.60" y2="685.20" stroke="#000" stroke-width="2.0"/><line x1="199.33" y1="428.00" x2="199.33" y2="441.00" stroke="#000" stroke-width="2.0"/><line x1="199.33" y1="673.40" x2="199.33" y2="685.20" stroke="#000" stroke-width="2.0"/><line x1="278.06" y1="428.00" x2="278.06" y2="441.00" stroke="#000" stroke-width="2.0"/><line x1="278.06" y1="673.40" x2="278.06" y2="685.20" stroke="#000" stroke-width="2.0"/><line x1="356.79" y1="428.00" x2="356.79" y2="441.00" stroke="#000" stroke-width="2.0"/><line x1="356.79" y1="673.40" x2="356.79" y2="685.20" stroke="#000" stroke-width="2.0"/><line x1="422.40" y1="428.00" x2="422.40" y2="441.00" stroke="#000" stroke-width="2.0"/><line x1="422.40" y1="673.40" x2="422.40" y2="685.20" stroke="#000" stroke-width="2.0"/><line x1="109.80" y1="634.67" x2="120.60" y2="634.67" stroke="#000" stroke-width="2.0"/><line x1="422.40" y1="634.67" x2="433.20" y2="634.67" stroke="#000" stroke-width="2.0"/><line x1="109.80" y1="595.93" x2="120.60" y2="595.93" stroke="#000" stroke-width="2.0"/><line x1="422.40" y1="595.93" x2="433.20" y2="595.93" stroke="#000" stroke-width="2.0"/><line x1="109.80" y1="557.20" x2="120.60" y2="557.20" stroke="#000" stroke-width="2.0"/><line x1="422.40" y1="557.20" x2="433.20" y2="557.20" stroke="#000" stroke-width="2.0"/><line x1="109.80" y1="518.47" x2="120.60" y2="518.47" stroke="#000" stroke-width="2.0"/><line x1="422.40" y1="518.47" x2="433.20" y2="518.47" stroke="#000" stroke-width="2.0"/><line x1="109.80" y1="479.73" x2="120.60" y2="479.73" stroke="#000" stroke-width="2.0"/><line x1="422.40" y1="479.73" x2="433.20" y2="479.73" stroke="#000" stroke-width="2.0"/><text transform="translate(114.34,717.00) scale(0.8000,1)" font-size="23.50" font-weight="normal" fill="#000">0</text><text transform="translate(193.02,717.00) scale(0.8000,1)" font-size="23.50" font-weight="normal" fill="#000">6</text><text transform="translate(266.39,717.00) scale(0.8000,1)" font-size="23.50" font-weight="normal" fill="#000">12</text><text transform="translate(345.03,717.00) scale(0.8000,1)" font-size="23.50" font-weight="normal" fill="#000">18</text><text transform="translate(410.87,717.00) scale(0.8000,1)" font-size="23.50" font-weight="normal" fill="#000">23</text><text transform="translate(75.99,645.47) scale(0.8000,1)" font-size="23.50" font-weight="normal" fill="#000">20</text><text transform="translate(75.99,606.73) scale(0.8000,1)" font-size="23.50" font-weight="normal" fill="#000">40</text><text transform="translate(75.99,568.00) scale(0.8000,1)" font-size="23.50" font-weight="normal" fill="#000">60</text><text transform="translate(75.99,529.27) scale(0.8000,1)" font-size="23.50" font-weight="normal" fill="#000">80</text><text transform="translate(65.56,490.53) scale(0.8000,1)" font-size="23.50" font-weight="normal" fill="#000">100</text><g transform="translate(37.90,620.20) rotate(-90) scale(1.0000)"><text transform="translate(-1.26,0.00) scale(1.0062,1)" font-size="27.86" font-weight="normal" fill="#000" >O</text><text transform="translate(19.15,4.50) scale(0.9788,1)" font-size="19.14" font-weight="normal" fill="#000" >3</text><text transform="translate(31.71,-0.64) scale(0.8973,1)" font-size="23.40" font-weight="normal" fill="#000">,</text><text transform="translate(43.29,0.00) scale(1.0049,1)" font-size="27.10" font-weight="normal" fill="#000" >µg</text><text transform="translate(79.62,0.00) scale(0.9988,1)" font-size="27.41" font-weight="normal" fill="#000" >m</text><line x1="102.2" y1="-19.7" x2="111.0" y2="-19.7" stroke="#000" stroke-width="1.7"/><text transform="translate(110.27,-13.60) scale(0.9358,1)" font-size="19.57" font-weight="normal" fill="#000" >3</text></g><text transform="translate(246.81,765.60) scale(0.8874,1)" font-size="25.66" font-weight="normal" fill="#000" >hour</text><line x1="618.20" y1="441.00" x2="618.20" y2="673.40" stroke="#e3e3e3" stroke-width="1.3"/><line x1="643.27" y1="441.00" x2="643.27" y2="673.40" stroke="#e3e3e3" stroke-width="1.3"/><line x1="668.34" y1="441.00" x2="668.34" y2="673.40" stroke="#e3e3e3" stroke-width="1.3"/><line x1="693.41" y1="441.00" x2="693.41" y2="673.40" stroke="#e3e3e3" stroke-width="1.3"/><line x1="718.48" y1="441.00" x2="718.48" y2="673.40" stroke="#e3e3e3" stroke-width="1.3"/><line x1="743.55" y1="441.00" x2="743.55" y2="673.40" stroke="#e3e3e3" stroke-width="1.3"/><line x1="768.62" y1="441.00" x2="768.62" y2="673.40" stroke="#e3e3e3" stroke-width="1.3"/><line x1="793.69" y1="441.00" x2="793.69" y2="673.40" stroke="#e3e3e3" stroke-width="1.3"/><line x1="818.76" y1="441.00" x2="818.76" y2="673.40" stroke="#e3e3e3" stroke-width="1.3"/><line x1="843.83" y1="441.00" x2="843.83" y2="673.40" stroke="#e3e3e3" stroke-width="1.3"/><line x1="868.90" y1="441.00" x2="868.90" y2="673.40" stroke="#e3e3e3" stroke-width="1.3"/><line x1="893.97" y1="441.00" x2="893.97" y2="673.40" stroke="#e3e3e3" stroke-width="1.3"/><line x1="606.40" y1="634.67" x2="906.40" y2="634.67" stroke="#e3e3e3" stroke-width="1.3"/><line x1="606.40" y1="595.93" x2="906.40" y2="595.93" stroke="#e3e3e3" stroke-width="1.3"/><line x1="606.40" y1="557.20" x2="906.40" y2="557.20" stroke="#e3e3e3" stroke-width="1.3"/><line x1="606.40" y1="518.47" x2="906.40" y2="518.47" stroke="#e3e3e3" stroke-width="1.3"/><line x1="606.40" y1="479.73" x2="906.40" y2="479.73" stroke="#e3e3e3" stroke-width="1.3"/><rect x="686.01" y="561.65" width="14.8" height="6.97" fill="#F8766D" fill-opacity="0.4"/><path d="M693.41,559.94 L698.21,565.14 L693.41,570.34 L688.61,565.14 Z" fill="#F8766D"/><rect x="686.01" y="518.27" width="14.8" height="6.97" fill="#7CAE00" fill-opacity="0.4"/><path d="M693.41,516.56 L698.21,521.76 L693.41,526.96 L688.61,521.76 Z" fill="#7CAE00"/><rect x="686.01" y="529.31" width="14.8" height="7.75" fill="#00BFC4" fill-opacity="0.4"/><path d="M693.41,527.99 L698.21,533.19 L693.41,538.39 L688.61,533.19 Z" fill="#00BFC4"/><rect x="686.01" y="516.53" width="14.8" height="7.75" fill="#C77CFF" fill-opacity="0.4"/><path d="M693.41,515.20 L698.21,520.40 L693.41,525.60 L688.61,520.40 Z" fill="#C77CFF"/><line x1="593.40" y1="441.00" x2="919.40" y2="441.00" stroke="#000" stroke-width="2.0"/><line x1="593.40" y1="673.40" x2="919.40" y2="673.40" stroke="#000" stroke-width="2.0"/><line x1="606.40" y1="441.00" x2="606.40" y2="673.40" stroke="#000" stroke-width="2.0"/><line x1="906.40" y1="441.00" x2="906.40" y2="673.40" stroke="#000" stroke-width="2.0"/><line x1="618.20" y1="428.00" x2="618.20" y2="441.00" stroke="#000" stroke-width="2.0"/><line x1="618.20" y1="673.40" x2="618.20" y2="685.20" stroke="#000" stroke-width="2.0"/><line x1="643.27" y1="428.00" x2="643.27" y2="441.00" stroke="#000" stroke-width="2.0"/><line x1="643.27" y1="673.40" x2="643.27" y2="685.20" stroke="#000" stroke-width="2.0"/><line x1="668.34" y1="428.00" x2="668.34" y2="441.00" stroke="#000" stroke-width="2.0"/><line x1="668.34" y1="673.40" x2="668.34" y2="685.20" stroke="#000" stroke-width="2.0"/><line x1="693.41" y1="428.00" x2="693.41" y2="441.00" stroke="#000" stroke-width="2.0"/><line x1="693.41" y1="673.40" x2="693.41" y2="685.20" stroke="#000" stroke-width="2.0"/><line x1="718.48" y1="428.00" x2="718.48" y2="441.00" stroke="#000" stroke-width="2.0"/><line x1="718.48" y1="673.40" x2="718.48" y2="685.20" stroke="#000" stroke-width="2.0"/><line x1="743.55" y1="428.00" x2="743.55" y2="441.00" stroke="#000" stroke-width="2.0"/><line x1="743.55" y1="673.40" x2="743.55" y2="685.20" stroke="#000" stroke-width="2.0"/><line x1="768.62" y1="428.00" x2="768.62" y2="441.00" stroke="#000" stroke-width="2.0"/><line x1="768.62" y1="673.40" x2="768.62" y2="685.20" stroke="#000" stroke-width="2.0"/><line x1="793.69" y1="428.00" x2="793.69" y2="441.00" stroke="#000" stroke-width="2.0"/><line x1="793.69" y1="673.40" x2="793.69" y2="685.20" stroke="#000" stroke-width="2.0"/><line x1="818.76" y1="428.00" x2="818.76" y2="441.00" stroke="#000" stroke-width="2.0"/><line x1="818.76" y1="673.40" x2="818.76" y2="685.20" stroke="#000" stroke-width="2.0"/><line x1="843.83" y1="428.00" x2="843.83" y2="441.00" stroke="#000" stroke-width="2.0"/><line x1="843.83" y1="673.40" x2="843.83" y2="685.20" stroke="#000" stroke-width="2.0"/><line x1="868.90" y1="428.00" x2="868.90" y2="441.00" stroke="#000" stroke-width="2.0"/><line x1="868.90" y1="673.40" x2="868.90" y2="685.20" stroke="#000" stroke-width="2.0"/><line x1="893.97" y1="428.00" x2="893.97" y2="441.00" stroke="#000" stroke-width="2.0"/><line x1="893.97" y1="673.40" x2="893.97" y2="685.20" stroke="#000" stroke-width="2.0"/><line x1="593.40" y1="634.67" x2="606.40" y2="634.67" stroke="#000" stroke-width="2.0"/><line x1="906.40" y1="634.67" x2="919.40" y2="634.67" stroke="#000" stroke-width="2.0"/><line x1="593.40" y1="595.93" x2="606.40" y2="595.93" stroke="#000" stroke-width="2.0"/><line x1="906.40" y1="595.93" x2="919.40" y2="595.93" stroke="#000" stroke-width="2.0"/><line x1="593.40" y1="557.20" x2="606.40" y2="557.20" stroke="#000" stroke-width="2.0"/><line x1="906.40" y1="557.20" x2="919.40" y2="557.20" stroke="#000" stroke-width="2.0"/><line x1="593.40" y1="518.47" x2="606.40" y2="518.47" stroke="#000" stroke-width="2.0"/><line x1="906.40" y1="518.47" x2="919.40" y2="518.47" stroke="#000" stroke-width="2.0"/><line x1="593.40" y1="479.73" x2="606.40" y2="479.73" stroke="#000" stroke-width="2.0"/><line x1="906.40" y1="479.73" x2="919.40" y2="479.73" stroke="#000" stroke-width="2.0"/><text transform="translate(611.32,718.00) scale(0.9300,1)" font-size="23.00" font-weight="normal" fill="#000">e</text><text transform="translate(639.11,718.00) scale(0.9300,1)" font-size="23.00" font-weight="normal" fill="#000">f</text><text transform="translate(658.41,718.00) scale(0.9300,1)" font-size="23.00" font-weight="normal" fill="#000">m</text><text transform="translate(686.05,718.00) scale(0.9300,1)" font-size="23.00" font-weight="normal" fill="#000">a</text><text transform="translate(708.55,718.00) scale(0.9300,1)" font-size="23.00" font-weight="normal" fill="#000">m</text><text transform="translate(741.16,718.00) scale(0.9300,1)" font-size="23.00" font-weight="normal" fill="#000">j</text><text transform="translate(766.23,718.00) scale(0.9300,1)" font-size="23.00" font-weight="normal" fill="#000">j</text><text transform="translate(786.33,718.00) scale(0.9300,1)" font-size="23.00" font-weight="normal" fill="#000">a</text><text transform="translate(812.47,718.00) scale(0.9300,1)" font-size="23.00" font-weight="normal" fill="#000">s</text><text transform="translate(836.89,718.00) scale(0.9300,1)" font-size="23.00" font-weight="normal" fill="#000">o</text><text transform="translate(861.96,718.00) scale(0.9300,1)" font-size="23.00" font-weight="normal" fill="#000">n</text><text transform="translate(887.30,718.00) scale(0.9300,1)" font-size="23.00" font-weight="normal" fill="#000">d</text><text transform="translate(561.29,645.47) scale(0.8000,1)" font-size="23.50" font-weight="normal" fill="#000">20</text><text transform="translate(561.29,606.73) scale(0.8000,1)" font-size="23.50" font-weight="normal" fill="#000">40</text><text transform="translate(561.29,568.00) scale(0.8000,1)" font-size="23.50" font-weight="normal" fill="#000">60</text><text transform="translate(561.29,529.27) scale(0.8000,1)" font-size="23.50" font-weight="normal" fill="#000">80</text><text transform="translate(550.86,490.53) scale(0.8000,1)" font-size="23.50" font-weight="normal" fill="#000">100</text><g transform="translate(523.50,620.00) rotate(-90) scale(1.0000)"><text transform="translate(-1.26,0.00) scale(1.0062,1)" font-size="27.86" font-weight="normal" fill="#000" >O</text><text transform="translate(19.15,4.50) scale(0.9788,1)" font-size="19.14" font-weight="normal" fill="#000" >3</text><text transform="translate(31.71,-0.64) scale(0.8973,1)" font-size="23.40" font-weight="normal" fill="#000">,</text><text transform="translate(43.29,0.00) scale(1.0049,1)" font-size="27.10" font-weight="normal" fill="#000" >µg</text><text transform="translate(79.62,0.00) scale(0.9988,1)" font-size="27.41" font-weight="normal" fill="#000" >m</text><line x1="102.2" y1="-19.7" x2="111.0" y2="-19.7" stroke="#000" stroke-width="1.7"/><text transform="translate(110.27,-13.60) scale(0.9358,1)" font-size="19.57" font-weight="normal" fill="#000" >3</text></g><text transform="translate(722.24,765.60) scale(1.0191,1)" font-size="23.59" font-weight="normal" fill="#000" >month</text><line x1="1110.20" y1="441.20" x2="1110.20" y2="672.80" stroke="#e3e3e3" stroke-width="1.3"/><line x1="1156.43" y1="441.20" x2="1156.43" y2="672.80" stroke="#e3e3e3" stroke-width="1.3"/><line x1="1202.66" y1="441.20" x2="1202.66" y2="672.80" stroke="#e3e3e3" stroke-width="1.3"/><line x1="1248.89" y1="441.20" x2="1248.89" y2="672.80" stroke="#e3e3e3" stroke-width="1.3"/><line x1="1295.12" y1="441.20" x2="1295.12" y2="672.80" stroke="#e3e3e3" stroke-width="1.3"/><line x1="1341.35" y1="441.20" x2="1341.35" y2="672.80" stroke="#e3e3e3" stroke-width="1.3"/><line x1="1387.58" y1="441.20" x2="1387.58" y2="672.80" stroke="#e3e3e3" stroke-width="1.3"/><line x1="1091.60" y1="634.20" x2="1407.20" y2="634.20" stroke="#e3e3e3" stroke-width="1.3"/><line x1="1091.60" y1="595.60" x2="1407.20" y2="595.60" stroke="#e3e3e3" stroke-width="1.3"/><line x1="1091.60" y1="557.00" x2="1407.20" y2="557.00" stroke="#e3e3e3" stroke-width="1.3"/><line x1="1091.60" y1="518.40" x2="1407.20" y2="518.40" stroke="#e3e3e3" stroke-width="1.3"/><line x1="1091.60" y1="479.80" x2="1407.20" y2="479.80" stroke="#e3e3e3" stroke-width="1.3"/><svg x="1091.6" y="441.2" width="315.60000000000014" height="231.59999999999997" viewBox="1091.6 441.2 315.60000000000014 231.59999999999997" overflow="hidden"><rect x="1096.79" y="551.02" width="26.81" height="11.58" fill="#F8766D" fill-opacity="0.4"/><rect x="1143.02" y="567.04" width="26.81" height="11.58" fill="#F8766D" fill-opacity="0.4"/><rect x="1189.25" y="560.47" width="26.81" height="11.58" fill="#F8766D" fill-opacity="0.4"/><rect x="1235.48" y="563.75" width="26.81" height="11.58" fill="#F8766D" fill-opacity="0.4"/><rect x="1281.71" y="568.77" width="26.81" height="11.58" fill="#F8766D" fill-opacity="0.4"/><rect x="1327.94" y="559.51" width="26.81" height="13.51" fill="#F8766D" fill-opacity="0.4"/><rect x="1374.17" y="540.40" width="26.81" height="11.58" fill="#F8766D" fill-opacity="0.4"/><path d="M1110.20,556.81 L1156.43,572.83 L1202.66,566.26 L1248.89,569.54 L1295.12,574.56 L1341.35,566.26 L1387.58,546.19" fill="none" stroke="#F8766D" stroke-width="2.8" stroke-linejoin="round"/><rect x="1096.79" y="512.61" width="26.81" height="13.51" fill="#7CAE00" fill-opacity="0.4"/><rect x="1143.02" y="506.82" width="26.81" height="11.58" fill="#7CAE00" fill-opacity="0.4"/><rect x="1189.25" y="531.52" width="26.81" height="19.30" fill="#7CAE00" fill-opacity="0.4"/><rect x="1235.48" y="518.59" width="26.81" height="11.58" fill="#7CAE00" fill-opacity="0.4"/><rect x="1281.71" y="513.58" width="26.81" height="11.58" fill="#7CAE00" fill-opacity="0.4"/><rect x="1327.94" y="504.89" width="26.81" height="15.44" fill="#7CAE00" fill-opacity="0.4"/><rect x="1374.17" y="515.12" width="26.81" height="11.58" fill="#7CAE00" fill-opacity="0.4"/><path d="M1110.20,519.37 L1156.43,512.61 L1202.66,541.17 L1248.89,524.38 L1295.12,519.37 L1341.35,512.61 L1387.58,520.91" fill="none" stroke="#7CAE00" stroke-width="2.8" stroke-linejoin="round"/><rect x="1096.79" y="521.68" width="26.81" height="15.44" fill="#00BFC4" fill-opacity="0.4"/><rect x="1143.02" y="521.68" width="26.81" height="15.44" fill="#00BFC4" fill-opacity="0.4"/><rect x="1189.25" y="529.98" width="26.81" height="15.44" fill="#00BFC4" fill-opacity="0.4"/><rect x="1235.48" y="525.15" width="26.81" height="11.58" fill="#00BFC4" fill-opacity="0.4"/><rect x="1281.71" y="532.68" width="26.81" height="15.44" fill="#00BFC4" fill-opacity="0.4"/><rect x="1327.94" y="523.23" width="26.81" height="15.44" fill="#00BFC4" fill-opacity="0.4"/><rect x="1374.17" y="523.61" width="26.81" height="11.58" fill="#00BFC4" fill-opacity="0.4"/><path d="M1110.20,529.40 L1156.43,529.40 L1202.66,537.70 L1248.89,530.94 L1295.12,540.40 L1341.35,530.94 L1387.58,529.40" fill="none" stroke="#00BFC4" stroke-width="2.8" stroke-linejoin="round"/><rect x="1096.79" y="498.91" width="26.81" height="19.30" fill="#C77CFF" fill-opacity="0.4"/><rect x="1143.02" y="506.82" width="26.81" height="11.58" fill="#C77CFF" fill-opacity="0.4"/><rect x="1189.25" y="506.63" width="26.81" height="15.44" fill="#C77CFF" fill-opacity="0.4"/><rect x="1235.48" y="518.59" width="26.81" height="11.58" fill="#C77CFF" fill-opacity="0.4"/><rect x="1281.71" y="534.03" width="26.81" height="19.30" fill="#C77CFF" fill-opacity="0.4"/><rect x="1327.94" y="521.68" width="26.81" height="15.44" fill="#C77CFF" fill-opacity="0.4"/><rect x="1374.17" y="506.63" width="26.81" height="15.44" fill="#C77CFF" fill-opacity="0.4"/><path d="M1110.20,508.56 L1156.43,512.61 L1202.66,514.35 L1248.89,524.38 L1295.12,543.68 L1341.35,529.40 L1387.58,514.35" fill="none" stroke="#C77CFF" stroke-width="2.8" stroke-linejoin="round"/></svg><line x1="1078.80" y1="441.20" x2="1420.00" y2="441.20" stroke="#000" stroke-width="2.0"/><line x1="1078.80" y1="672.80" x2="1420.00" y2="672.80" stroke="#000" stroke-width="2.0"/><line x1="1091.60" y1="441.20" x2="1091.60" y2="672.80" stroke="#000" stroke-width="2.0"/><line x1="1407.20" y1="441.20" x2="1407.20" y2="672.80" stroke="#000" stroke-width="2.0"/><line x1="1110.20" y1="428.20" x2="1110.20" y2="441.20" stroke="#000" stroke-width="2.0"/><line x1="1110.20" y1="672.80" x2="1110.20" y2="684.60" stroke="#000" stroke-width="2.0"/><line x1="1156.43" y1="428.20" x2="1156.43" y2="441.20" stroke="#000" stroke-width="2.0"/><line x1="1156.43" y1="672.80" x2="1156.43" y2="684.60" stroke="#000" stroke-width="2.0"/><line x1="1202.66" y1="428.20" x2="1202.66" y2="441.20" stroke="#000" stroke-width="2.0"/><line x1="1202.66" y1="672.80" x2="1202.66" y2="684.60" stroke="#000" stroke-width="2.0"/><line x1="1248.89" y1="428.20" x2="1248.89" y2="441.20" stroke="#000" stroke-width="2.0"/><line x1="1248.89" y1="672.80" x2="1248.89" y2="684.60" stroke="#000" stroke-width="2.0"/><line x1="1295.12" y1="428.20" x2="1295.12" y2="441.20" stroke="#000" stroke-width="2.0"/><line x1="1295.12" y1="672.80" x2="1295.12" y2="684.60" stroke="#000" stroke-width="2.0"/><line x1="1341.35" y1="428.20" x2="1341.35" y2="441.20" stroke="#000" stroke-width="2.0"/><line x1="1341.35" y1="672.80" x2="1341.35" y2="684.60" stroke="#000" stroke-width="2.0"/><line x1="1387.58" y1="428.20" x2="1387.58" y2="441.20" stroke="#000" stroke-width="2.0"/><line x1="1387.58" y1="672.80" x2="1387.58" y2="684.60" stroke="#000" stroke-width="2.0"/><line x1="1078.80" y1="634.20" x2="1091.60" y2="634.20" stroke="#000" stroke-width="2.0"/><line x1="1407.20" y1="634.20" x2="1420.00" y2="634.20" stroke="#000" stroke-width="2.0"/><line x1="1078.80" y1="595.60" x2="1091.60" y2="595.60" stroke="#000" stroke-width="2.0"/><line x1="1407.20" y1="595.60" x2="1420.00" y2="595.60" stroke="#000" stroke-width="2.0"/><line x1="1078.80" y1="557.00" x2="1091.60" y2="557.00" stroke="#000" stroke-width="2.0"/><line x1="1407.20" y1="557.00" x2="1420.00" y2="557.00" stroke="#000" stroke-width="2.0"/><line x1="1078.80" y1="518.40" x2="1091.60" y2="518.40" stroke="#000" stroke-width="2.0"/><line x1="1407.20" y1="518.40" x2="1420.00" y2="518.40" stroke="#000" stroke-width="2.0"/><line x1="1078.80" y1="479.80" x2="1091.60" y2="479.80" stroke="#000" stroke-width="2.0"/><line x1="1407.20" y1="479.80" x2="1420.00" y2="479.80" stroke="#000" stroke-width="2.0"/><text transform="translate(1097.78,718.00) scale(0.9300,1)" font-size="23.00" font-weight="normal" fill="#000">lu.</text><text transform="translate(1137.49,718.00) scale(0.9300,1)" font-size="23.00" font-weight="normal" fill="#000">ma.</text><text transform="translate(1187.30,718.00) scale(0.9300,1)" font-size="23.00" font-weight="normal" fill="#000">mi.</text><text transform="translate(1237.44,718.00) scale(0.9300,1)" font-size="23.00" font-weight="normal" fill="#000">ju.</text><text transform="translate(1283.99,718.00) scale(0.9300,1)" font-size="23.00" font-weight="normal" fill="#000">vi.</text><text transform="translate(1326.37,718.00) scale(0.9300,1)" font-size="23.00" font-weight="normal" fill="#000">sá.</text><text transform="translate(1371.90,718.00) scale(0.9300,1)" font-size="23.00" font-weight="normal" fill="#000">do.</text><text transform="translate(1047.09,645.00) scale(0.8000,1)" font-size="23.50" font-weight="normal" fill="#000">20</text><text transform="translate(1047.09,606.40) scale(0.8000,1)" font-size="23.50" font-weight="normal" fill="#000">40</text><text transform="translate(1047.09,567.80) scale(0.8000,1)" font-size="23.50" font-weight="normal" fill="#000">60</text><text transform="translate(1047.09,529.20) scale(0.8000,1)" font-size="23.50" font-weight="normal" fill="#000">80</text><text transform="translate(1036.66,490.60) scale(0.8000,1)" font-size="23.50" font-weight="normal" fill="#000">100</text><g transform="translate(1010.60,620.00) rotate(-90) scale(1.0000)"><text transform="translate(-1.26,0.00) scale(1.0062,1)" font-size="27.86" font-weight="normal" fill="#000" >O</text><text transform="translate(19.15,4.50) scale(0.9788,1)" font-size="19.14" font-weight="normal" fill="#000" >3</text><text transform="translate(31.71,-0.64) scale(0.8973,1)" font-size="23.40" font-weight="normal" fill="#000">,</text><text transform="translate(43.29,0.00) scale(1.0049,1)" font-size="27.10" font-weight="normal" fill="#000" >µg</text><text transform="translate(79.62,0.00) scale(0.9988,1)" font-size="27.41" font-weight="normal" fill="#000" >m</text><line x1="102.2" y1="-19.7" x2="111.0" y2="-19.7" stroke="#000" stroke-width="1.7"/><text transform="translate(110.27,-13.60) scale(0.9358,1)" font-size="19.57" font-weight="normal" fill="#000" >3</text></g><text transform="translate(1201.30,767.70) scale(0.8597,1)" font-size="27.86" font-weight="normal" fill="#000" >weekday</text><text transform="translate(498.45,802.80) scale(0.8736,1)" font-size="27.31" font-weight="normal" fill="#000" >mean and 95% confidence interval in mean</text></g>
<line x1="164.45" y1="1787.30" x2="164.45" y2="1883.40" stroke="#e3e3e3" stroke-width="1.3"/><line x1="211.20" y1="1787.30" x2="211.20" y2="1883.40" stroke="#e3e3e3" stroke-width="1.3"/><line x1="257.94" y1="1787.30" x2="257.94" y2="1883.40" stroke="#e3e3e3" stroke-width="1.3"/><line x1="343.65" y1="1787.30" x2="343.65" y2="1883.40" stroke="#e3e3e3" stroke-width="1.3"/><line x1="390.40" y1="1787.30" x2="390.40" y2="1883.40" stroke="#e3e3e3" stroke-width="1.3"/><line x1="437.14" y1="1787.30" x2="437.14" y2="1883.40" stroke="#e3e3e3" stroke-width="1.3"/><line x1="522.85" y1="1787.30" x2="522.85" y2="1883.40" stroke="#e3e3e3" stroke-width="1.3"/><line x1="569.60" y1="1787.30" x2="569.60" y2="1883.40" stroke="#e3e3e3" stroke-width="1.3"/><line x1="616.34" y1="1787.30" x2="616.34" y2="1883.40" stroke="#e3e3e3" stroke-width="1.3"/><line x1="702.05" y1="1787.30" x2="702.05" y2="1883.40" stroke="#e3e3e3" stroke-width="1.3"/><line x1="748.80" y1="1787.30" x2="748.80" y2="1883.40" stroke="#e3e3e3" stroke-width="1.3"/><line x1="795.54" y1="1787.30" x2="795.54" y2="1883.40" stroke="#e3e3e3" stroke-width="1.3"/><line x1="881.25" y1="1787.30" x2="881.25" y2="1883.40" stroke="#e3e3e3" stroke-width="1.3"/><line x1="928.00" y1="1787.30" x2="928.00" y2="1883.40" stroke="#e3e3e3" stroke-width="1.3"/><line x1="974.74" y1="1787.30" x2="974.74" y2="1883.40" stroke="#e3e3e3" stroke-width="1.3"/><line x1="1060.45" y1="1787.30" x2="1060.45" y2="1883.40" stroke="#e3e3e3" stroke-width="1.3"/><line x1="1107.20" y1="1787.30" x2="1107.20" y2="1883.40" stroke="#e3e3e3" stroke-width="1.3"/><line x1="1153.94" y1="1787.30" x2="1153.94" y2="1883.40" stroke="#e3e3e3" stroke-width="1.3"/><line x1="1239.65" y1="1787.30" x2="1239.65" y2="1883.40" stroke="#e3e3e3" stroke-width="1.3"/><line x1="1286.40" y1="1787.30" x2="1286.40" y2="1883.40" stroke="#e3e3e3" stroke-width="1.3"/><line x1="1333.14" y1="1787.30" x2="1333.14" y2="1883.40" stroke="#e3e3e3" stroke-width="1.3"/><line x1="117.70" y1="1867.38" x2="1372.10" y2="1867.38" stroke="#e3e3e3" stroke-width="1.3"/><line x1="117.70" y1="1851.37" x2="1372.10" y2="1851.37" stroke="#e3e3e3" stroke-width="1.3"/><line x1="117.70" y1="1835.35" x2="1372.10" y2="1835.35" stroke="#e3e3e3" stroke-width="1.3"/><line x1="117.70" y1="1819.33" x2="1372.10" y2="1819.33" stroke="#e3e3e3" stroke-width="1.3"/><line x1="117.70" y1="1803.32" x2="1372.10" y2="1803.32" stroke="#e3e3e3" stroke-width="1.3"/><svg x="117.7" y="1787.3" width="1254.3999999999999" height="96.10000000000014" viewBox="117.7 1787.3 1254.3999999999999 96.10000000000014" overflow="hidden"><path d="M117.70,1822.63 L133.28,1827.66 L148.87,1830.17 L164.45,1827.66 L180.03,1835.19 L187.82,1835.19 L195.61,1830.17 L211.20,1818.86 L226.78,1811.33 L242.36,1807.56 L257.94,1808.81 L273.53,1812.58 L289.11,1816.35 L296.90,1818.86 L296.90,1840.53 L289.11,1838.02 L273.53,1834.25 L257.94,1830.48 L242.36,1829.23 L226.78,1833.00 L211.20,1840.53 L195.61,1851.84 L187.82,1856.86 L180.03,1856.86 L164.45,1849.33 L148.87,1851.84 L133.28,1849.33 L117.70,1844.30 Z" fill="#F8766D" fill-opacity="0.4" stroke="none"/><path d="M117.70,1833.47 L133.28,1838.49 L148.87,1841.00 L164.45,1838.49 L180.03,1846.03 L187.82,1846.03 L195.61,1841.00 L211.20,1829.70 L226.78,1822.16 L242.36,1818.39 L257.94,1819.65 L273.53,1823.42 L289.11,1827.19 L296.90,1829.70" fill="none" stroke="#F8766D" stroke-width="3.0" stroke-linejoin="round"/><path d="M296.90,1825.14 L312.48,1825.14 L328.07,1823.89 L343.65,1822.63 L359.23,1827.66 L367.02,1830.17 L374.81,1831.42 L382.60,1830.17 L390.40,1826.40 L398.19,1820.12 L405.98,1813.84 L413.77,1810.07 L421.56,1811.33 L429.35,1812.58 L437.14,1813.84 L444.93,1813.84 L452.73,1815.09 L460.52,1820.12 L468.31,1827.66 L476.10,1832.68 L476.10,1854.35 L468.31,1849.33 L460.52,1841.79 L452.73,1836.76 L444.93,1835.51 L437.14,1835.51 L429.35,1834.25 L421.56,1833.00 L413.77,1831.74 L405.98,1835.51 L398.19,1841.79 L390.40,1848.07 L382.60,1851.84 L374.81,1853.09 L367.02,1851.84 L359.23,1849.33 L343.65,1844.30 L328.07,1845.56 L312.48,1846.81 L296.90,1846.81 Z" fill="#F8766D" fill-opacity="0.4" stroke="none"/><path d="M296.90,1835.98 L312.48,1835.98 L328.07,1834.72 L343.65,1833.47 L359.23,1838.49 L367.02,1841.00 L374.81,1842.26 L382.60,1841.00 L390.40,1837.23 L398.19,1830.95 L405.98,1824.67 L413.77,1820.90 L421.56,1822.16 L429.35,1823.42 L437.14,1824.67 L444.93,1824.67 L452.73,1825.93 L460.52,1830.95 L468.31,1838.49 L476.10,1843.52" fill="none" stroke="#F8766D" stroke-width="3.0" stroke-linejoin="round"/><path d="M476.10,1827.66 L491.68,1825.14 L507.27,1825.14 L522.85,1828.91 L538.43,1832.68 L546.22,1832.68 L554.01,1832.68 L561.80,1825.14 L569.60,1817.61 L585.18,1807.56 L600.76,1803.79 L616.34,1803.79 L624.13,1806.30 L631.93,1808.81 L639.72,1815.09 L647.51,1825.14 L655.30,1831.42 L655.30,1853.09 L647.51,1846.81 L639.72,1836.76 L631.93,1830.48 L624.13,1827.97 L616.34,1825.46 L600.76,1825.46 L585.18,1829.23 L569.60,1839.28 L561.80,1846.81 L554.01,1854.35 L546.22,1854.35 L538.43,1854.35 L522.85,1850.58 L507.27,1846.81 L491.68,1846.81 L476.10,1849.33 Z" fill="#F8766D" fill-opacity="0.4" stroke="none"/><path d="M476.10,1838.49 L491.68,1835.98 L507.27,1835.98 L522.85,1839.75 L538.43,1843.52 L546.22,1843.52 L554.01,1843.52 L561.80,1835.98 L569.60,1828.44 L585.18,1818.39 L600.76,1814.62 L616.34,1814.62 L624.13,1817.14 L631.93,1819.65 L639.72,1825.93 L647.51,1835.98 L655.30,1842.26" fill="none" stroke="#F8766D" stroke-width="3.0" stroke-linejoin="round"/><path d="M655.30,1836.45 L663.09,1835.19 L670.88,1833.94 L678.67,1832.68 L686.47,1832.68 L694.26,1831.42 L702.05,1832.68 L709.84,1835.19 L717.63,1837.71 L725.42,1841.47 L733.21,1835.19 L741.00,1825.14 L748.80,1817.61 L756.59,1812.58 L764.38,1808.81 L772.17,1808.19 L779.96,1808.19 L787.75,1808.81 L795.54,1811.33 L803.33,1815.09 L811.13,1821.38 L818.92,1827.66 L826.71,1836.45 L834.50,1845.24 L834.50,1866.91 L826.71,1858.12 L818.92,1849.33 L811.13,1843.04 L803.33,1836.76 L795.54,1833.00 L787.75,1830.48 L779.96,1829.85 L772.17,1829.85 L764.38,1830.48 L756.59,1834.25 L748.80,1839.28 L741.00,1846.81 L733.21,1856.86 L725.42,1863.14 L717.63,1859.38 L709.84,1856.86 L702.05,1854.35 L694.26,1853.09 L686.47,1854.35 L678.67,1854.35 L670.88,1855.61 L663.09,1856.86 L655.30,1858.12 Z" fill="#F8766D" fill-opacity="0.4" stroke="none"/><path d="M655.30,1847.28 L663.09,1846.03 L670.88,1844.77 L678.67,1843.52 L686.47,1843.52 L694.26,1842.26 L702.05,1843.52 L709.84,1846.03 L717.63,1848.54 L725.42,1852.31 L733.21,1846.03 L741.00,1835.98 L748.80,1828.44 L756.59,1823.42 L764.38,1819.65 L772.17,1819.02 L779.96,1819.02 L787.75,1819.65 L795.54,1822.16 L803.33,1825.93 L811.13,1832.21 L818.92,1838.49 L826.71,1847.28 L834.50,1856.08" fill="none" stroke="#F8766D" stroke-width="3.0" stroke-linejoin="round"/><path d="M834.50,1841.47 L850.08,1842.73 L865.67,1845.24 L881.25,1845.24 L896.83,1850.27 L904.62,1852.78 L912.41,1847.76 L920.20,1831.42 L928.00,1822.63 L935.79,1816.35 L943.58,1813.84 L951.37,1812.58 L959.16,1812.58 L966.95,1810.07 L974.74,1807.56 L982.53,1808.81 L990.33,1811.33 L998.12,1813.84 L1005.91,1816.35 L1013.70,1818.86 L1013.70,1840.53 L1005.91,1838.02 L998.12,1835.51 L990.33,1833.00 L982.53,1830.48 L974.74,1829.23 L966.95,1831.74 L959.16,1834.25 L951.37,1834.25 L943.58,1835.51 L935.79,1838.02 L928.00,1844.30 L920.20,1853.09 L912.41,1869.43 L904.62,1874.45 L896.83,1871.94 L881.25,1866.91 L865.67,1866.91 L850.08,1864.40 L834.50,1863.14 Z" fill="#F8766D" fill-opacity="0.4" stroke="none"/><path d="M834.50,1852.31 L850.08,1853.57 L865.67,1856.08 L881.25,1856.08 L896.83,1861.10 L904.62,1863.62 L912.41,1858.59 L920.20,1842.26 L928.00,1833.47 L935.79,1827.19 L943.58,1824.67 L951.37,1823.42 L959.16,1823.42 L966.95,1820.90 L974.74,1818.39 L982.53,1819.65 L990.33,1822.16 L998.12,1824.67 L1005.91,1827.19 L1013.70,1829.70" fill="none" stroke="#F8766D" stroke-width="3.0" stroke-linejoin="round"/><path d="M1013.70,1833.94 L1021.49,1828.91 L1029.28,1831.42 L1037.07,1832.68 L1044.87,1832.68 L1052.66,1832.68 L1060.45,1833.94 L1068.24,1840.22 L1076.03,1850.27 L1083.82,1857.81 L1091.61,1845.24 L1099.40,1827.66 L1107.20,1811.33 L1114.99,1800.02 L1122.78,1793.74 L1130.57,1791.23 L1138.36,1791.23 L1146.15,1793.74 L1153.94,1796.25 L1161.73,1800.02 L1169.53,1806.30 L1177.32,1810.07 L1185.11,1813.84 L1192.90,1818.86 L1192.90,1840.53 L1185.11,1835.51 L1177.32,1831.74 L1169.53,1827.97 L1161.73,1821.69 L1153.94,1817.92 L1146.15,1815.41 L1138.36,1812.90 L1130.57,1812.90 L1122.78,1815.41 L1114.99,1821.69 L1107.20,1833.00 L1099.40,1849.33 L1091.61,1866.91 L1083.82,1879.47 L1076.03,1871.94 L1068.24,1861.89 L1060.45,1855.61 L1052.66,1854.35 L1044.87,1854.35 L1037.07,1854.35 L1029.28,1853.09 L1021.49,1850.58 L1013.70,1855.61 Z" fill="#F8766D" fill-opacity="0.4" stroke="none"/><path d="M1013.70,1844.77 L1021.49,1839.75 L1029.28,1842.26 L1037.07,1843.52 L1044.87,1843.52 L1052.66,1843.52 L1060.45,1844.77 L1068.24,1851.05 L1076.03,1861.10 L1083.82,1868.64 L1091.61,1856.08 L1099.40,1838.49 L1107.20,1822.16 L1114.99,1810.85 L1122.78,1804.57 L1130.57,1802.06 L1138.36,1802.06 L1146.15,1804.57 L1153.94,1807.09 L1161.73,1810.85 L1169.53,1817.14 L1177.32,1820.90 L1185.11,1824.67 L1192.90,1829.70" fill="none" stroke="#F8766D" stroke-width="3.0" stroke-linejoin="round"/><path d="M1192.90,1818.86 L1200.69,1819.49 L1208.48,1817.61 L1216.27,1812.58 L1224.07,1802.53 L1231.86,1801.28 L1239.65,1802.53 L1247.44,1808.81 L1255.23,1816.35 L1263.02,1820.12 L1270.81,1815.09 L1278.60,1808.81 L1286.40,1806.30 L1294.19,1803.79 L1301.98,1800.02 L1309.77,1796.25 L1317.56,1793.74 L1325.35,1792.48 L1333.14,1793.74 L1340.93,1797.51 L1348.73,1803.79 L1356.52,1810.07 L1364.31,1815.09 L1372.10,1817.61 L1372.10,1839.28 L1364.31,1836.76 L1356.52,1831.74 L1348.73,1825.46 L1340.93,1819.18 L1333.14,1815.41 L1325.35,1814.15 L1317.56,1815.41 L1309.77,1817.92 L1301.98,1821.69 L1294.19,1825.46 L1286.40,1827.97 L1278.60,1830.48 L1270.81,1836.76 L1263.02,1841.79 L1255.23,1838.02 L1247.44,1830.48 L1239.65,1824.20 L1231.86,1822.95 L1224.07,1824.20 L1216.27,1834.25 L1208.48,1839.28 L1200.69,1841.16 L1192.90,1840.53 Z" fill="#F8766D" fill-opacity="0.4" stroke="none"/><path d="M1192.90,1829.70 L1200.69,1830.33 L1208.48,1828.44 L1216.27,1823.42 L1224.07,1813.37 L1231.86,1812.11 L1239.65,1813.37 L1247.44,1819.65 L1255.23,1827.19 L1263.02,1830.95 L1270.81,1825.93 L1278.60,1819.65 L1286.40,1817.14 L1294.19,1814.62 L1301.98,1810.85 L1309.77,1807.09 L1317.56,1804.57 L1325.35,1803.32 L1333.14,1804.57 L1340.93,1808.34 L1348.73,1814.62 L1356.52,1820.90 L1364.31,1825.93 L1372.10,1828.44" fill="none" stroke="#F8766D" stroke-width="3.0" stroke-linejoin="round"/><path d="M117.70,1814.62 L125.49,1816.51 L133.28,1818.39 L141.07,1820.90 L148.87,1819.65 L156.66,1814.00 L164.45,1808.34 L172.24,1807.09 L180.03,1804.57 L187.82,1808.34 L195.61,1810.85 L203.40,1806.46 L211.20,1802.06 L218.99,1796.41 L226.78,1790.76 L234.57,1788.24 L242.36,1785.73 L250.15,1785.73 L257.94,1785.73 L265.73,1785.73 L273.53,1785.73 L281.32,1792.01 L289.11,1798.29 L296.90,1813.37 L296.90,1843.52 L289.11,1823.42 L281.32,1812.11 L273.53,1800.80 L265.73,1799.55 L257.94,1798.29 L250.15,1799.55 L242.36,1800.80 L234.57,1809.60 L226.78,1818.39 L218.99,1825.93 L211.20,1833.47 L203.40,1837.86 L195.61,1842.26 L187.82,1846.03 L180.03,1848.54 L172.24,1856.08 L164.45,1863.62 L156.66,1869.27 L148.87,1874.92 L141.07,1873.67 L133.28,1863.62 L125.49,1857.96 L117.70,1852.31 Z" fill="#7CAE00" fill-opacity="0.4" stroke="none"/><path d="M117.70,1833.47 L125.49,1835.98 L133.28,1841.00 L141.07,1843.52 L148.87,1842.26 L156.66,1838.49 L164.45,1835.98 L172.24,1835.98 L180.03,1839.75 L187.82,1839.75 L195.61,1833.47 L203.40,1825.93 L211.20,1817.14 L218.99,1810.85 L226.78,1803.32 L234.57,1795.78 L242.36,1789.50 L250.15,1788.24 L257.94,1788.24 L265.73,1788.24 L273.53,1789.50 L281.32,1800.80 L289.11,1810.85 L296.90,1828.44" fill="none" stroke="#7CAE00" stroke-width="3.0" stroke-linejoin="round"/><path d="M296.90,1810.85 L304.69,1802.06 L312.48,1800.80 L320.27,1800.18 L328.07,1799.55 L335.86,1800.80 L343.65,1802.06 L351.44,1802.06 L359.23,1802.06 L367.02,1799.55 L374.81,1800.80 L382.60,1800.18 L390.40,1799.55 L398.19,1798.29 L405.98,1797.04 L413.77,1793.90 L421.56,1790.76 L429.35,1788.24 L437.14,1790.76 L444.93,1793.27 L452.73,1795.78 L460.52,1802.06 L468.31,1808.34 L476.10,1815.88 L476.10,1844.77 L468.31,1838.49 L460.52,1829.70 L452.73,1820.90 L444.93,1815.88 L437.14,1810.85 L429.35,1808.34 L421.56,1810.85 L413.77,1814.62 L405.98,1818.39 L398.19,1824.67 L390.40,1830.95 L382.60,1833.47 L374.81,1835.98 L367.02,1839.75 L359.23,1838.49 L351.44,1835.35 L343.65,1832.21 L335.86,1830.95 L328.07,1829.70 L320.27,1831.58 L312.48,1833.47 L304.69,1835.98 L296.90,1838.49 Z" fill="#7CAE00" fill-opacity="0.4" stroke="none"/><path d="M296.90,1827.19 L304.69,1824.67 L312.48,1820.90 L320.27,1817.14 L328.07,1815.88 L335.86,1817.14 L343.65,1818.39 L351.44,1820.90 L359.23,1829.70 L367.02,1832.21 L374.81,1828.44 L382.60,1823.42 L390.40,1817.14 L398.19,1810.85 L405.98,1804.57 L413.77,1802.06 L421.56,1798.29 L429.35,1795.78 L437.14,1799.55 L444.93,1804.57 L452.73,1809.60 L460.52,1815.88 L468.31,1827.19 L476.10,1832.21" fill="none" stroke="#7CAE00" stroke-width="3.0" stroke-linejoin="round"/><path d="M476.10,1819.02 L483.89,1817.76 L491.68,1816.51 L499.47,1815.25 L507.27,1819.02 L515.06,1821.53 L522.85,1826.56 L530.64,1834.09 L538.43,1844.14 L546.22,1851.68 L554.01,1849.17 L561.80,1841.63 L569.60,1832.84 L577.39,1824.04 L585.18,1812.74 L592.97,1805.20 L600.76,1798.92 L608.55,1791.38 L616.34,1786.36 L624.13,1788.87 L631.93,1796.41 L639.72,1805.20 L647.51,1814.00 L655.30,1815.25 L655.30,1844.14 L647.51,1842.89 L639.72,1834.09 L631.93,1825.30 L624.13,1817.76 L616.34,1815.25 L608.55,1820.28 L600.76,1827.81 L592.97,1834.09 L585.18,1841.63 L577.39,1852.94 L569.60,1861.73 L561.80,1870.52 L554.01,1878.06 L546.22,1880.57 L538.43,1873.04 L530.64,1862.99 L522.85,1855.45 L515.06,1850.43 L507.27,1847.91 L499.47,1844.14 L491.68,1845.40 L483.89,1846.66 L476.10,1847.91 Z" fill="#7CAE00" fill-opacity="0.4" stroke="none"/><path d="M476.10,1833.47 L483.89,1832.21 L491.68,1830.95 L499.47,1829.70 L507.27,1833.47 L515.06,1835.98 L522.85,1841.00 L530.64,1848.54 L538.43,1858.59 L546.22,1866.13 L554.01,1863.62 L561.80,1856.08 L569.60,1847.28 L577.39,1838.49 L585.18,1827.19 L592.97,1819.65 L600.76,1813.37 L608.55,1805.83 L616.34,1800.80 L624.13,1803.32 L631.93,1810.85 L639.72,1819.65 L647.51,1828.44 L655.30,1829.70" fill="none" stroke="#7CAE00" stroke-width="3.0" stroke-linejoin="round"/><path d="M655.30,1803.32 L663.09,1802.06 L670.88,1803.32 L678.67,1804.57 L686.47,1805.83 L694.26,1809.60 L702.05,1813.37 L709.84,1823.42 L717.63,1833.47 L725.42,1839.75 L733.21,1833.47 L741.00,1824.67 L748.80,1815.88 L756.59,1808.34 L764.38,1800.80 L772.17,1795.78 L779.96,1790.76 L787.75,1788.24 L795.54,1788.24 L803.33,1793.90 L811.13,1799.55 L818.92,1808.34 L826.71,1817.14 L834.50,1819.65 L834.50,1843.52 L826.71,1838.49 L818.92,1828.44 L811.13,1818.39 L803.33,1812.74 L795.54,1807.09 L787.75,1807.09 L779.96,1810.85 L772.17,1818.39 L764.38,1825.93 L756.59,1834.72 L748.80,1843.52 L741.00,1853.57 L733.21,1863.62 L725.42,1871.15 L717.63,1866.13 L709.84,1856.08 L702.05,1846.03 L694.26,1839.75 L686.47,1833.47 L678.67,1830.95 L670.88,1829.70 L663.09,1828.44 L655.30,1828.44 Z" fill="#7CAE00" fill-opacity="0.4" stroke="none"/><path d="M655.30,1818.39 L663.09,1818.39 L670.88,1818.39 L678.67,1819.02 L686.47,1820.90 L694.26,1824.67 L702.05,1830.95 L709.84,1839.75 L717.63,1849.80 L725.42,1856.08 L733.21,1848.54 L741.00,1837.23 L748.80,1829.70 L756.59,1820.90 L764.38,1813.37 L772.17,1805.83 L779.96,1799.55 L787.75,1795.78 L795.54,1795.78 L803.33,1799.55 L811.13,1808.34 L818.92,1818.39 L826.71,1827.19 L834.50,1832.21" fill="none" stroke="#7CAE00" stroke-width="3.0" stroke-linejoin="round"/><path d="M834.50,1812.74 L842.29,1803.95 L850.08,1797.66 L857.87,1796.41 L865.67,1795.78 L873.46,1795.78 L881.25,1803.95 L889.04,1815.25 L896.83,1826.56 L904.62,1831.58 L912.41,1821.53 L920.20,1808.97 L928.00,1803.95 L935.79,1801.43 L943.58,1797.66 L951.37,1795.15 L959.16,1793.90 L966.95,1793.90 L974.74,1798.92 L982.53,1801.43 L990.33,1803.95 L998.12,1806.46 L1005.91,1808.97 L1013.70,1812.74 L1013.70,1841.63 L1005.91,1837.86 L998.12,1835.35 L990.33,1832.84 L982.53,1830.33 L974.74,1827.81 L966.95,1822.79 L959.16,1822.79 L951.37,1824.04 L943.58,1826.56 L935.79,1830.33 L928.00,1832.84 L920.20,1837.86 L912.41,1850.43 L904.62,1860.47 L896.83,1855.45 L889.04,1844.14 L881.25,1832.84 L873.46,1824.67 L865.67,1824.67 L857.87,1825.30 L850.08,1826.56 L842.29,1832.84 L834.50,1841.63 Z" fill="#7CAE00" fill-opacity="0.4" stroke="none"/><path d="M834.50,1827.19 L842.29,1818.39 L850.08,1812.11 L857.87,1810.85 L865.67,1810.23 L873.46,1810.23 L881.25,1818.39 L889.04,1829.70 L896.83,1841.00 L904.62,1846.03 L912.41,1835.98 L920.20,1823.42 L928.00,1818.39 L935.79,1815.88 L943.58,1812.11 L951.37,1809.60 L959.16,1808.34 L966.95,1808.34 L974.74,1813.37 L982.53,1815.88 L990.33,1818.39 L998.12,1820.90 L1005.91,1823.42 L1013.70,1827.19" fill="none" stroke="#7CAE00" stroke-width="3.0" stroke-linejoin="round"/><path d="M1013.70,1821.53 L1021.49,1811.48 L1029.28,1801.43 L1037.07,1797.66 L1044.87,1798.92 L1052.66,1802.69 L1060.45,1806.46 L1068.24,1815.25 L1076.03,1827.81 L1083.82,1839.12 L1091.61,1837.86 L1099.40,1824.04 L1107.20,1812.74 L1114.99,1802.69 L1122.78,1796.41 L1130.57,1791.38 L1138.36,1787.61 L1146.15,1785.10 L1153.94,1785.10 L1161.73,1788.87 L1169.53,1796.41 L1177.32,1801.43 L1185.11,1805.20 L1192.90,1808.97 L1192.90,1837.86 L1185.11,1834.09 L1177.32,1830.33 L1169.53,1825.30 L1161.73,1817.76 L1153.94,1814.00 L1146.15,1814.00 L1138.36,1816.51 L1130.57,1820.28 L1122.78,1825.30 L1114.99,1831.58 L1107.20,1841.63 L1099.40,1852.94 L1091.61,1866.76 L1083.82,1868.01 L1076.03,1856.71 L1068.24,1844.14 L1060.45,1835.35 L1052.66,1831.58 L1044.87,1827.81 L1037.07,1826.56 L1029.28,1830.33 L1021.49,1840.38 L1013.70,1850.43 Z" fill="#7CAE00" fill-opacity="0.4" stroke="none"/><path d="M1013.70,1835.98 L1021.49,1825.93 L1029.28,1815.88 L1037.07,1812.11 L1044.87,1813.37 L1052.66,1817.14 L1060.45,1820.90 L1068.24,1829.70 L1076.03,1842.26 L1083.82,1853.57 L1091.61,1852.31 L1099.40,1838.49 L1107.20,1827.19 L1114.99,1817.14 L1122.78,1810.85 L1130.57,1805.83 L1138.36,1802.06 L1146.15,1799.55 L1153.94,1799.55 L1161.73,1803.32 L1169.53,1810.85 L1177.32,1815.88 L1185.11,1819.65 L1192.90,1823.42" fill="none" stroke="#7CAE00" stroke-width="3.0" stroke-linejoin="round"/><path d="M1192.90,1803.95 L1200.69,1802.69 L1208.48,1798.92 L1216.27,1796.41 L1224.07,1797.04 L1231.86,1798.29 L1239.65,1802.69 L1247.44,1808.97 L1255.23,1821.53 L1263.02,1834.09 L1270.81,1827.81 L1278.60,1819.02 L1286.40,1811.48 L1294.19,1803.95 L1301.98,1798.92 L1309.77,1795.15 L1317.56,1790.13 L1325.35,1785.10 L1333.14,1785.10 L1340.93,1788.87 L1348.73,1795.15 L1356.52,1802.69 L1364.31,1808.97 L1372.10,1815.25 L1372.10,1844.14 L1364.31,1837.86 L1356.52,1831.58 L1348.73,1824.04 L1340.93,1817.76 L1333.14,1814.00 L1325.35,1814.00 L1317.56,1819.02 L1309.77,1824.04 L1301.98,1827.81 L1294.19,1832.84 L1286.40,1840.38 L1278.60,1847.91 L1270.81,1856.71 L1263.02,1862.99 L1255.23,1850.43 L1247.44,1837.86 L1239.65,1831.58 L1231.86,1827.19 L1224.07,1825.93 L1216.27,1825.30 L1208.48,1827.81 L1200.69,1831.58 L1192.90,1832.84 Z" fill="#7CAE00" fill-opacity="0.4" stroke="none"/><path d="M1192.90,1818.39 L1200.69,1817.14 L1208.48,1813.37 L1216.27,1810.85 L1224.07,1811.48 L1231.86,1812.74 L1239.65,1817.14 L1247.44,1823.42 L1255.23,1835.98 L1263.02,1848.54 L1270.81,1842.26 L1278.60,1833.47 L1286.40,1825.93 L1294.19,1818.39 L1301.98,1813.37 L1309.77,1809.60 L1317.56,1804.57 L1325.35,1799.55 L1333.14,1799.55 L1340.93,1803.32 L1348.73,1809.60 L1356.52,1817.14 L1364.31,1823.42 L1372.10,1829.70" fill="none" stroke="#7CAE00" stroke-width="3.0" stroke-linejoin="round"/><path d="M117.70,1825.30 L125.49,1821.53 L133.28,1820.28 L141.07,1819.02 L148.87,1815.25 L156.66,1814.00 L164.45,1820.28 L172.24,1827.81 L180.03,1834.09 L187.82,1839.12 L195.61,1835.35 L203.40,1824.04 L211.20,1812.74 L218.99,1811.48 L226.78,1810.23 L234.57,1805.20 L242.36,1802.69 L250.15,1801.43 L257.94,1803.95 L265.73,1811.48 L273.53,1819.02 L281.32,1826.56 L289.11,1832.84 L296.90,1837.86 L296.90,1866.76 L289.11,1861.73 L281.32,1855.45 L273.53,1847.91 L265.73,1840.38 L257.94,1832.84 L250.15,1830.33 L242.36,1831.58 L234.57,1834.09 L226.78,1839.12 L218.99,1840.38 L211.20,1841.63 L203.40,1852.94 L195.61,1864.24 L187.82,1868.01 L180.03,1862.99 L172.24,1856.71 L164.45,1849.17 L156.66,1842.89 L148.87,1844.14 L141.07,1847.91 L133.28,1849.17 L125.49,1850.43 L117.70,1854.19 Z" fill="#00BFC4" fill-opacity="0.4" stroke="none"/><path d="M117.70,1839.75 L125.49,1835.98 L133.28,1834.72 L141.07,1833.47 L148.87,1829.70 L156.66,1828.44 L164.45,1834.72 L172.24,1842.26 L180.03,1848.54 L187.82,1853.57 L195.61,1849.80 L203.40,1838.49 L211.20,1827.19 L218.99,1825.93 L226.78,1824.67 L234.57,1819.65 L242.36,1817.14 L250.15,1815.88 L257.94,1818.39 L265.73,1825.93 L273.53,1833.47 L281.32,1841.00 L289.11,1847.28 L296.90,1852.31" fill="none" stroke="#00BFC4" stroke-width="3.0" stroke-linejoin="round"/><path d="M296.90,1835.98 L304.69,1838.49 L312.48,1835.98 L320.27,1827.19 L328.07,1825.93 L335.86,1828.44 L343.65,1830.95 L351.44,1831.58 L359.23,1832.21 L367.02,1833.47 L374.81,1833.47 L382.60,1825.93 L390.40,1815.88 L398.19,1810.85 L405.98,1805.83 L413.77,1804.57 L421.56,1803.32 L429.35,1802.69 L437.14,1802.06 L444.93,1806.46 L452.73,1810.85 L460.52,1819.02 L468.31,1827.19 L476.10,1833.47 L476.10,1863.62 L468.31,1856.08 L460.52,1844.77 L452.73,1833.47 L444.93,1827.19 L437.14,1820.90 L429.35,1821.53 L421.56,1822.16 L413.77,1825.30 L405.98,1828.44 L398.19,1834.72 L390.40,1841.00 L382.60,1856.08 L374.81,1873.67 L367.02,1876.18 L359.23,1871.15 L351.44,1867.38 L343.65,1863.62 L335.86,1859.85 L328.07,1856.08 L320.27,1856.08 L312.48,1872.41 L304.69,1873.67 L296.90,1868.64 Z" fill="#00BFC4" fill-opacity="0.4" stroke="none"/><path d="M296.90,1852.31 L304.69,1853.57 L312.48,1852.31 L320.27,1841.00 L328.07,1841.00 L335.86,1844.77 L343.65,1846.03 L351.44,1847.28 L359.23,1848.54 L367.02,1851.05 L374.81,1849.80 L382.60,1841.00 L390.40,1828.44 L398.19,1820.90 L405.98,1817.14 L413.77,1814.62 L421.56,1812.11 L429.35,1810.85 L437.14,1810.85 L444.93,1813.37 L452.73,1822.16 L460.52,1830.95 L468.31,1841.00 L476.10,1847.28" fill="none" stroke="#00BFC4" stroke-width="3.0" stroke-linejoin="round"/><path d="M476.10,1827.81 L483.89,1826.56 L491.68,1825.30 L499.47,1825.30 L507.27,1827.81 L515.06,1830.33 L522.85,1832.84 L530.64,1835.35 L538.43,1839.12 L546.22,1841.63 L554.01,1837.86 L561.80,1826.56 L569.60,1816.51 L577.39,1808.97 L585.18,1805.20 L592.97,1803.95 L600.76,1802.69 L608.55,1802.69 L616.34,1803.95 L624.13,1806.46 L631.93,1811.48 L639.72,1819.02 L647.51,1826.56 L655.30,1834.09 L655.30,1862.99 L647.51,1855.45 L639.72,1847.91 L631.93,1840.38 L624.13,1835.35 L616.34,1832.84 L608.55,1831.58 L600.76,1831.58 L592.97,1832.84 L585.18,1834.09 L577.39,1837.86 L569.60,1845.40 L561.80,1855.45 L554.01,1866.76 L546.22,1870.52 L538.43,1868.01 L530.64,1864.24 L522.85,1861.73 L515.06,1859.22 L507.27,1856.71 L499.47,1854.19 L491.68,1854.19 L483.89,1855.45 L476.10,1856.71 Z" fill="#00BFC4" fill-opacity="0.4" stroke="none"/><path d="M476.10,1842.26 L483.89,1841.00 L491.68,1839.75 L499.47,1839.75 L507.27,1842.26 L515.06,1844.77 L522.85,1847.28 L530.64,1849.80 L538.43,1853.57 L546.22,1856.08 L554.01,1852.31 L561.80,1841.00 L569.60,1830.95 L577.39,1823.42 L585.18,1819.65 L592.97,1818.39 L600.76,1817.14 L608.55,1817.14 L616.34,1818.39 L624.13,1820.90 L631.93,1825.93 L639.72,1833.47 L647.51,1841.00 L655.30,1848.54" fill="none" stroke="#00BFC4" stroke-width="3.0" stroke-linejoin="round"/><path d="M655.30,1838.49 L663.09,1830.95 L670.88,1818.39 L678.67,1800.80 L686.47,1804.57 L694.26,1810.23 L702.05,1815.88 L709.84,1827.19 L717.63,1838.49 L725.42,1846.03 L733.21,1839.75 L741.00,1827.81 L748.80,1815.88 L756.59,1810.23 L764.38,1804.57 L772.17,1802.06 L779.96,1799.55 L787.75,1800.80 L795.54,1802.06 L803.33,1807.71 L811.13,1813.37 L818.92,1821.53 L826.71,1829.70 L834.50,1834.72 L834.50,1856.08 L826.71,1851.05 L818.92,1842.26 L811.13,1833.47 L803.33,1827.19 L795.54,1820.90 L787.75,1819.65 L779.96,1818.39 L772.17,1822.79 L764.38,1827.19 L756.59,1834.09 L748.80,1841.00 L741.00,1854.82 L733.21,1868.64 L725.42,1876.18 L717.63,1868.64 L709.84,1857.33 L702.05,1846.03 L694.26,1842.89 L686.47,1839.75 L678.67,1846.03 L670.88,1856.08 L663.09,1866.13 L655.30,1876.18 Z" fill="#00BFC4" fill-opacity="0.4" stroke="none"/><path d="M655.30,1857.33 L663.09,1848.54 L670.88,1835.98 L678.67,1825.93 L686.47,1820.90 L694.26,1824.67 L702.05,1830.95 L709.84,1842.26 L717.63,1852.31 L725.42,1859.85 L733.21,1853.57 L741.00,1841.00 L748.80,1828.44 L756.59,1820.90 L764.38,1815.88 L772.17,1810.85 L779.96,1808.34 L787.75,1808.34 L795.54,1810.85 L803.33,1815.88 L811.13,1823.42 L818.92,1830.95 L826.71,1839.75 L834.50,1844.77" fill="none" stroke="#00BFC4" stroke-width="3.0" stroke-linejoin="round"/><path d="M834.50,1827.19 L842.29,1828.76 L850.08,1830.33 L857.87,1831.90 L865.67,1833.47 L873.46,1834.72 L881.25,1835.98 L889.04,1841.00 L896.83,1846.03 L904.62,1847.28 L912.41,1842.26 L920.20,1832.84 L928.00,1823.42 L935.79,1817.14 L943.58,1810.85 L951.37,1808.34 L959.16,1805.83 L966.95,1807.09 L974.74,1818.39 L982.53,1823.42 L990.33,1825.93 L998.12,1827.19 L1005.91,1828.44 L1013.70,1829.70 L1013.70,1861.10 L1005.91,1866.13 L998.12,1867.38 L990.33,1867.38 L982.53,1866.13 L974.74,1866.13 L966.95,1825.93 L959.16,1823.42 L951.37,1828.44 L943.58,1833.47 L935.79,1841.00 L928.00,1848.54 L920.20,1859.85 L912.41,1871.15 L904.62,1876.18 L896.83,1873.67 L889.04,1871.15 L881.25,1868.64 L873.46,1867.38 L865.67,1866.13 L857.87,1864.56 L850.08,1862.99 L842.29,1861.42 L834.50,1859.85 Z" fill="#00BFC4" fill-opacity="0.4" stroke="none"/><path d="M834.50,1843.52 L842.29,1843.52 L850.08,1844.77 L857.87,1847.28 L865.67,1849.80 L873.46,1851.05 L881.25,1852.31 L889.04,1856.08 L896.83,1859.85 L904.62,1861.10 L912.41,1856.08 L920.20,1846.03 L928.00,1835.98 L935.79,1828.44 L943.58,1822.16 L951.37,1817.14 L959.16,1814.62 L966.95,1815.88 L974.74,1833.47 L982.53,1838.49 L990.33,1841.00 L998.12,1842.26 L1005.91,1842.26 L1013.70,1842.26" fill="none" stroke="#00BFC4" stroke-width="3.0" stroke-linejoin="round"/><path d="M1013.70,1817.76 L1021.49,1805.20 L1029.28,1806.46 L1037.07,1811.48 L1044.87,1815.25 L1052.66,1816.51 L1060.45,1816.51 L1068.24,1824.04 L1076.03,1832.84 L1083.82,1839.12 L1091.61,1834.09 L1099.40,1824.04 L1107.20,1814.00 L1114.99,1807.71 L1122.78,1803.95 L1130.57,1802.69 L1138.36,1798.92 L1146.15,1796.41 L1153.94,1796.41 L1161.73,1800.18 L1169.53,1806.46 L1177.32,1811.48 L1185.11,1815.25 L1192.90,1815.25 L1192.90,1844.14 L1185.11,1844.14 L1177.32,1840.38 L1169.53,1835.35 L1161.73,1829.07 L1153.94,1825.30 L1146.15,1825.30 L1138.36,1827.81 L1130.57,1831.58 L1122.78,1832.84 L1114.99,1836.61 L1107.20,1842.89 L1099.40,1852.94 L1091.61,1862.99 L1083.82,1868.01 L1076.03,1861.73 L1068.24,1852.94 L1060.45,1845.40 L1052.66,1845.40 L1044.87,1844.14 L1037.07,1840.38 L1029.28,1835.35 L1021.49,1834.09 L1013.70,1846.66 Z" fill="#00BFC4" fill-opacity="0.4" stroke="none"/><path d="M1013.70,1832.21 L1021.49,1819.65 L1029.28,1820.90 L1037.07,1825.93 L1044.87,1829.70 L1052.66,1830.95 L1060.45,1830.95 L1068.24,1838.49 L1076.03,1847.28 L1083.82,1853.57 L1091.61,1848.54 L1099.40,1838.49 L1107.20,1828.44 L1114.99,1822.16 L1122.78,1818.39 L1130.57,1817.14 L1138.36,1813.37 L1146.15,1810.85 L1153.94,1810.85 L1161.73,1814.62 L1169.53,1820.90 L1177.32,1825.93 L1185.11,1829.70 L1192.90,1829.70" fill="none" stroke="#00BFC4" stroke-width="3.0" stroke-linejoin="round"/><path d="M1192.90,1808.97 L1200.69,1807.71 L1208.48,1806.46 L1216.27,1806.46 L1224.07,1805.20 L1231.86,1807.71 L1239.65,1812.74 L1247.44,1824.04 L1255.23,1839.12 L1263.02,1851.68 L1270.81,1845.40 L1278.60,1831.58 L1286.40,1817.76 L1294.19,1808.97 L1301.98,1803.95 L1309.77,1801.43 L1317.56,1800.18 L1325.35,1798.92 L1333.14,1798.92 L1340.93,1802.69 L1348.73,1811.48 L1356.52,1819.02 L1364.31,1824.04 L1372.10,1829.07 L1372.10,1857.96 L1364.31,1852.94 L1356.52,1847.91 L1348.73,1840.38 L1340.93,1831.58 L1333.14,1827.81 L1325.35,1827.81 L1317.56,1829.07 L1309.77,1830.33 L1301.98,1832.84 L1294.19,1837.86 L1286.40,1846.66 L1278.60,1860.47 L1270.81,1874.29 L1263.02,1880.57 L1255.23,1868.01 L1247.44,1852.94 L1239.65,1841.63 L1231.86,1836.61 L1224.07,1834.09 L1216.27,1835.35 L1208.48,1835.35 L1200.69,1836.61 L1192.90,1837.86 Z" fill="#00BFC4" fill-opacity="0.4" stroke="none"/><path d="M1192.90,1823.42 L1200.69,1822.16 L1208.48,1820.90 L1216.27,1820.90 L1224.07,1819.65 L1231.86,1822.16 L1239.65,1827.19 L1247.44,1838.49 L1255.23,1853.57 L1263.02,1866.13 L1270.81,1859.85 L1278.60,1846.03 L1286.40,1832.21 L1294.19,1823.42 L1301.98,1818.39 L1309.77,1815.88 L1317.56,1814.62 L1325.35,1813.37 L1333.14,1813.37 L1340.93,1817.14 L1348.73,1825.93 L1356.52,1833.47 L1364.31,1838.49 L1372.10,1843.52" fill="none" stroke="#00BFC4" stroke-width="3.0" stroke-linejoin="round"/><path d="M117.70,1815.25 L125.49,1815.25 L133.28,1816.51 L141.07,1817.76 L148.87,1819.02 L156.66,1817.76 L164.45,1817.76 L172.24,1825.30 L180.03,1834.09 L187.82,1840.38 L195.61,1839.12 L203.40,1830.33 L211.20,1819.02 L218.99,1805.20 L226.78,1793.90 L234.57,1786.36 L242.36,1783.22 L250.15,1783.85 L257.94,1787.61 L265.73,1791.38 L273.53,1796.41 L281.32,1803.95 L289.11,1812.74 L296.90,1819.02 L296.90,1847.91 L289.11,1841.63 L281.32,1832.84 L273.53,1825.30 L265.73,1820.28 L257.94,1816.51 L250.15,1812.74 L242.36,1812.11 L234.57,1815.25 L226.78,1822.79 L218.99,1834.09 L211.20,1847.91 L203.40,1859.22 L195.61,1868.01 L187.82,1869.27 L180.03,1862.99 L172.24,1854.19 L164.45,1846.66 L156.66,1846.66 L148.87,1847.91 L141.07,1846.66 L133.28,1845.40 L125.49,1844.14 L117.70,1844.14 Z" fill="#C77CFF" fill-opacity="0.4" stroke="none"/><path d="M117.70,1829.70 L125.49,1829.70 L133.28,1830.95 L141.07,1832.21 L148.87,1833.47 L156.66,1832.21 L164.45,1832.21 L172.24,1839.75 L180.03,1848.54 L187.82,1854.82 L195.61,1853.57 L203.40,1844.77 L211.20,1833.47 L218.99,1819.65 L226.78,1808.34 L234.57,1800.80 L242.36,1797.66 L250.15,1798.29 L257.94,1802.06 L265.73,1805.83 L273.53,1810.85 L281.32,1818.39 L289.11,1827.19 L296.90,1833.47" fill="none" stroke="#C77CFF" stroke-width="3.0" stroke-linejoin="round"/><path d="M296.90,1812.74 L304.69,1812.74 L312.48,1814.00 L320.27,1817.76 L328.07,1816.51 L335.86,1816.51 L343.65,1819.02 L351.44,1820.28 L359.23,1827.81 L367.02,1842.89 L374.81,1841.63 L382.60,1827.81 L390.40,1815.25 L398.19,1803.95 L405.98,1796.41 L413.77,1792.64 L421.56,1790.13 L429.35,1788.87 L437.14,1788.87 L444.93,1792.64 L452.73,1800.18 L460.52,1806.46 L468.31,1814.00 L476.10,1819.02 L476.10,1847.91 L468.31,1842.89 L460.52,1835.35 L452.73,1829.07 L444.93,1821.53 L437.14,1817.76 L429.35,1817.76 L421.56,1819.02 L413.77,1821.53 L405.98,1825.30 L398.19,1832.84 L390.40,1844.14 L382.60,1856.71 L374.81,1870.52 L367.02,1871.78 L359.23,1856.71 L351.44,1849.17 L343.65,1847.91 L335.86,1845.40 L328.07,1845.40 L320.27,1846.66 L312.48,1842.89 L304.69,1841.63 L296.90,1841.63 Z" fill="#C77CFF" fill-opacity="0.4" stroke="none"/><path d="M296.90,1827.19 L304.69,1827.19 L312.48,1828.44 L320.27,1832.21 L328.07,1830.95 L335.86,1830.95 L343.65,1833.47 L351.44,1834.72 L359.23,1842.26 L367.02,1857.33 L374.81,1856.08 L382.60,1842.26 L390.40,1829.70 L398.19,1818.39 L405.98,1810.85 L413.77,1807.09 L421.56,1804.57 L429.35,1803.32 L437.14,1803.32 L444.93,1807.09 L452.73,1814.62 L460.52,1820.90 L468.31,1828.44 L476.10,1833.47" fill="none" stroke="#C77CFF" stroke-width="3.0" stroke-linejoin="round"/><path d="M476.10,1817.76 L483.89,1816.51 L491.68,1812.74 L499.47,1807.71 L507.27,1810.23 L515.06,1814.00 L522.85,1816.51 L530.64,1821.53 L538.43,1829.07 L546.22,1836.61 L554.01,1837.86 L561.80,1827.81 L569.60,1815.25 L577.39,1805.20 L585.18,1798.92 L592.97,1795.15 L600.76,1793.27 L608.55,1792.64 L616.34,1793.90 L624.13,1796.41 L631.93,1798.92 L639.72,1805.20 L647.51,1821.53 L655.30,1841.63 L655.30,1870.52 L647.51,1850.43 L639.72,1834.09 L631.93,1827.81 L624.13,1825.30 L616.34,1822.79 L608.55,1821.53 L600.76,1822.16 L592.97,1824.04 L585.18,1827.81 L577.39,1834.09 L569.60,1844.14 L561.80,1856.71 L554.01,1866.76 L546.22,1865.50 L538.43,1857.96 L530.64,1850.43 L522.85,1845.40 L515.06,1842.89 L507.27,1839.12 L499.47,1836.61 L491.68,1841.63 L483.89,1845.40 L476.10,1846.66 Z" fill="#C77CFF" fill-opacity="0.4" stroke="none"/><path d="M476.10,1832.21 L483.89,1830.95 L491.68,1827.19 L499.47,1822.16 L507.27,1824.67 L515.06,1828.44 L522.85,1830.95 L530.64,1835.98 L538.43,1843.52 L546.22,1851.05 L554.01,1852.31 L561.80,1842.26 L569.60,1829.70 L577.39,1819.65 L585.18,1813.37 L592.97,1809.60 L600.76,1807.71 L608.55,1807.09 L616.34,1808.34 L624.13,1810.85 L631.93,1813.37 L639.72,1819.65 L647.51,1835.98 L655.30,1856.08" fill="none" stroke="#C77CFF" stroke-width="3.0" stroke-linejoin="round"/><path d="M655.30,1833.47 L663.09,1835.98 L670.88,1838.49 L678.67,1839.75 L686.47,1838.49 L694.26,1834.72 L702.05,1830.95 L709.84,1830.95 L717.63,1830.95 L725.42,1829.70 L733.21,1828.44 L741.00,1818.39 L748.80,1808.34 L756.59,1803.32 L764.38,1798.29 L772.17,1793.27 L779.96,1793.27 L787.75,1792.01 L795.54,1790.76 L803.33,1793.90 L811.13,1797.04 L818.92,1808.97 L826.71,1820.90 L834.50,1835.98 L834.50,1861.10 L826.71,1846.03 L818.92,1832.21 L811.13,1818.39 L803.33,1814.62 L795.54,1810.85 L787.75,1814.62 L779.96,1818.39 L772.17,1823.42 L764.38,1823.42 L756.59,1830.95 L748.80,1838.49 L741.00,1849.80 L733.21,1861.10 L725.42,1862.36 L717.63,1863.62 L709.84,1862.36 L702.05,1861.10 L694.26,1866.13 L686.47,1871.15 L678.67,1876.18 L670.88,1878.69 L663.09,1878.69 L655.30,1877.43 Z" fill="#C77CFF" fill-opacity="0.4" stroke="none"/><path d="M655.30,1854.82 L663.09,1856.08 L670.88,1857.33 L678.67,1857.33 L686.47,1853.57 L694.26,1848.54 L702.05,1844.77 L709.84,1844.77 L717.63,1847.28 L725.42,1851.05 L733.21,1846.03 L741.00,1833.47 L748.80,1823.42 L756.59,1815.88 L764.38,1810.85 L772.17,1808.34 L779.96,1804.57 L787.75,1801.43 L795.54,1799.55 L803.33,1800.80 L811.13,1807.09 L818.92,1814.62 L826.71,1833.47 L834.50,1848.54" fill="none" stroke="#C77CFF" stroke-width="3.0" stroke-linejoin="round"/><path d="M834.50,1840.38 L842.29,1839.12 L850.08,1836.61 L857.87,1835.35 L865.67,1832.84 L873.46,1839.12 L881.25,1844.14 L889.04,1849.17 L896.83,1856.71 L904.62,1860.47 L912.41,1849.17 L920.20,1830.33 L928.00,1817.76 L935.79,1807.71 L943.58,1798.92 L951.37,1788.87 L959.16,1783.85 L966.95,1786.36 L974.74,1790.13 L982.53,1793.90 L990.33,1808.97 L998.12,1824.04 L1005.91,1836.61 L1013.70,1845.40 L1013.70,1874.29 L1005.91,1865.50 L998.12,1852.94 L990.33,1837.86 L982.53,1822.79 L974.74,1819.02 L966.95,1815.25 L959.16,1812.74 L951.37,1817.76 L943.58,1827.81 L935.79,1836.61 L928.00,1846.66 L920.20,1859.22 L912.41,1878.06 L904.62,1889.37 L896.83,1885.60 L889.04,1878.06 L881.25,1873.04 L873.46,1868.01 L865.67,1861.73 L857.87,1864.24 L850.08,1865.50 L842.29,1868.01 L834.50,1869.27 Z" fill="#C77CFF" fill-opacity="0.4" stroke="none"/><path d="M834.50,1854.82 L842.29,1853.57 L850.08,1851.05 L857.87,1849.80 L865.67,1847.28 L873.46,1853.57 L881.25,1858.59 L889.04,1863.62 L896.83,1871.15 L904.62,1874.92 L912.41,1863.62 L920.20,1844.77 L928.00,1832.21 L935.79,1822.16 L943.58,1813.37 L951.37,1803.32 L959.16,1798.29 L966.95,1800.80 L974.74,1804.57 L982.53,1808.34 L990.33,1823.42 L998.12,1838.49 L1005.91,1851.05 L1013.70,1859.85" fill="none" stroke="#C77CFF" stroke-width="3.0" stroke-linejoin="round"/><path d="M1013.70,1856.71 L1021.49,1857.96 L1029.28,1861.73 L1037.07,1849.17 L1044.87,1835.35 L1052.66,1839.12 L1060.45,1839.12 L1068.24,1849.17 L1076.03,1862.99 L1083.82,1864.87 L1091.61,1861.73 L1099.40,1845.40 L1107.20,1827.81 L1114.99,1812.74 L1122.78,1800.18 L1130.57,1790.13 L1138.36,1787.61 L1146.15,1787.61 L1153.94,1787.61 L1161.73,1790.13 L1169.53,1803.95 L1177.32,1812.74 L1185.11,1824.04 L1192.90,1824.04 L1192.90,1852.94 L1185.11,1852.94 L1177.32,1841.63 L1169.53,1832.84 L1161.73,1819.02 L1153.94,1816.51 L1146.15,1816.51 L1138.36,1816.51 L1130.57,1819.02 L1122.78,1829.07 L1114.99,1841.63 L1107.20,1856.71 L1099.40,1874.29 L1091.61,1890.62 L1083.82,1893.76 L1076.03,1891.88 L1068.24,1878.06 L1060.45,1868.01 L1052.66,1868.01 L1044.87,1864.24 L1037.07,1878.06 L1029.28,1890.62 L1021.49,1886.86 L1013.70,1885.60 Z" fill="#C77CFF" fill-opacity="0.4" stroke="none"/><path d="M1013.70,1871.15 L1021.49,1872.41 L1029.28,1876.18 L1037.07,1863.62 L1044.87,1849.80 L1052.66,1853.57 L1060.45,1853.57 L1068.24,1863.62 L1076.03,1877.43 L1083.82,1879.32 L1091.61,1876.18 L1099.40,1859.85 L1107.20,1842.26 L1114.99,1827.19 L1122.78,1814.62 L1130.57,1804.57 L1138.36,1802.06 L1146.15,1802.06 L1153.94,1802.06 L1161.73,1804.57 L1169.53,1818.39 L1177.32,1827.19 L1185.11,1838.49 L1192.90,1838.49" fill="none" stroke="#C77CFF" stroke-width="3.0" stroke-linejoin="round"/><path d="M1192.90,1820.90 L1200.69,1827.19 L1208.48,1830.95 L1216.27,1833.47 L1224.07,1830.95 L1231.86,1820.90 L1239.65,1817.14 L1247.44,1825.93 L1255.23,1834.72 L1263.02,1835.35 L1270.81,1835.98 L1278.60,1829.07 L1286.40,1822.16 L1294.19,1815.88 L1298.08,1798.29 L1301.98,1760.61 L1309.77,1760.61 L1317.56,1760.61 L1321.46,1793.27 L1325.35,1795.36 L1333.14,1799.55 L1340.93,1803.32 L1348.73,1807.09 L1356.52,1812.11 L1364.31,1817.14 L1372.10,1818.39 L1372.10,1839.75 L1364.31,1838.49 L1356.52,1832.84 L1348.73,1827.19 L1340.93,1822.79 L1333.14,1818.39 L1325.35,1817.55 L1321.46,1817.14 L1317.56,1798.29 L1309.77,1798.29 L1301.98,1798.29 L1298.08,1825.93 L1294.19,1838.49 L1286.40,1844.77 L1278.60,1852.94 L1270.81,1861.10 L1263.02,1859.85 L1255.23,1858.59 L1247.44,1847.28 L1239.65,1835.98 L1231.86,1838.49 L1224.07,1851.05 L1216.27,1861.10 L1208.48,1861.10 L1200.69,1856.08 L1192.90,1843.52 Z" fill="#C77CFF" fill-opacity="0.4" stroke="none"/><path d="M1192.90,1832.21 L1200.69,1833.47 L1208.48,1834.09 L1216.27,1833.47 L1224.07,1830.95 L1231.86,1827.19 L1239.65,1825.93 L1247.44,1835.98 L1255.23,1846.03 L1263.02,1853.57 L1270.81,1848.54 L1278.60,1841.00 L1286.40,1833.47 L1294.19,1827.19 L1298.08,1810.85 L1301.98,1778.19 L1309.77,1774.42 L1317.56,1778.19 L1321.46,1804.57 L1325.35,1805.83 L1333.14,1808.34 L1340.93,1810.85 L1348.73,1817.14 L1356.52,1823.42 L1364.31,1827.19 L1372.10,1828.44" fill="none" stroke="#C77CFF" stroke-width="3.0" stroke-linejoin="round"/></svg><text transform="translate(181.61,1777.00) scale(0.9765,1)" font-size="14.07" font-weight="bold" fill="#000" >Monday</text><text transform="translate(362.27,1777.00) scale(0.9286,1)" font-size="14.07" font-weight="bold" fill="#000" >Tuesday</text><text transform="translate(525.30,1777.00) scale(0.9413,1)" font-size="14.07" font-weight="bold" fill="#000" >Wednesday</text><text transform="translate(704.97,1777.00) scale(0.9176,1)" font-size="14.07" font-weight="bold" fill="#000" >Thursday</text><text transform="translate(901.76,1777.00) scale(0.9194,1)" font-size="14.07" font-weight="bold" fill="#000" >Friday</text><text transform="translate(1067.10,1777.00) scale(0.9410,1)" font-size="14.07" font-weight="bold" fill="#000" >Saturday</text><text transform="translate(1244.41,1777.00) scale(0.9245,1)" font-size="14.07" font-weight="bold" fill="#000" >Sunday</text><line x1="111.00" y1="1761.80" x2="1372.10" y2="1761.80" stroke="#000" stroke-width="2.0"/><rect x="117.70" y="1762.80" width="52.30" height="2.0" fill="#3a3a3a"/><rect x="245.00" y="1762.80" width="106.00" height="2.0" fill="#3a3a3a"/><rect x="426.00" y="1762.80" width="107.00" height="2.0" fill="#3a3a3a"/><rect x="591.00" y="1762.80" width="114.00" height="2.0" fill="#3a3a3a"/><rect x="763.00" y="1762.80" width="132.00" height="2.0" fill="#3a3a3a"/><rect x="948.00" y="1762.80" width="112.00" height="2.0" fill="#3a3a3a"/><rect x="1130.00" y="1762.80" width="108.00" height="2.0" fill="#3a3a3a"/><rect x="1300.00" y="1762.80" width="45.00" height="2.0" fill="#3a3a3a"/><line x1="117.70" y1="1786.80" x2="1372.10" y2="1786.80" stroke="#1a1a1a" stroke-width="4.0"/><line x1="107.00" y1="1788.30" x2="117.70" y2="1788.30" stroke="#000" stroke-width="2.0"/><line x1="1372.10" y1="1788.30" x2="1383.60" y2="1788.30" stroke="#000" stroke-width="2.0"/><line x1="107.00" y1="1883.40" x2="1383.60" y2="1883.40" stroke="#000" stroke-width="2.2"/><line x1="107.00" y1="1867.38" x2="117.70" y2="1867.38" stroke="#000" stroke-width="2.0"/><line x1="1372.10" y1="1867.38" x2="1383.60" y2="1867.38" stroke="#000" stroke-width="2.0"/><line x1="107.00" y1="1851.37" x2="117.70" y2="1851.37" stroke="#000" stroke-width="2.0"/><line x1="1372.10" y1="1851.37" x2="1383.60" y2="1851.37" stroke="#000" stroke-width="2.0"/><line x1="107.00" y1="1835.35" x2="117.70" y2="1835.35" stroke="#000" stroke-width="2.0"/><line x1="1372.10" y1="1835.35" x2="1383.60" y2="1835.35" stroke="#000" stroke-width="2.0"/><line x1="107.00" y1="1819.33" x2="117.70" y2="1819.33" stroke="#000" stroke-width="2.0"/><line x1="1372.10" y1="1819.33" x2="1383.60" y2="1819.33" stroke="#000" stroke-width="2.0"/><line x1="107.00" y1="1803.32" x2="117.70" y2="1803.32" stroke="#000" stroke-width="2.0"/><line x1="1372.10" y1="1803.32" x2="1383.60" y2="1803.32" stroke="#000" stroke-width="2.0"/><line x1="117.70" y1="1750.80" x2="117.70" y2="1896.60" stroke="#000" stroke-width="2.0"/><line x1="296.90" y1="1750.80" x2="296.90" y2="1896.60" stroke="#000" stroke-width="2.0"/><line x1="476.10" y1="1750.80" x2="476.10" y2="1896.60" stroke="#000" stroke-width="2.0"/><line x1="655.30" y1="1750.80" x2="655.30" y2="1896.60" stroke="#000" stroke-width="2.0"/><line x1="834.50" y1="1750.80" x2="834.50" y2="1896.60" stroke="#000" stroke-width="2.0"/><line x1="1013.70" y1="1750.80" x2="1013.70" y2="1896.60" stroke="#000" stroke-width="2.0"/><line x1="1192.90" y1="1750.80" x2="1192.90" y2="1896.60" stroke="#000" stroke-width="2.0"/><line x1="1372.10" y1="1750.80" x2="1372.10" y2="1896.60" stroke="#000" stroke-width="2.0"/><line x1="164.45" y1="1750.80" x2="164.45" y2="1761.80" stroke="#000" stroke-width="2.0"/><line x1="164.45" y1="1883.40" x2="164.45" y2="1896.60" stroke="#000" stroke-width="2.0"/><line x1="211.20" y1="1750.80" x2="211.20" y2="1756.80" stroke="#000" stroke-width="2.0"/><line x1="211.20" y1="1883.40" x2="211.20" y2="1896.60" stroke="#000" stroke-width="2.0"/><line x1="257.94" y1="1750.80" x2="257.94" y2="1761.80" stroke="#000" stroke-width="2.0"/><line x1="257.94" y1="1883.40" x2="257.94" y2="1896.60" stroke="#000" stroke-width="2.0"/><line x1="343.65" y1="1750.80" x2="343.65" y2="1761.80" stroke="#000" stroke-width="2.0"/><line x1="343.65" y1="1883.40" x2="343.65" y2="1896.60" stroke="#000" stroke-width="2.0"/><line x1="390.40" y1="1750.80" x2="390.40" y2="1756.80" stroke="#000" stroke-width="2.0"/><line x1="390.40" y1="1883.40" x2="390.40" y2="1896.60" stroke="#000" stroke-width="2.0"/><line x1="437.14" y1="1750.80" x2="437.14" y2="1761.80" stroke="#000" stroke-width="2.0"/><line x1="437.14" y1="1883.40" x2="437.14" y2="1896.60" stroke="#000" stroke-width="2.0"/><line x1="522.85" y1="1750.80" x2="522.85" y2="1756.80" stroke="#000" stroke-width="2.0"/><line x1="522.85" y1="1883.40" x2="522.85" y2="1896.60" stroke="#000" stroke-width="2.0"/><line x1="569.60" y1="1750.80" x2="569.60" y2="1756.80" stroke="#000" stroke-width="2.0"/><line x1="569.60" y1="1883.40" x2="569.60" y2="1896.60" stroke="#000" stroke-width="2.0"/><line x1="616.34" y1="1750.80" x2="616.34" y2="1761.80" stroke="#000" stroke-width="2.0"/><line x1="616.34" y1="1883.40" x2="616.34" y2="1896.60" stroke="#000" stroke-width="2.0"/><line x1="702.05" y1="1750.80" x2="702.05" y2="1756.80" stroke="#000" stroke-width="2.0"/><line x1="702.05" y1="1883.40" x2="702.05" y2="1896.60" stroke="#000" stroke-width="2.0"/><line x1="748.80" y1="1750.80" x2="748.80" y2="1756.80" stroke="#000" stroke-width="2.0"/><line x1="748.80" y1="1883.40" x2="748.80" y2="1896.60" stroke="#000" stroke-width="2.0"/><line x1="795.54" y1="1750.80" x2="795.54" y2="1761.80" stroke="#000" stroke-width="2.0"/><line x1="795.54" y1="1883.40" x2="795.54" y2="1896.60" stroke="#000" stroke-width="2.0"/><line x1="881.25" y1="1750.80" x2="881.25" y2="1761.80" stroke="#000" stroke-width="2.0"/><line x1="881.25" y1="1883.40" x2="881.25" y2="1896.60" stroke="#000" stroke-width="2.0"/><line x1="928.00" y1="1750.80" x2="928.00" y2="1756.80" stroke="#000" stroke-width="2.0"/><line x1="928.00" y1="1883.40" x2="928.00" y2="1896.60" stroke="#000" stroke-width="2.0"/><line x1="974.74" y1="1750.80" x2="974.74" y2="1761.80" stroke="#000" stroke-width="2.0"/><line x1="974.74" y1="1883.40" x2="974.74" y2="1896.60" stroke="#000" stroke-width="2.0"/><line x1="1060.45" y1="1750.80" x2="1060.45" y2="1756.80" stroke="#000" stroke-width="2.0"/><line x1="1060.45" y1="1883.40" x2="1060.45" y2="1896.60" stroke="#000" stroke-width="2.0"/><line x1="1107.20" y1="1750.80" x2="1107.20" y2="1756.80" stroke="#000" stroke-width="2.0"/><line x1="1107.20" y1="1883.40" x2="1107.20" y2="1896.60" stroke="#000" stroke-width="2.0"/><line x1="1153.94" y1="1750.80" x2="1153.94" y2="1761.80" stroke="#000" stroke-width="2.0"/><line x1="1153.94" y1="1883.40" x2="1153.94" y2="1896.60" stroke="#000" stroke-width="2.0"/><line x1="1239.65" y1="1750.80" x2="1239.65" y2="1756.80" stroke="#000" stroke-width="2.0"/><line x1="1239.65" y1="1883.40" x2="1239.65" y2="1896.60" stroke="#000" stroke-width="2.0"/><line x1="1286.40" y1="1750.80" x2="1286.40" y2="1756.80" stroke="#000" stroke-width="2.0"/><line x1="1286.40" y1="1883.40" x2="1286.40" y2="1896.60" stroke="#000" stroke-width="2.0"/><line x1="1333.14" y1="1750.80" x2="1333.14" y2="1761.80" stroke="#000" stroke-width="2.0"/><line x1="1333.14" y1="1883.40" x2="1333.14" y2="1896.60" stroke="#000" stroke-width="2.0"/><text transform="translate(290.47,1740.00) scale(0.8000,1)" font-size="22.90" font-weight="normal" fill="#000">0</text><text transform="translate(337.17,1740.00) scale(0.8000,1)" font-size="22.90" font-weight="normal" fill="#000">6</text><text transform="translate(378.70,1740.00) scale(0.8000,1)" font-size="22.90" font-weight="normal" fill="#000">12</text><text transform="translate(425.36,1740.00) scale(0.8000,1)" font-size="22.90" font-weight="normal" fill="#000">18</text><text transform="translate(464.54,1740.00) scale(0.8000,1)" font-size="22.90" font-weight="normal" fill="#000">23</text><text transform="translate(648.87,1740.00) scale(0.8000,1)" font-size="22.90" font-weight="normal" fill="#000">0</text><text transform="translate(695.57,1740.00) scale(0.8000,1)" font-size="22.90" font-weight="normal" fill="#000">6</text><text transform="translate(737.10,1740.00) scale(0.8000,1)" font-size="22.90" font-weight="normal" fill="#000">12</text><text transform="translate(783.76,1740.00) scale(0.8000,1)" font-size="22.90" font-weight="normal" fill="#000">18</text><text transform="translate(822.94,1740.00) scale(0.8000,1)" font-size="22.90" font-weight="normal" fill="#000">23</text><text transform="translate(1007.27,1740.00) scale(0.8000,1)" font-size="22.90" font-weight="normal" fill="#000">0</text><text transform="translate(1053.97,1740.00) scale(0.8000,1)" font-size="22.90" font-weight="normal" fill="#000">6</text><text transform="translate(1095.50,1740.00) scale(0.8000,1)" font-size="22.90" font-weight="normal" fill="#000">12</text><text transform="translate(1142.16,1740.00) scale(0.8000,1)" font-size="22.90" font-weight="normal" fill="#000">18</text><text transform="translate(1181.34,1740.00) scale(0.8000,1)" font-size="22.90" font-weight="normal" fill="#000">23</text><text transform="translate(111.27,1926.00) scale(0.8000,1)" font-size="22.90" font-weight="normal" fill="#000">0</text><text transform="translate(157.97,1926.00) scale(0.8000,1)" font-size="22.90" font-weight="normal" fill="#000">6</text><text transform="translate(199.50,1926.00) scale(0.8000,1)" font-size="22.90" font-weight="normal" fill="#000">12</text><text transform="translate(246.16,1926.00) scale(0.8000,1)" font-size="22.90" font-weight="normal" fill="#000">18</text><text transform="translate(285.34,1926.00) scale(0.8000,1)" font-size="22.90" font-weight="normal" fill="#000">23</text><text transform="translate(469.67,1926.00) scale(0.8000,1)" font-size="22.90" font-weight="normal" fill="#000">0</text><text transform="translate(516.37,1926.00) scale(0.8000,1)" font-size="22.90" font-weight="normal" fill="#000">6</text><text transform="translate(557.90,1926.00) scale(0.8000,1)" font-size="22.90" font-weight="normal" fill="#000">12</text><text transform="translate(604.56,1926.00) scale(0.8000,1)" font-size="22.90" font-weight="normal" fill="#000">18</text><text transform="translate(643.74,1926.00) scale(0.8000,1)" font-size="22.90" font-weight="normal" fill="#000">23</text><text transform="translate(828.07,1926.00) scale(0.8000,1)" font-size="22.90" font-weight="normal" fill="#000">0</text><text transform="translate(874.77,1926.00) scale(0.8000,1)" font-size="22.90" font-weight="normal" fill="#000">6</text><text transform="translate(916.30,1926.00) scale(0.8000,1)" font-size="22.90" font-weight="normal" fill="#000">12</text><text transform="translate(962.96,1926.00) scale(0.8000,1)" font-size="22.90" font-weight="normal" fill="#000">18</text><text transform="translate(1002.14,1926.00) scale(0.8000,1)" font-size="22.90" font-weight="normal" fill="#000">23</text><text transform="translate(1186.47,1926.00) scale(0.8000,1)" font-size="22.90" font-weight="normal" fill="#000">0</text><text transform="translate(1233.17,1926.00) scale(0.8000,1)" font-size="22.90" font-weight="normal" fill="#000">6</text><text transform="translate(1274.70,1926.00) scale(0.8000,1)" font-size="22.90" font-weight="normal" fill="#000">12</text><text transform="translate(1321.36,1926.00) scale(0.8000,1)" font-size="22.90" font-weight="normal" fill="#000">18</text><text transform="translate(1360.54,1926.00) scale(0.8000,1)" font-size="22.90" font-weight="normal" fill="#000">23</text><text transform="translate(73.71,1877.88) scale(0.8000,1)" font-size="22.90" font-weight="normal" fill="#000">20</text><text transform="translate(73.71,1845.85) scale(0.8000,1)" font-size="22.90" font-weight="normal" fill="#000">60</text><text transform="translate(63.54,1813.82) scale(0.8000,1)" font-size="22.90" font-weight="normal" fill="#000">100</text><g transform="translate(36.70,1897.00) rotate(-90) scale(0.9750)"><text transform="translate(-1.26,0.00) scale(1.0062,1)" font-size="27.86" font-weight="normal" fill="#000" >O</text><text transform="translate(19.15,4.50) scale(0.9788,1)" font-size="19.14" font-weight="normal" fill="#000" >3</text><text transform="translate(31.71,-0.64) scale(0.8973,1)" font-size="23.40" font-weight="normal" fill="#000">,</text><text transform="translate(43.29,0.00) scale(1.0049,1)" font-size="27.10" font-weight="normal" fill="#000" >µg</text><text transform="translate(79.62,0.00) scale(0.9988,1)" font-size="27.41" font-weight="normal" fill="#000" >m</text><line x1="102.2" y1="-19.7" x2="111.0" y2="-19.7" stroke="#000" stroke-width="1.7"/><text transform="translate(110.27,-13.60) scale(0.9358,1)" font-size="19.57" font-weight="normal" fill="#000" >3</text></g><text transform="translate(720.38,1973.70) scale(0.8645,1)" font-size="26.76" font-weight="normal" fill="#000" >hour</text><rect x="291.70" y="2002.40" width="67.40" height="31.70" fill="#F8766D"/><text transform="translate(380.34,2025.70) scale(0.8475,1)" font-size="22.43" font-weight="normal" fill="#000" >O3_2020</text><rect x="480.20" y="2002.40" width="66.80" height="31.70" fill="#7CAE00"/><text transform="translate(579.75,2027.00) scale(0.9053,1)" font-size="20.86" font-weight="normal" fill="#000" >O3_2019</text><rect x="741.50" y="2002.40" width="66.90" height="31.70" fill="#00BFC4"/><text transform="translate(828.44,2028.00) scale(0.9025,1)" font-size="21.14" font-weight="normal" fill="#000" >O3_2018</text><rect x="1002.50" y="2002.40" width="67.00" height="31.70" fill="#C77CFF"/><text transform="translate(1088.46,2024.80) scale(0.8718,1)" font-size="21.29" font-weight="normal" fill="#000" >O3_2017</text><line x1="194.72" y1="2112.60" x2="194.72" y2="2338.70" stroke="#e3e3e3" stroke-width="1.3"/><line x1="271.44" y1="2112.60" x2="271.44" y2="2338.70" stroke="#e3e3e3" stroke-width="1.3"/><line x1="348.17" y1="2112.60" x2="348.17" y2="2338.70" stroke="#e3e3e3" stroke-width="1.3"/><line x1="118.00" y1="2301.02" x2="412.10" y2="2301.02" stroke="#e3e3e3" stroke-width="1.3"/><line x1="118.00" y1="2263.33" x2="412.10" y2="2263.33" stroke="#e3e3e3" stroke-width="1.3"/><line x1="118.00" y1="2225.65" x2="412.10" y2="2225.65" stroke="#e3e3e3" stroke-width="1.3"/><line x1="118.00" y1="2187.97" x2="412.10" y2="2187.97" stroke="#e3e3e3" stroke-width="1.3"/><line x1="118.00" y1="2150.28" x2="412.10" y2="2150.28" stroke="#e3e3e3" stroke-width="1.3"/><svg x="118.0" y="2112.6" width="294.1" height="226.0999999999999" viewBox="118.0 2112.6 294.1 226.0999999999999" overflow="hidden"><path d="M118.00,2228.29 L130.79,2227.16 L143.57,2225.08 L156.36,2224.14 L169.15,2225.08 L181.93,2228.29 L194.72,2230.36 L207.51,2245.25 L220.30,2255.80 L233.08,2264.46 L245.87,2249.58 L258.66,2226.22 L271.44,2204.92 L284.23,2190.04 L297.02,2181.56 L309.80,2175.15 L322.59,2173.08 L335.38,2175.15 L348.17,2179.49 L360.95,2183.63 L373.74,2192.30 L386.53,2202.85 L399.31,2213.40 L412.10,2218.68 L412.10,2233.75 L399.31,2228.48 L386.53,2217.92 L373.74,2207.37 L360.95,2198.71 L348.17,2194.56 L335.38,2190.23 L322.59,2188.16 L309.80,2190.23 L297.02,2196.63 L284.23,2205.11 L271.44,2220.00 L258.66,2241.29 L245.87,2264.65 L233.08,2279.54 L220.30,2270.87 L207.51,2260.32 L194.72,2245.43 L181.93,2243.36 L169.15,2240.16 L156.36,2239.22 L143.57,2240.16 L130.79,2242.23 L118.00,2243.36 Z" fill="#F8766D" fill-opacity="0.4" stroke="none"/><path d="M118.00,2235.82 L130.79,2234.69 L143.57,2232.62 L156.36,2231.68 L169.15,2232.62 L181.93,2235.82 L194.72,2237.90 L207.51,2252.78 L220.30,2263.33 L233.08,2272.00 L245.87,2257.12 L258.66,2233.75 L271.44,2212.46 L284.23,2197.58 L297.02,2189.10 L309.80,2182.69 L322.59,2180.62 L335.38,2182.69 L348.17,2187.02 L360.95,2191.17 L373.74,2199.84 L386.53,2210.39 L399.31,2220.94 L412.10,2226.22" fill="none" stroke="#F8766D" stroke-width="3.0" stroke-linejoin="round"/><path d="M118.00,2199.27 L130.79,2195.50 L143.57,2191.36 L156.36,2187.21 L169.15,2190.42 L181.93,2190.42 L194.72,2200.97 L207.51,2213.78 L220.30,2236.95 L233.08,2252.97 L245.87,2239.22 L258.66,2220.00 L271.44,2196.63 L284.23,2175.53 L297.02,2160.65 L309.80,2146.89 L322.59,2137.28 L335.38,2135.21 L348.17,2135.21 L360.95,2138.22 L373.74,2147.83 L386.53,2162.72 L399.31,2192.49 L412.10,2207.37 L412.10,2226.22 L399.31,2211.33 L386.53,2181.56 L373.74,2166.68 L360.95,2157.07 L348.17,2154.05 L335.38,2154.05 L322.59,2156.12 L309.80,2165.73 L297.02,2179.49 L284.23,2194.37 L271.44,2215.48 L258.66,2238.84 L245.87,2258.06 L233.08,2271.81 L220.30,2255.80 L207.51,2232.62 L194.72,2219.81 L181.93,2209.26 L169.15,2209.26 L156.36,2206.05 L143.57,2210.20 L130.79,2214.34 L118.00,2218.11 Z" fill="#7CAE00" fill-opacity="0.4" stroke="none"/><path d="M118.00,2208.69 L130.79,2204.92 L143.57,2200.78 L156.36,2196.63 L169.15,2199.84 L181.93,2199.84 L194.72,2210.39 L207.51,2223.20 L220.30,2246.38 L233.08,2262.39 L245.87,2248.64 L258.66,2229.42 L271.44,2206.05 L284.23,2184.95 L297.02,2170.07 L309.80,2156.31 L322.59,2146.70 L335.38,2144.63 L348.17,2144.63 L360.95,2147.65 L373.74,2157.25 L386.53,2172.14 L399.31,2201.91 L412.10,2216.79" fill="none" stroke="#7CAE00" stroke-width="3.0" stroke-linejoin="round"/><path d="M118.00,2226.59 L130.79,2222.45 L143.57,2218.11 L156.36,2213.97 L169.15,2211.90 L181.93,2213.97 L194.72,2221.32 L207.51,2235.07 L220.30,2252.03 L233.08,2267.10 L245.87,2247.88 L258.66,2224.52 L271.44,2203.23 L284.23,2188.53 L297.02,2177.79 L309.80,2170.44 L322.59,2167.24 L335.38,2167.24 L348.17,2172.52 L360.95,2179.86 L373.74,2188.53 L386.53,2205.49 L399.31,2224.52 L412.10,2237.33 L412.10,2259.94 L399.31,2247.13 L386.53,2228.10 L373.74,2211.14 L360.95,2202.47 L348.17,2195.13 L335.38,2189.85 L322.59,2189.85 L309.80,2193.05 L297.02,2200.40 L284.23,2211.14 L271.44,2225.84 L258.66,2247.13 L245.87,2270.49 L233.08,2289.71 L220.30,2274.64 L207.51,2257.68 L194.72,2243.93 L181.93,2236.58 L169.15,2234.51 L156.36,2236.58 L143.57,2240.72 L130.79,2245.06 L118.00,2249.20 Z" fill="#00BFC4" fill-opacity="0.4" stroke="none"/><path d="M118.00,2237.90 L130.79,2233.75 L143.57,2229.42 L156.36,2225.27 L169.15,2223.20 L181.93,2225.27 L194.72,2232.62 L207.51,2246.38 L220.30,2263.33 L233.08,2278.41 L245.87,2259.19 L258.66,2235.82 L271.44,2214.53 L284.23,2199.84 L297.02,2189.10 L309.80,2181.75 L322.59,2178.55 L335.38,2178.55 L348.17,2183.82 L360.95,2191.17 L373.74,2199.84 L386.53,2216.79 L399.31,2235.82 L412.10,2248.64" fill="none" stroke="#00BFC4" stroke-width="3.0" stroke-linejoin="round"/><path d="M118.00,2225.27 L130.79,2225.27 L143.57,2220.94 L156.36,2217.74 L169.15,2217.74 L181.93,2220.75 L194.72,2223.77 L207.51,2243.55 L220.30,2260.70 L233.08,2271.25 L245.87,2252.22 L258.66,2228.48 L271.44,2198.89 L284.23,2169.50 L297.02,2141.05 L309.80,2120.70 L322.59,2119.76 L335.38,2135.59 L348.17,2138.60 L360.95,2143.88 L373.74,2156.69 L386.53,2175.72 L399.31,2218.11 L412.10,2235.07 L412.10,2257.68 L399.31,2240.72 L386.53,2198.33 L373.74,2179.30 L360.95,2166.49 L348.17,2161.21 L335.38,2161.97 L322.59,2164.98 L309.80,2181.00 L297.02,2186.27 L284.23,2195.88 L271.44,2217.74 L258.66,2247.32 L245.87,2274.83 L233.08,2293.86 L220.30,2283.31 L207.51,2266.16 L194.72,2250.14 L181.93,2250.90 L169.15,2251.65 L156.36,2251.65 L143.57,2254.85 L130.79,2259.19 L118.00,2259.19 Z" fill="#C77CFF" fill-opacity="0.4" stroke="none"/><path d="M118.00,2242.23 L130.79,2242.23 L143.57,2237.90 L156.36,2234.69 L169.15,2234.69 L181.93,2235.82 L194.72,2236.95 L207.51,2254.85 L220.30,2272.00 L233.08,2282.55 L245.87,2263.52 L258.66,2237.90 L271.44,2208.32 L284.23,2182.69 L297.02,2163.66 L309.80,2150.85 L322.59,2142.37 L335.38,2148.78 L348.17,2149.91 L360.95,2155.18 L373.74,2167.99 L386.53,2187.02 L399.31,2229.42 L412.10,2246.38" fill="none" stroke="#C77CFF" stroke-width="3.0" stroke-linejoin="round"/></svg><line x1="107.10" y1="2112.60" x2="423.00" y2="2112.60" stroke="#000" stroke-width="2.0"/><line x1="107.10" y1="2338.70" x2="423.00" y2="2338.70" stroke="#000" stroke-width="2.0"/><line x1="118.00" y1="2100.20" x2="118.00" y2="2350.20" stroke="#000" stroke-width="2.0"/><line x1="412.10" y1="2100.20" x2="412.10" y2="2350.20" stroke="#000" stroke-width="2.0"/><line x1="118.00" y1="2100.20" x2="118.00" y2="2112.60" stroke="#000" stroke-width="2.0"/><line x1="118.00" y1="2338.70" x2="118.00" y2="2350.20" stroke="#000" stroke-width="2.0"/><line x1="194.72" y1="2100.20" x2="194.72" y2="2112.60" stroke="#000" stroke-width="2.0"/><line x1="194.72" y1="2338.70" x2="194.72" y2="2350.20" stroke="#000" stroke-width="2.0"/><line x1="271.44" y1="2100.20" x2="271.44" y2="2112.60" stroke="#000" stroke-width="2.0"/><line x1="271.44" y1="2338.70" x2="271.44" y2="2350.20" stroke="#000" stroke-width="2.0"/><line x1="348.17" y1="2100.20" x2="348.17" y2="2112.60" stroke="#000" stroke-width="2.0"/><line x1="348.17" y1="2338.70" x2="348.17" y2="2350.20" stroke="#000" stroke-width="2.0"/><line x1="412.10" y1="2100.20" x2="412.10" y2="2112.60" stroke="#000" stroke-width="2.0"/><line x1="412.10" y1="2338.70" x2="412.10" y2="2350.20" stroke="#000" stroke-width="2.0"/><line x1="107.10" y1="2301.02" x2="118.00" y2="2301.02" stroke="#000" stroke-width="2.0"/><line x1="412.10" y1="2301.02" x2="423.00" y2="2301.02" stroke="#000" stroke-width="2.0"/><line x1="107.10" y1="2263.33" x2="118.00" y2="2263.33" stroke="#000" stroke-width="2.0"/><line x1="412.10" y1="2263.33" x2="423.00" y2="2263.33" stroke="#000" stroke-width="2.0"/><line x1="107.10" y1="2225.65" x2="118.00" y2="2225.65" stroke="#000" stroke-width="2.0"/><line x1="412.10" y1="2225.65" x2="423.00" y2="2225.65" stroke="#000" stroke-width="2.0"/><line x1="107.10" y1="2187.97" x2="118.00" y2="2187.97" stroke="#000" stroke-width="2.0"/><line x1="412.10" y1="2187.97" x2="423.00" y2="2187.97" stroke="#000" stroke-width="2.0"/><line x1="107.10" y1="2150.28" x2="118.00" y2="2150.28" stroke="#000" stroke-width="2.0"/><line x1="412.10" y1="2150.28" x2="423.00" y2="2150.28" stroke="#000" stroke-width="2.0"/><text transform="translate(111.87,2383.00) scale(0.8000,1)" font-size="22.90" font-weight="normal" fill="#000">0</text><text transform="translate(188.55,2383.00) scale(0.8000,1)" font-size="22.90" font-weight="normal" fill="#000">6</text><text transform="translate(260.05,2383.00) scale(0.8000,1)" font-size="22.90" font-weight="normal" fill="#000">12</text><text transform="translate(336.68,2383.00) scale(0.8000,1)" font-size="22.90" font-weight="normal" fill="#000">18</text><text transform="translate(400.84,2383.00) scale(0.8000,1)" font-size="22.90" font-weight="normal" fill="#000">23</text><text transform="translate(73.51,2311.62) scale(0.8000,1)" font-size="22.90" font-weight="normal" fill="#000">20</text><text transform="translate(73.51,2273.93) scale(0.8000,1)" font-size="22.90" font-weight="normal" fill="#000">40</text><text transform="translate(73.51,2236.25) scale(0.8000,1)" font-size="22.90" font-weight="normal" fill="#000">60</text><text transform="translate(73.51,2198.57) scale(0.8000,1)" font-size="22.90" font-weight="normal" fill="#000">80</text><text transform="translate(63.34,2160.88) scale(0.8000,1)" font-size="22.90" font-weight="normal" fill="#000">100</text><g transform="translate(36.70,2286.40) rotate(-90) scale(0.9720)"><text transform="translate(-1.26,0.00) scale(1.0062,1)" font-size="27.86" font-weight="normal" fill="#000" >O</text><text transform="translate(19.15,4.50) scale(0.9788,1)" font-size="19.14" font-weight="normal" fill="#000" >3</text><text transform="translate(31.71,-0.64) scale(0.8973,1)" font-size="23.40" font-weight="normal" fill="#000">,</text><text transform="translate(43.29,0.00) scale(1.0049,1)" font-size="27.10" font-weight="normal" fill="#000" >µg</text><text transform="translate(79.62,0.00) scale(0.9988,1)" font-size="27.41" font-weight="normal" fill="#000" >m</text><line x1="102.2" y1="-19.7" x2="111.0" y2="-19.7" stroke="#000" stroke-width="1.7"/><text transform="translate(110.27,-13.60) scale(0.9358,1)" font-size="19.57" font-weight="normal" fill="#000" >3</text></g><text transform="translate(240.01,2429.40) scale(0.8807,1)" font-size="25.79" font-weight="normal" fill="#000" >hour</text><line x1="602.90" y1="2112.60" x2="602.90" y2="2338.70" stroke="#e3e3e3" stroke-width="1.3"/><line x1="627.38" y1="2112.60" x2="627.38" y2="2338.70" stroke="#e3e3e3" stroke-width="1.3"/><line x1="651.86" y1="2112.60" x2="651.86" y2="2338.70" stroke="#e3e3e3" stroke-width="1.3"/><line x1="676.34" y1="2112.60" x2="676.34" y2="2338.70" stroke="#e3e3e3" stroke-width="1.3"/><line x1="700.82" y1="2112.60" x2="700.82" y2="2338.70" stroke="#e3e3e3" stroke-width="1.3"/><line x1="725.30" y1="2112.60" x2="725.30" y2="2338.70" stroke="#e3e3e3" stroke-width="1.3"/><line x1="749.78" y1="2112.60" x2="749.78" y2="2338.70" stroke="#e3e3e3" stroke-width="1.3"/><line x1="774.26" y1="2112.60" x2="774.26" y2="2338.70" stroke="#e3e3e3" stroke-width="1.3"/><line x1="798.74" y1="2112.60" x2="798.74" y2="2338.70" stroke="#e3e3e3" stroke-width="1.3"/><line x1="823.22" y1="2112.60" x2="823.22" y2="2338.70" stroke="#e3e3e3" stroke-width="1.3"/><line x1="847.70" y1="2112.60" x2="847.70" y2="2338.70" stroke="#e3e3e3" stroke-width="1.3"/><line x1="872.18" y1="2112.60" x2="872.18" y2="2338.70" stroke="#e3e3e3" stroke-width="1.3"/><line x1="591.10" y1="2301.02" x2="884.00" y2="2301.02" stroke="#e3e3e3" stroke-width="1.3"/><line x1="591.10" y1="2263.33" x2="884.00" y2="2263.33" stroke="#e3e3e3" stroke-width="1.3"/><line x1="591.10" y1="2225.65" x2="884.00" y2="2225.65" stroke="#e3e3e3" stroke-width="1.3"/><line x1="591.10" y1="2187.97" x2="884.00" y2="2187.97" stroke="#e3e3e3" stroke-width="1.3"/><line x1="591.10" y1="2150.28" x2="884.00" y2="2150.28" stroke="#e3e3e3" stroke-width="1.3"/><rect x="668.94" y="2212.84" width="14.8" height="7.54" fill="#F8766D" fill-opacity="0.4"/><path d="M676.34,2211.41 L681.14,2216.61 L676.34,2221.81 L671.54,2216.61 Z" fill="#F8766D"/><rect x="668.94" y="2191.55" width="14.8" height="7.54" fill="#7CAE00" fill-opacity="0.4"/><path d="M676.34,2190.11 L681.14,2195.31 L676.34,2200.51 L671.54,2195.31 Z" fill="#7CAE00"/><rect x="668.94" y="2219.62" width="14.8" height="7.54" fill="#00BFC4" fill-opacity="0.4"/><path d="M676.34,2218.19 L681.14,2223.39 L676.34,2228.59 L671.54,2223.39 Z" fill="#00BFC4"/><rect x="668.94" y="2207.37" width="14.8" height="10.93" fill="#C77CFF" fill-opacity="0.4"/><path d="M676.34,2207.64 L681.14,2212.84 L676.34,2218.04 L671.54,2212.84 Z" fill="#C77CFF"/><line x1="578.70" y1="2112.60" x2="896.40" y2="2112.60" stroke="#000" stroke-width="2.0"/><line x1="578.70" y1="2338.70" x2="896.40" y2="2338.70" stroke="#000" stroke-width="2.0"/><line x1="591.10" y1="2112.60" x2="591.10" y2="2338.70" stroke="#000" stroke-width="2.0"/><line x1="884.00" y1="2112.60" x2="884.00" y2="2338.70" stroke="#000" stroke-width="2.0"/><line x1="602.90" y1="2100.20" x2="602.90" y2="2112.60" stroke="#000" stroke-width="2.0"/><line x1="602.90" y1="2338.70" x2="602.90" y2="2350.20" stroke="#000" stroke-width="2.0"/><line x1="627.38" y1="2100.20" x2="627.38" y2="2112.60" stroke="#000" stroke-width="2.0"/><line x1="627.38" y1="2338.70" x2="627.38" y2="2350.20" stroke="#000" stroke-width="2.0"/><line x1="651.86" y1="2100.20" x2="651.86" y2="2112.60" stroke="#000" stroke-width="2.0"/><line x1="651.86" y1="2338.70" x2="651.86" y2="2350.20" stroke="#000" stroke-width="2.0"/><line x1="676.34" y1="2100.20" x2="676.34" y2="2112.60" stroke="#000" stroke-width="2.0"/><line x1="676.34" y1="2338.70" x2="676.34" y2="2350.20" stroke="#000" stroke-width="2.0"/><line x1="700.82" y1="2100.20" x2="700.82" y2="2112.60" stroke="#000" stroke-width="2.0"/><line x1="700.82" y1="2338.70" x2="700.82" y2="2350.20" stroke="#000" stroke-width="2.0"/><line x1="725.30" y1="2100.20" x2="725.30" y2="2112.60" stroke="#000" stroke-width="2.0"/><line x1="725.30" y1="2338.70" x2="725.30" y2="2350.20" stroke="#000" stroke-width="2.0"/><line x1="749.78" y1="2100.20" x2="749.78" y2="2112.60" stroke="#000" stroke-width="2.0"/><line x1="749.78" y1="2338.70" x2="749.78" y2="2350.20" stroke="#000" stroke-width="2.0"/><line x1="774.26" y1="2100.20" x2="774.26" y2="2112.60" stroke="#000" stroke-width="2.0"/><line x1="774.26" y1="2338.70" x2="774.26" y2="2350.20" stroke="#000" stroke-width="2.0"/><line x1="798.74" y1="2100.20" x2="798.74" y2="2112.60" stroke="#000" stroke-width="2.0"/><line x1="798.74" y1="2338.70" x2="798.74" y2="2350.20" stroke="#000" stroke-width="2.0"/><line x1="823.22" y1="2100.20" x2="823.22" y2="2112.60" stroke="#000" stroke-width="2.0"/><line x1="823.22" y1="2338.70" x2="823.22" y2="2350.20" stroke="#000" stroke-width="2.0"/><line x1="847.70" y1="2100.20" x2="847.70" y2="2112.60" stroke="#000" stroke-width="2.0"/><line x1="847.70" y1="2338.70" x2="847.70" y2="2350.20" stroke="#000" stroke-width="2.0"/><line x1="872.18" y1="2100.20" x2="872.18" y2="2112.60" stroke="#000" stroke-width="2.0"/><line x1="872.18" y1="2338.70" x2="872.18" y2="2350.20" stroke="#000" stroke-width="2.0"/><line x1="578.70" y1="2301.02" x2="591.10" y2="2301.02" stroke="#000" stroke-width="2.0"/><line x1="884.00" y1="2301.02" x2="896.40" y2="2301.02" stroke="#000" stroke-width="2.0"/><line x1="578.70" y1="2263.33" x2="591.10" y2="2263.33" stroke="#000" stroke-width="2.0"/><line x1="884.00" y1="2263.33" x2="896.40" y2="2263.33" stroke="#000" stroke-width="2.0"/><line x1="578.70" y1="2225.65" x2="591.10" y2="2225.65" stroke="#000" stroke-width="2.0"/><line x1="884.00" y1="2225.65" x2="896.40" y2="2225.65" stroke="#000" stroke-width="2.0"/><line x1="578.70" y1="2187.97" x2="591.10" y2="2187.97" stroke="#000" stroke-width="2.0"/><line x1="884.00" y1="2187.97" x2="896.40" y2="2187.97" stroke="#000" stroke-width="2.0"/><line x1="578.70" y1="2150.28" x2="591.10" y2="2150.28" stroke="#000" stroke-width="2.0"/><line x1="884.00" y1="2150.28" x2="896.40" y2="2150.28" stroke="#000" stroke-width="2.0"/><text transform="translate(596.17,2383.00) scale(0.9300,1)" font-size="22.40" font-weight="normal" fill="#000">e</text><text transform="translate(623.31,2383.00) scale(0.9300,1)" font-size="22.40" font-weight="normal" fill="#000">f</text><text transform="translate(642.16,2383.00) scale(0.9300,1)" font-size="22.40" font-weight="normal" fill="#000">m</text><text transform="translate(669.14,2383.00) scale(0.9300,1)" font-size="22.40" font-weight="normal" fill="#000">a</text><text transform="translate(691.12,2383.00) scale(0.9300,1)" font-size="22.40" font-weight="normal" fill="#000">m</text><text transform="translate(722.95,2383.00) scale(0.9300,1)" font-size="22.40" font-weight="normal" fill="#000">j</text><text transform="translate(747.43,2383.00) scale(0.9300,1)" font-size="22.40" font-weight="normal" fill="#000">j</text><text transform="translate(767.06,2383.00) scale(0.9300,1)" font-size="22.40" font-weight="normal" fill="#000">a</text><text transform="translate(792.58,2383.00) scale(0.9300,1)" font-size="22.40" font-weight="normal" fill="#000">s</text><text transform="translate(816.44,2383.00) scale(0.9300,1)" font-size="22.40" font-weight="normal" fill="#000">o</text><text transform="translate(840.92,2383.00) scale(0.9300,1)" font-size="22.40" font-weight="normal" fill="#000">n</text><text transform="translate(865.66,2383.00) scale(0.9300,1)" font-size="22.40" font-weight="normal" fill="#000">d</text><text transform="translate(547.51,2311.62) scale(0.8000,1)" font-size="22.90" font-weight="normal" fill="#000">20</text><text transform="translate(547.51,2273.93) scale(0.8000,1)" font-size="22.90" font-weight="normal" fill="#000">40</text><text transform="translate(547.51,2236.25) scale(0.8000,1)" font-size="22.90" font-weight="normal" fill="#000">60</text><text transform="translate(547.51,2198.57) scale(0.8000,1)" font-size="22.90" font-weight="normal" fill="#000">80</text><text transform="translate(537.34,2160.88) scale(0.8000,1)" font-size="22.90" font-weight="normal" fill="#000">100</text><g transform="translate(510.40,2286.40) rotate(-90) scale(0.9720)"><text transform="translate(-1.26,0.00) scale(1.0062,1)" font-size="27.86" font-weight="normal" fill="#000" >O</text><text transform="translate(19.15,4.50) scale(0.9788,1)" font-size="19.14" font-weight="normal" fill="#000" >3</text><text transform="translate(31.71,-0.64) scale(0.8973,1)" font-size="23.40" font-weight="normal" fill="#000">,</text><text transform="translate(43.29,0.00) scale(1.0049,1)" font-size="27.10" font-weight="normal" fill="#000" >µg</text><text transform="translate(79.62,0.00) scale(0.9988,1)" font-size="27.41" font-weight="normal" fill="#000" >m</text><line x1="102.2" y1="-19.7" x2="111.0" y2="-19.7" stroke="#000" stroke-width="1.7"/><text transform="translate(110.27,-13.60) scale(0.9358,1)" font-size="19.57" font-weight="normal" fill="#000" >3</text></g><text transform="translate(704.37,2429.10) scale(0.9507,1)" font-size="24.69" font-weight="normal" fill="#000" >month</text><line x1="1082.30" y1="2113.40" x2="1082.30" y2="2339.20" stroke="#e3e3e3" stroke-width="1.3"/><line x1="1127.37" y1="2113.40" x2="1127.37" y2="2339.20" stroke="#e3e3e3" stroke-width="1.3"/><line x1="1172.44" y1="2113.40" x2="1172.44" y2="2339.20" stroke="#e3e3e3" stroke-width="1.3"/><line x1="1217.51" y1="2113.40" x2="1217.51" y2="2339.20" stroke="#e3e3e3" stroke-width="1.3"/><line x1="1262.58" y1="2113.40" x2="1262.58" y2="2339.20" stroke="#e3e3e3" stroke-width="1.3"/><line x1="1307.65" y1="2113.40" x2="1307.65" y2="2339.20" stroke="#e3e3e3" stroke-width="1.3"/><line x1="1352.72" y1="2113.40" x2="1352.72" y2="2339.20" stroke="#e3e3e3" stroke-width="1.3"/><line x1="1064.70" y1="2301.57" x2="1372.00" y2="2301.57" stroke="#e3e3e3" stroke-width="1.3"/><line x1="1064.70" y1="2263.93" x2="1372.00" y2="2263.93" stroke="#e3e3e3" stroke-width="1.3"/><line x1="1064.70" y1="2226.30" x2="1372.00" y2="2226.30" stroke="#e3e3e3" stroke-width="1.3"/><line x1="1064.70" y1="2188.67" x2="1372.00" y2="2188.67" stroke="#e3e3e3" stroke-width="1.3"/><line x1="1064.70" y1="2151.03" x2="1372.00" y2="2151.03" stroke="#e3e3e3" stroke-width="1.3"/><svg x="1064.7" y="2113.4" width="307.29999999999995" height="225.79999999999973" viewBox="1064.7 2113.4 307.29999999999995 225.79999999999973" overflow="hidden"><rect x="1069.23" y="2206.73" width="26.14" height="13.92" fill="#F8766D" fill-opacity="0.4"/><rect x="1114.30" y="2214.07" width="26.14" height="13.17" fill="#F8766D" fill-opacity="0.4"/><rect x="1159.37" y="2215.95" width="26.14" height="13.17" fill="#F8766D" fill-opacity="0.4"/><rect x="1204.44" y="2219.15" width="26.14" height="20.70" fill="#F8766D" fill-opacity="0.4"/><rect x="1249.51" y="2230.63" width="26.14" height="15.05" fill="#F8766D" fill-opacity="0.4"/><rect x="1294.58" y="2206.92" width="26.14" height="17.31" fill="#F8766D" fill-opacity="0.4"/><rect x="1339.65" y="2186.97" width="26.14" height="15.05" fill="#F8766D" fill-opacity="0.4"/><path d="M1082.30,2213.69 L1127.37,2220.65 L1172.44,2222.54 L1217.51,2229.50 L1262.58,2238.15 L1307.65,2215.57 L1352.72,2194.50" fill="none" stroke="#F8766D" stroke-width="2.8" stroke-linejoin="round"/><rect x="1069.23" y="2176.06" width="26.14" height="24.46" fill="#7CAE00" fill-opacity="0.4"/><rect x="1114.30" y="2172.67" width="26.14" height="19.57" fill="#7CAE00" fill-opacity="0.4"/><rect x="1159.37" y="2206.92" width="26.14" height="17.31" fill="#7CAE00" fill-opacity="0.4"/><rect x="1204.44" y="2189.42" width="26.14" height="17.31" fill="#7CAE00" fill-opacity="0.4"/><rect x="1249.51" y="2183.96" width="26.14" height="14.30" fill="#7CAE00" fill-opacity="0.4"/><rect x="1294.58" y="2186.41" width="26.14" height="15.05" fill="#7CAE00" fill-opacity="0.4"/><rect x="1339.65" y="2183.77" width="26.14" height="20.32" fill="#7CAE00" fill-opacity="0.4"/><path d="M1082.30,2188.29 L1127.37,2182.46 L1172.44,2215.57 L1217.51,2198.07 L1262.58,2191.11 L1307.65,2193.94 L1352.72,2193.94" fill="none" stroke="#7CAE00" stroke-width="2.8" stroke-linejoin="round"/><rect x="1069.23" y="2214.26" width="26.14" height="18.44" fill="#00BFC4" fill-opacity="0.4"/><rect x="1114.30" y="2213.88" width="26.14" height="19.19" fill="#00BFC4" fill-opacity="0.4"/><rect x="1159.37" y="2219.71" width="26.14" height="15.81" fill="#00BFC4" fill-opacity="0.4"/><rect x="1204.44" y="2212.19" width="26.14" height="20.70" fill="#00BFC4" fill-opacity="0.4"/><rect x="1249.51" y="2228.56" width="26.14" height="22.58" fill="#00BFC4" fill-opacity="0.4"/><rect x="1294.58" y="2198.07" width="26.14" height="17.31" fill="#00BFC4" fill-opacity="0.4"/><rect x="1339.65" y="2200.71" width="26.14" height="22.58" fill="#00BFC4" fill-opacity="0.4"/><path d="M1082.30,2223.48 L1127.37,2223.48 L1172.44,2227.62 L1217.51,2222.54 L1262.58,2239.85 L1307.65,2206.73 L1352.72,2212.00" fill="none" stroke="#00BFC4" stroke-width="2.8" stroke-linejoin="round"/><rect x="1069.23" y="2192.43" width="26.14" height="20.32" fill="#C77CFF" fill-opacity="0.4"/><rect x="1114.30" y="2194.12" width="26.14" height="18.44" fill="#C77CFF" fill-opacity="0.4"/><rect x="1159.37" y="2192.99" width="26.14" height="26.34" fill="#C77CFF" fill-opacity="0.4"/><rect x="1204.44" y="2206.17" width="26.14" height="18.82" fill="#C77CFF" fill-opacity="0.4"/><rect x="1249.51" y="2228.56" width="26.14" height="22.58" fill="#C77CFF" fill-opacity="0.4"/><rect x="1294.58" y="2225.92" width="26.14" height="31.24" fill="#C77CFF" fill-opacity="0.4"/><rect x="1339.65" y="2183.59" width="26.14" height="28.98" fill="#C77CFF" fill-opacity="0.4"/><path d="M1082.30,2202.59 L1127.37,2203.34 L1172.44,2206.17 L1217.51,2215.57 L1262.58,2239.85 L1307.65,2241.54 L1352.72,2198.07" fill="none" stroke="#C77CFF" stroke-width="2.8" stroke-linejoin="round"/></svg><line x1="1053.40" y1="2113.40" x2="1383.30" y2="2113.40" stroke="#000" stroke-width="2.0"/><line x1="1053.40" y1="2339.20" x2="1383.30" y2="2339.20" stroke="#000" stroke-width="2.0"/><line x1="1064.70" y1="2113.40" x2="1064.70" y2="2339.20" stroke="#000" stroke-width="2.0"/><line x1="1372.00" y1="2113.40" x2="1372.00" y2="2339.20" stroke="#000" stroke-width="2.0"/><line x1="1082.30" y1="2101.00" x2="1082.30" y2="2113.40" stroke="#000" stroke-width="2.0"/><line x1="1082.30" y1="2339.20" x2="1082.30" y2="2350.70" stroke="#000" stroke-width="2.0"/><line x1="1127.37" y1="2101.00" x2="1127.37" y2="2113.40" stroke="#000" stroke-width="2.0"/><line x1="1127.37" y1="2339.20" x2="1127.37" y2="2350.70" stroke="#000" stroke-width="2.0"/><line x1="1172.44" y1="2101.00" x2="1172.44" y2="2113.40" stroke="#000" stroke-width="2.0"/><line x1="1172.44" y1="2339.20" x2="1172.44" y2="2350.70" stroke="#000" stroke-width="2.0"/><line x1="1217.51" y1="2101.00" x2="1217.51" y2="2113.40" stroke="#000" stroke-width="2.0"/><line x1="1217.51" y1="2339.20" x2="1217.51" y2="2350.70" stroke="#000" stroke-width="2.0"/><line x1="1262.58" y1="2101.00" x2="1262.58" y2="2113.40" stroke="#000" stroke-width="2.0"/><line x1="1262.58" y1="2339.20" x2="1262.58" y2="2350.70" stroke="#000" stroke-width="2.0"/><line x1="1307.65" y1="2101.00" x2="1307.65" y2="2113.40" stroke="#000" stroke-width="2.0"/><line x1="1307.65" y1="2339.20" x2="1307.65" y2="2350.70" stroke="#000" stroke-width="2.0"/><line x1="1352.72" y1="2101.00" x2="1352.72" y2="2113.40" stroke="#000" stroke-width="2.0"/><line x1="1352.72" y1="2339.20" x2="1352.72" y2="2350.70" stroke="#000" stroke-width="2.0"/><line x1="1053.40" y1="2301.57" x2="1064.70" y2="2301.57" stroke="#000" stroke-width="2.0"/><line x1="1372.00" y1="2301.57" x2="1383.30" y2="2301.57" stroke="#000" stroke-width="2.0"/><line x1="1053.40" y1="2263.93" x2="1064.70" y2="2263.93" stroke="#000" stroke-width="2.0"/><line x1="1372.00" y1="2263.93" x2="1383.30" y2="2263.93" stroke="#000" stroke-width="2.0"/><line x1="1053.40" y1="2226.30" x2="1064.70" y2="2226.30" stroke="#000" stroke-width="2.0"/><line x1="1372.00" y1="2226.30" x2="1383.30" y2="2226.30" stroke="#000" stroke-width="2.0"/><line x1="1053.40" y1="2188.67" x2="1064.70" y2="2188.67" stroke="#000" stroke-width="2.0"/><line x1="1372.00" y1="2188.67" x2="1383.30" y2="2188.67" stroke="#000" stroke-width="2.0"/><line x1="1053.40" y1="2151.03" x2="1064.70" y2="2151.03" stroke="#000" stroke-width="2.0"/><line x1="1372.00" y1="2151.03" x2="1383.30" y2="2151.03" stroke="#000" stroke-width="2.0"/><text transform="translate(1070.57,2383.00) scale(0.9300,1)" font-size="22.40" font-weight="normal" fill="#000">lu.</text><text transform="translate(1109.29,2383.00) scale(0.9300,1)" font-size="22.40" font-weight="normal" fill="#000">ma.</text><text transform="translate(1157.85,2383.00) scale(0.9300,1)" font-size="22.40" font-weight="normal" fill="#000">mi.</text><text transform="translate(1206.72,2383.00) scale(0.9300,1)" font-size="22.40" font-weight="normal" fill="#000">ju.</text><text transform="translate(1252.10,2383.00) scale(0.9300,1)" font-size="22.40" font-weight="normal" fill="#000">vi.</text><text transform="translate(1293.42,2383.00) scale(0.9300,1)" font-size="22.40" font-weight="normal" fill="#000">sá.</text><text transform="translate(1337.81,2383.00) scale(0.9300,1)" font-size="22.40" font-weight="normal" fill="#000">do.</text><text transform="translate(1021.51,2312.17) scale(0.8000,1)" font-size="22.90" font-weight="normal" fill="#000">20</text><text transform="translate(1021.51,2274.53) scale(0.8000,1)" font-size="22.90" font-weight="normal" fill="#000">40</text><text transform="translate(1021.51,2236.90) scale(0.8000,1)" font-size="22.90" font-weight="normal" fill="#000">60</text><text transform="translate(1021.51,2199.27) scale(0.8000,1)" font-size="22.90" font-weight="normal" fill="#000">80</text><text transform="translate(1011.34,2161.63) scale(0.8000,1)" font-size="22.90" font-weight="normal" fill="#000">100</text><g transform="translate(983.90,2286.40) rotate(-90) scale(0.9720)"><text transform="translate(-1.26,0.00) scale(1.0062,1)" font-size="27.86" font-weight="normal" fill="#000" >O</text><text transform="translate(19.15,4.50) scale(0.9788,1)" font-size="19.14" font-weight="normal" fill="#000" >3</text><text transform="translate(31.71,-0.64) scale(0.8973,1)" font-size="23.40" font-weight="normal" fill="#000">,</text><text transform="translate(43.29,0.00) scale(1.0049,1)" font-size="27.10" font-weight="normal" fill="#000" >µg</text><text transform="translate(79.62,0.00) scale(0.9988,1)" font-size="27.41" font-weight="normal" fill="#000" >m</text><line x1="102.2" y1="-19.7" x2="111.0" y2="-19.7" stroke="#000" stroke-width="1.7"/><text transform="translate(110.27,-13.60) scale(0.9358,1)" font-size="19.57" font-weight="normal" fill="#000" >3</text></g><text transform="translate(1171.80,2431.00) scale(0.8908,1)" font-size="26.21" font-weight="normal" fill="#000" >weekday</text><text transform="translate(486.79,2465.00) scale(0.8380,1)" font-size="27.72" font-weight="normal" fill="#000" >mean and 95% confidence interval in mean</text>
<text transform="translate(1420.32,790.34) scale(0.8808,1)" font-size="27.91" font-weight="normal" fill="#000">a)</text>
<text transform="translate(1420.14,1630.22) scale(0.9673,1)" font-size="28.02" font-weight="normal" fill="#000">b)</text>
<text transform="translate(1385.27,2467.05) scale(0.8455,1)" font-size="27.38" font-weight="normal" fill="#000">c)</text>
</svg></body></html>
